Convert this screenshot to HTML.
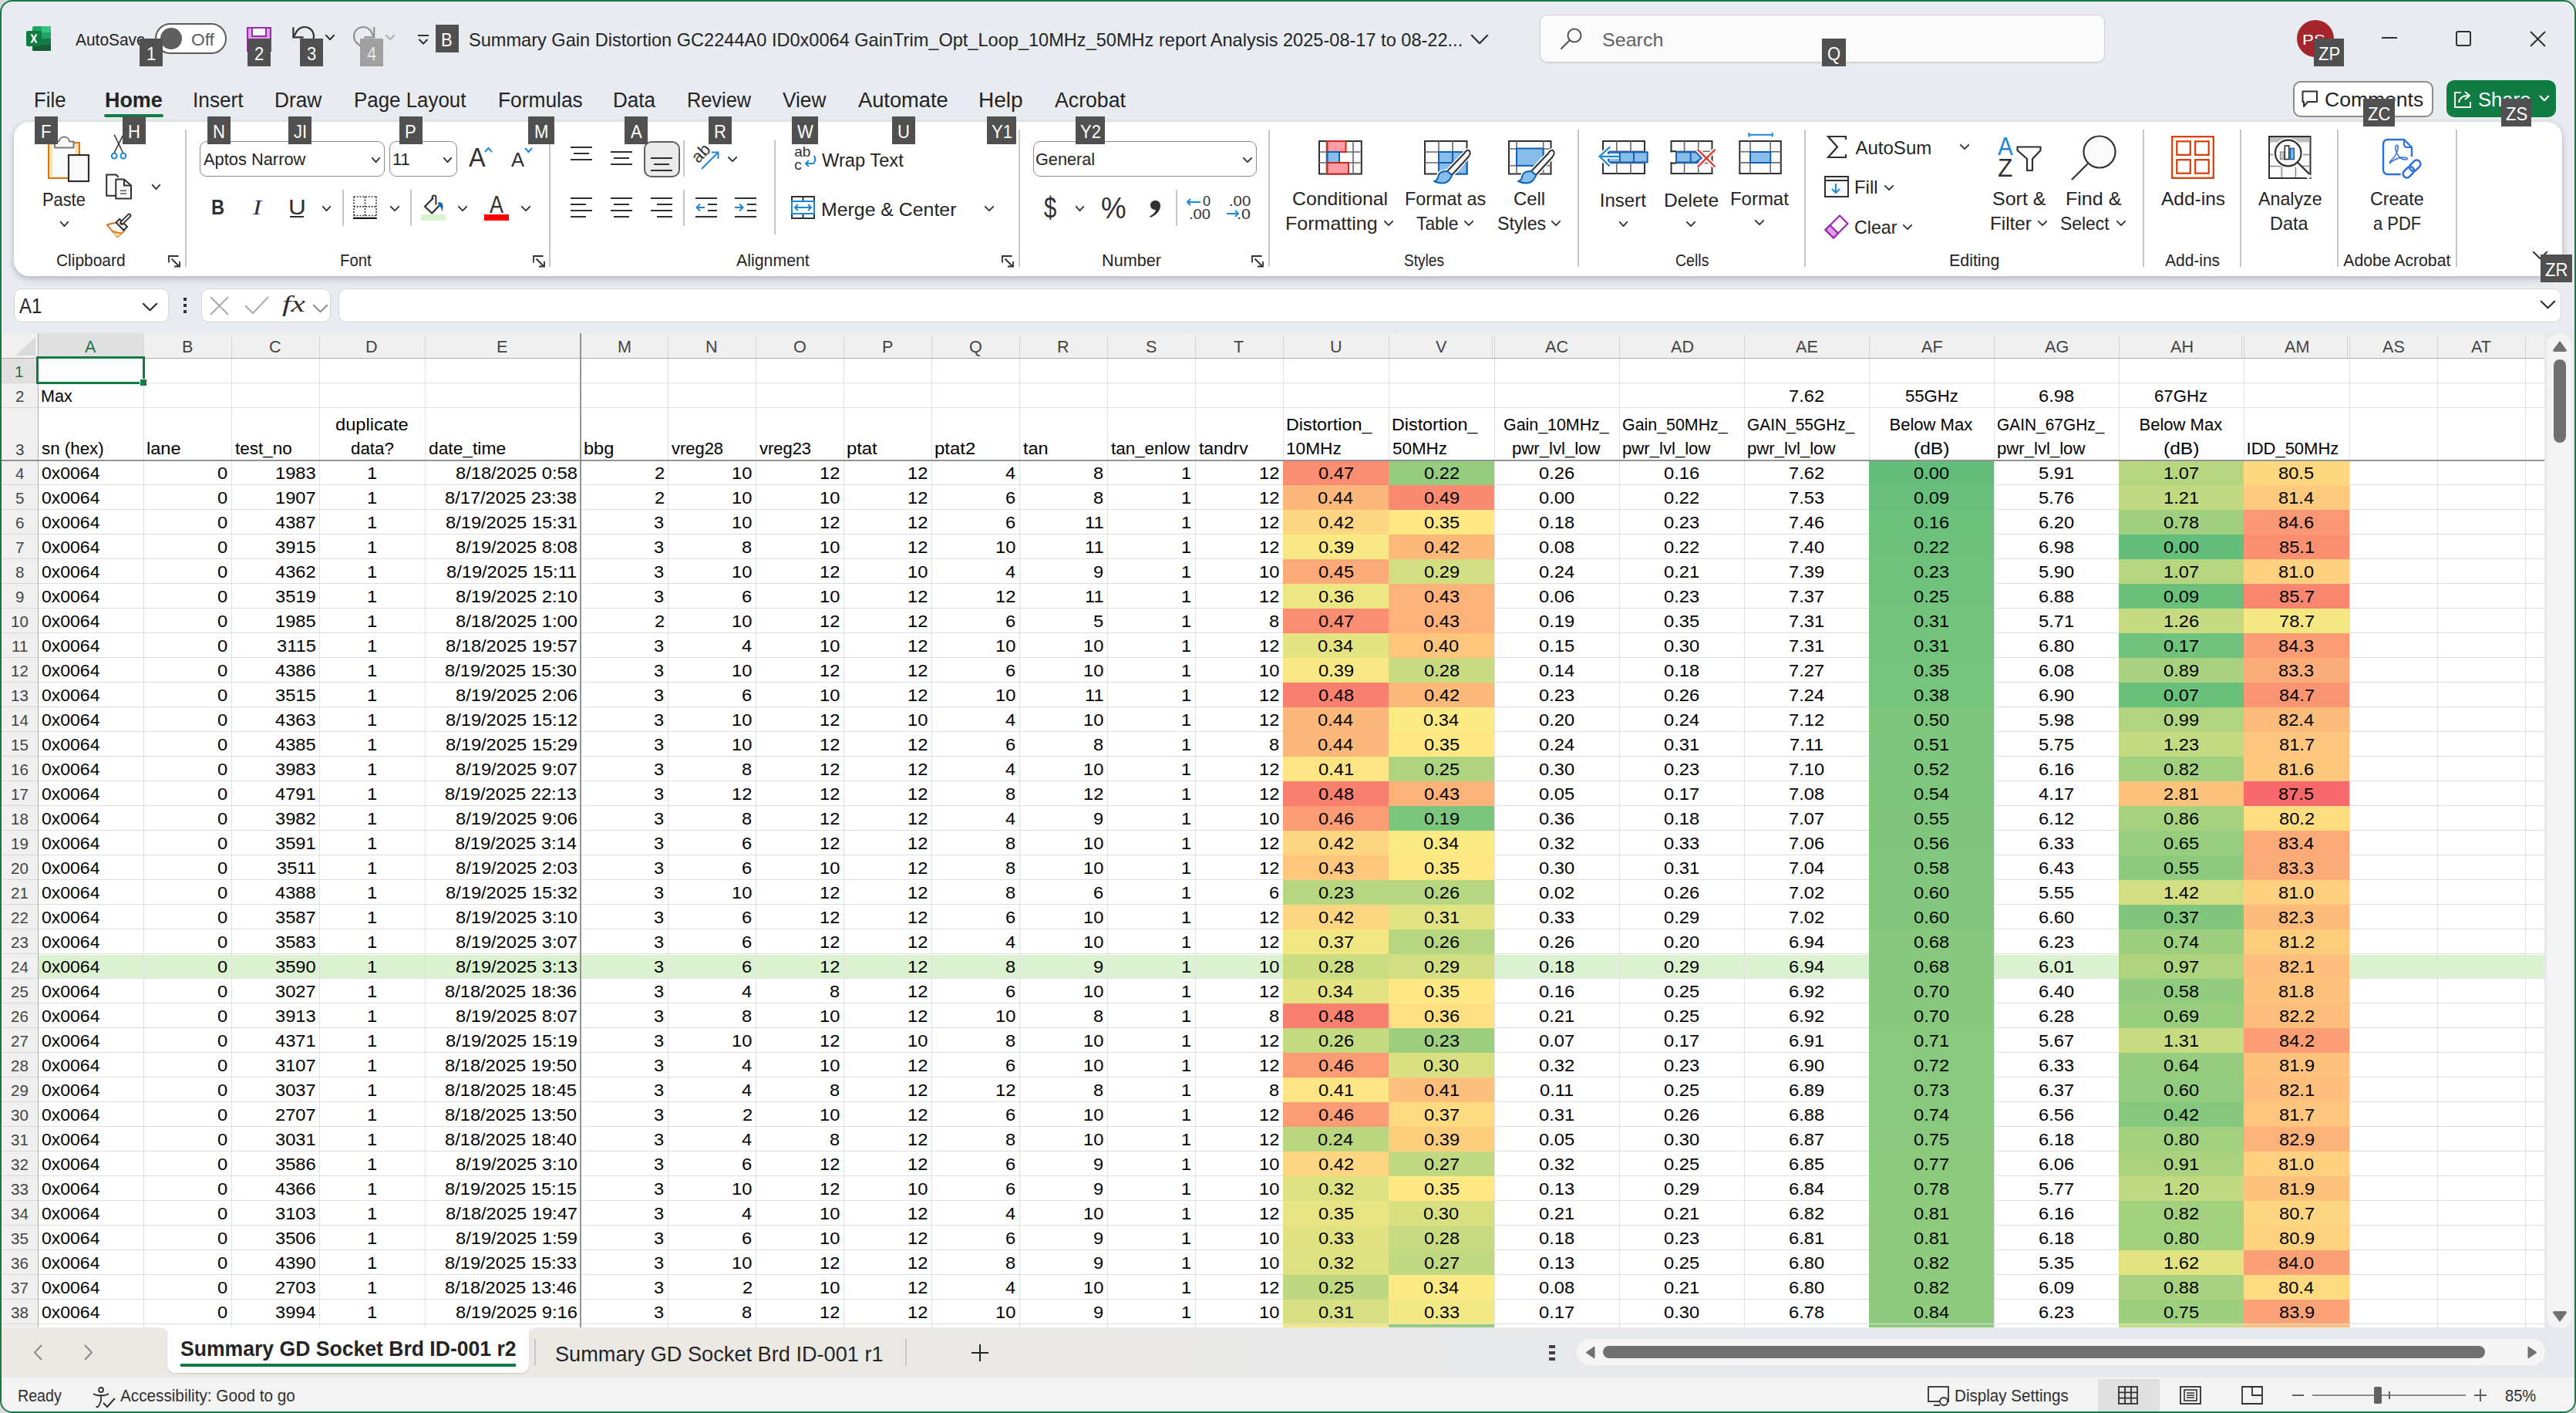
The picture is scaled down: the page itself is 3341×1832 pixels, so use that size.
<!DOCTYPE html><html><head><meta charset="utf-8"><title>Excel</title><style>
*{margin:0;padding:0;box-sizing:border-box}
html,body{width:3341px;height:1832px;overflow:hidden;background:#e8ebf0;font-family:'Liberation Sans',sans-serif}
.t{position:absolute;white-space:nowrap;line-height:1;transform-origin:0 0}
.r{position:absolute}
.s{position:absolute;overflow:visible}
</style></head><body>
<div class="r" style="left:0px;top:0px;width:3341px;height:1832px;background:#d9d9d9;"></div>
<div class="r" style="left:0px;top:0px;width:3341px;height:1832px;background:#e8ebf0;border:2px solid #107c41;border-radius:16px;"></div>
<div class="r" style="left:2px;top:432px;width:3298px;height:1289px;background:#ffffff;"></div>
<div class="r" style="left:2px;top:432px;width:3298px;height:32px;background:#f0f0f0;"></div>
<div class="r" style="left:49px;top:432px;width:137px;height:32px;background:#e0e0e0;"></div>
<div class="r" style="left:2px;top:464px;width:47px;height:1257px;background:#f0f0f0;"></div>
<div class="r" style="left:2px;top:464px;width:47px;height:32px;background:#e0e0e0;"></div>
<svg class="s" style="left:18px;top:436px" width="30" height="27" viewBox="0 0 30 27" fill="none"><path d="M28 1 L28 25 L2 25 Z" fill="#dadada"/></svg>
<div class="r" style="left:49px;top:1238px;width:3251px;height:30px;background:#daf2d0;"></div>
<div class="r" style="left:1664px;top:598px;width:137px;height:31px;background:#fa8d72;"></div>
<div class="r" style="left:1801px;top:598px;width:137px;height:31px;background:#95cc7e;"></div>
<div class="r" style="left:2424px;top:598px;width:162px;height:31px;background:#63be7b;"></div>
<div class="r" style="left:2748px;top:598px;width:162px;height:31px;background:#b6d680;"></div>
<div class="r" style="left:2910px;top:598px;width:137px;height:31px;background:#fed880;"></div>
<div class="r" style="left:1664px;top:629px;width:137px;height:32px;background:#fcb87a;"></div>
<div class="r" style="left:1801px;top:629px;width:137px;height:32px;background:#fa8b71;"></div>
<div class="r" style="left:2424px;top:629px;width:162px;height:32px;background:#68bf7b;"></div>
<div class="r" style="left:2748px;top:629px;width:162px;height:32px;background:#c1d980;"></div>
<div class="r" style="left:2910px;top:629px;width:137px;height:32px;background:#fdca7e;"></div>
<div class="r" style="left:1664px;top:661px;width:137px;height:32px;background:#fed580;"></div>
<div class="r" style="left:1801px;top:661px;width:137px;height:32px;background:#ffe783;"></div>
<div class="r" style="left:2424px;top:661px;width:162px;height:32px;background:#6bc07b;"></div>
<div class="r" style="left:2748px;top:661px;width:162px;height:32px;background:#a0d07f;"></div>
<div class="r" style="left:2910px;top:661px;width:137px;height:32px;background:#fa9774;"></div>
<div class="r" style="left:1664px;top:693px;width:137px;height:32px;background:#f9e984;"></div>
<div class="r" style="left:1801px;top:693px;width:137px;height:32px;background:#fcb97a;"></div>
<div class="r" style="left:2424px;top:693px;width:162px;height:32px;background:#6ec17c;"></div>
<div class="r" style="left:2748px;top:693px;width:162px;height:32px;background:#63be7b;"></div>
<div class="r" style="left:2910px;top:693px;width:137px;height:32px;background:#fa8f72;"></div>
<div class="r" style="left:1664px;top:725px;width:137px;height:32px;background:#fcaa78;"></div>
<div class="r" style="left:1801px;top:725px;width:137px;height:32px;background:#d1de81;"></div>
<div class="r" style="left:2424px;top:725px;width:162px;height:32px;background:#6fc17c;"></div>
<div class="r" style="left:2748px;top:725px;width:162px;height:32px;background:#b6d680;"></div>
<div class="r" style="left:2910px;top:725px;width:137px;height:32px;background:#fed07f;"></div>
<div class="r" style="left:1664px;top:757px;width:137px;height:32px;background:#ece683;"></div>
<div class="r" style="left:1801px;top:757px;width:137px;height:32px;background:#fcb279;"></div>
<div class="r" style="left:2424px;top:757px;width:162px;height:32px;background:#70c27c;"></div>
<div class="r" style="left:2748px;top:757px;width:162px;height:32px;background:#6ac07b;"></div>
<div class="r" style="left:2910px;top:757px;width:137px;height:32px;background:#fa8670;"></div>
<div class="r" style="left:1664px;top:789px;width:137px;height:32px;background:#fa8d72;"></div>
<div class="r" style="left:1801px;top:789px;width:137px;height:32px;background:#fcb279;"></div>
<div class="r" style="left:2424px;top:789px;width:162px;height:32px;background:#73c37c;"></div>
<div class="r" style="left:2748px;top:789px;width:162px;height:32px;background:#c5da81;"></div>
<div class="r" style="left:2910px;top:789px;width:137px;height:32px;background:#f5e883;"></div>
<div class="r" style="left:1664px;top:821px;width:137px;height:32px;background:#e4e382;"></div>
<div class="r" style="left:1801px;top:821px;width:137px;height:32px;background:#fdc67d;"></div>
<div class="r" style="left:2424px;top:821px;width:162px;height:32px;background:#73c37c;"></div>
<div class="r" style="left:2748px;top:821px;width:162px;height:32px;background:#70c27c;"></div>
<div class="r" style="left:2910px;top:821px;width:137px;height:32px;background:#fb9c75;"></div>
<div class="r" style="left:1664px;top:853px;width:137px;height:32px;background:#f9e984;"></div>
<div class="r" style="left:1801px;top:853px;width:137px;height:32px;background:#c8db81;"></div>
<div class="r" style="left:2424px;top:853px;width:162px;height:32px;background:#75c37c;"></div>
<div class="r" style="left:2748px;top:853px;width:162px;height:32px;background:#a8d27f;"></div>
<div class="r" style="left:2910px;top:853px;width:137px;height:32px;background:#fcac78;"></div>
<div class="r" style="left:1664px;top:885px;width:137px;height:32px;background:#f97f6f;"></div>
<div class="r" style="left:1801px;top:885px;width:137px;height:32px;background:#fcb97a;"></div>
<div class="r" style="left:2424px;top:885px;width:162px;height:32px;background:#77c47c;"></div>
<div class="r" style="left:2748px;top:885px;width:162px;height:32px;background:#68c07b;"></div>
<div class="r" style="left:2910px;top:885px;width:137px;height:32px;background:#fa9574;"></div>
<div class="r" style="left:1664px;top:917px;width:137px;height:32px;background:#fcb87a;"></div>
<div class="r" style="left:1801px;top:917px;width:137px;height:32px;background:#fcea84;"></div>
<div class="r" style="left:2424px;top:917px;width:162px;height:32px;background:#7dc67c;"></div>
<div class="r" style="left:2748px;top:917px;width:162px;height:32px;background:#b0d47f;"></div>
<div class="r" style="left:2910px;top:917px;width:137px;height:32px;background:#fcba7b;"></div>
<div class="r" style="left:1664px;top:949px;width:137px;height:32px;background:#fcb87a;"></div>
<div class="r" style="left:1801px;top:949px;width:137px;height:32px;background:#ffe783;"></div>
<div class="r" style="left:2424px;top:949px;width:162px;height:32px;background:#7ec67d;"></div>
<div class="r" style="left:2748px;top:949px;width:162px;height:32px;background:#c3da81;"></div>
<div class="r" style="left:2910px;top:949px;width:137px;height:32px;background:#fdc57d;"></div>
<div class="r" style="left:1664px;top:981px;width:137px;height:32px;background:#ffe483;"></div>
<div class="r" style="left:1801px;top:981px;width:137px;height:32px;background:#aed47f;"></div>
<div class="r" style="left:2424px;top:981px;width:162px;height:32px;background:#7ec67d;"></div>
<div class="r" style="left:2748px;top:981px;width:162px;height:32px;background:#a3d07f;"></div>
<div class="r" style="left:2910px;top:981px;width:137px;height:32px;background:#fdc77d;"></div>
<div class="r" style="left:1664px;top:1013px;width:137px;height:32px;background:#f97f6f;"></div>
<div class="r" style="left:1801px;top:1013px;width:137px;height:32px;background:#fcb279;"></div>
<div class="r" style="left:2424px;top:1013px;width:162px;height:32px;background:#7fc67d;"></div>
<div class="r" style="left:2748px;top:1013px;width:162px;height:32px;background:#fdc27c;"></div>
<div class="r" style="left:2910px;top:1013px;width:137px;height:32px;background:#f8696b;"></div>
<div class="r" style="left:1664px;top:1045px;width:137px;height:32px;background:#fb9c75;"></div>
<div class="r" style="left:1801px;top:1045px;width:137px;height:32px;background:#7bc57c;"></div>
<div class="r" style="left:2424px;top:1045px;width:162px;height:32px;background:#80c67d;"></div>
<div class="r" style="left:2748px;top:1045px;width:162px;height:32px;background:#a6d17f;"></div>
<div class="r" style="left:2910px;top:1045px;width:137px;height:32px;background:#fedd81;"></div>
<div class="r" style="left:1664px;top:1077px;width:137px;height:32px;background:#fed580;"></div>
<div class="r" style="left:1801px;top:1077px;width:137px;height:32px;background:#fcea84;"></div>
<div class="r" style="left:2424px;top:1077px;width:162px;height:32px;background:#80c67d;"></div>
<div class="r" style="left:2748px;top:1077px;width:162px;height:32px;background:#96cd7e;"></div>
<div class="r" style="left:2910px;top:1077px;width:137px;height:32px;background:#fcaa77;"></div>
<div class="r" style="left:1664px;top:1109px;width:137px;height:32px;background:#fdc77d;"></div>
<div class="r" style="left:1801px;top:1109px;width:137px;height:32px;background:#ffe783;"></div>
<div class="r" style="left:2424px;top:1109px;width:162px;height:32px;background:#81c77d;"></div>
<div class="r" style="left:2748px;top:1109px;width:162px;height:32px;background:#8eca7d;"></div>
<div class="r" style="left:2910px;top:1109px;width:137px;height:32px;background:#fcac78;"></div>
<div class="r" style="left:1664px;top:1141px;width:137px;height:32px;background:#b6d680;"></div>
<div class="r" style="left:1801px;top:1141px;width:137px;height:32px;background:#b7d680;"></div>
<div class="r" style="left:2424px;top:1141px;width:162px;height:32px;background:#82c77d;"></div>
<div class="r" style="left:2748px;top:1141px;width:162px;height:32px;background:#d2de81;"></div>
<div class="r" style="left:2910px;top:1141px;width:137px;height:32px;background:#fed07f;"></div>
<div class="r" style="left:1664px;top:1173px;width:137px;height:32px;background:#fed580;"></div>
<div class="r" style="left:1801px;top:1173px;width:137px;height:32px;background:#e2e382;"></div>
<div class="r" style="left:2424px;top:1173px;width:162px;height:32px;background:#82c77d;"></div>
<div class="r" style="left:2748px;top:1173px;width:162px;height:32px;background:#80c67d;"></div>
<div class="r" style="left:2910px;top:1173px;width:137px;height:32px;background:#fcbb7b;"></div>
<div class="r" style="left:1664px;top:1205px;width:137px;height:32px;background:#f0e783;"></div>
<div class="r" style="left:1801px;top:1205px;width:137px;height:32px;background:#b7d680;"></div>
<div class="r" style="left:2424px;top:1205px;width:162px;height:32px;background:#86c87d;"></div>
<div class="r" style="left:2748px;top:1205px;width:162px;height:32px;background:#9dcf7e;"></div>
<div class="r" style="left:2910px;top:1205px;width:137px;height:32px;background:#fdcd7e;"></div>
<div class="r" style="left:1664px;top:1237px;width:137px;height:32px;background:#cbdc81;"></div>
<div class="r" style="left:1801px;top:1237px;width:137px;height:32px;background:#d1de81;"></div>
<div class="r" style="left:2424px;top:1237px;width:162px;height:32px;background:#86c87d;"></div>
<div class="r" style="left:2748px;top:1237px;width:162px;height:32px;background:#afd47f;"></div>
<div class="r" style="left:2910px;top:1237px;width:137px;height:32px;background:#fdbf7b;"></div>
<div class="r" style="left:1664px;top:1269px;width:137px;height:32px;background:#e4e382;"></div>
<div class="r" style="left:1801px;top:1269px;width:137px;height:32px;background:#ffe783;"></div>
<div class="r" style="left:2424px;top:1269px;width:162px;height:32px;background:#87c87d;"></div>
<div class="r" style="left:2748px;top:1269px;width:162px;height:32px;background:#90cb7e;"></div>
<div class="r" style="left:2910px;top:1269px;width:137px;height:32px;background:#fdc37c;"></div>
<div class="r" style="left:1664px;top:1301px;width:137px;height:32px;background:#f97f6f;"></div>
<div class="r" style="left:1801px;top:1301px;width:137px;height:32px;background:#fee082;"></div>
<div class="r" style="left:2424px;top:1301px;width:162px;height:32px;background:#87c87d;"></div>
<div class="r" style="left:2748px;top:1301px;width:162px;height:32px;background:#99ce7e;"></div>
<div class="r" style="left:2910px;top:1301px;width:137px;height:32px;background:#fdbd7b;"></div>
<div class="r" style="left:1664px;top:1333px;width:137px;height:32px;background:#c3da81;"></div>
<div class="r" style="left:1801px;top:1333px;width:137px;height:32px;background:#9dcf7e;"></div>
<div class="r" style="left:2424px;top:1333px;width:162px;height:32px;background:#88c97d;"></div>
<div class="r" style="left:2748px;top:1333px;width:162px;height:32px;background:#c9db81;"></div>
<div class="r" style="left:2910px;top:1333px;width:137px;height:32px;background:#fb9d75;"></div>
<div class="r" style="left:1664px;top:1365px;width:137px;height:32px;background:#fb9c75;"></div>
<div class="r" style="left:1801px;top:1365px;width:137px;height:32px;background:#d9e082;"></div>
<div class="r" style="left:2424px;top:1365px;width:162px;height:32px;background:#88c97d;"></div>
<div class="r" style="left:2748px;top:1365px;width:162px;height:32px;background:#95cc7e;"></div>
<div class="r" style="left:2910px;top:1365px;width:137px;height:32px;background:#fdc27c;"></div>
<div class="r" style="left:1664px;top:1397px;width:137px;height:32px;background:#ffe483;"></div>
<div class="r" style="left:1801px;top:1397px;width:137px;height:32px;background:#fdbf7c;"></div>
<div class="r" style="left:2424px;top:1397px;width:162px;height:32px;background:#89c97d;"></div>
<div class="r" style="left:2748px;top:1397px;width:162px;height:32px;background:#92cc7e;"></div>
<div class="r" style="left:2910px;top:1397px;width:137px;height:32px;background:#fdbf7b;"></div>
<div class="r" style="left:1664px;top:1429px;width:137px;height:32px;background:#fb9c75;"></div>
<div class="r" style="left:1801px;top:1429px;width:137px;height:32px;background:#feda81;"></div>
<div class="r" style="left:2424px;top:1429px;width:162px;height:32px;background:#89c97d;"></div>
<div class="r" style="left:2748px;top:1429px;width:162px;height:32px;background:#84c77d;"></div>
<div class="r" style="left:2910px;top:1429px;width:137px;height:32px;background:#fdc57d;"></div>
<div class="r" style="left:1664px;top:1461px;width:137px;height:32px;background:#bad780;"></div>
<div class="r" style="left:1801px;top:1461px;width:137px;height:32px;background:#fdcd7e;"></div>
<div class="r" style="left:2424px;top:1461px;width:162px;height:32px;background:#8ac97d;"></div>
<div class="r" style="left:2748px;top:1461px;width:162px;height:32px;background:#a1d07f;"></div>
<div class="r" style="left:2910px;top:1461px;width:137px;height:32px;background:#fcb279;"></div>
<div class="r" style="left:1664px;top:1493px;width:137px;height:32px;background:#fed580;"></div>
<div class="r" style="left:1801px;top:1493px;width:137px;height:32px;background:#c0d980;"></div>
<div class="r" style="left:2424px;top:1493px;width:162px;height:32px;background:#8bca7d;"></div>
<div class="r" style="left:2748px;top:1493px;width:162px;height:32px;background:#aad27f;"></div>
<div class="r" style="left:2910px;top:1493px;width:137px;height:32px;background:#fed07f;"></div>
<div class="r" style="left:1664px;top:1525px;width:137px;height:32px;background:#dce182;"></div>
<div class="r" style="left:1801px;top:1525px;width:137px;height:32px;background:#ffe783;"></div>
<div class="r" style="left:2424px;top:1525px;width:162px;height:32px;background:#8cca7d;"></div>
<div class="r" style="left:2748px;top:1525px;width:162px;height:32px;background:#c1d980;"></div>
<div class="r" style="left:2910px;top:1525px;width:137px;height:32px;background:#fdc27c;"></div>
<div class="r" style="left:1664px;top:1557px;width:137px;height:32px;background:#e8e483;"></div>
<div class="r" style="left:1801px;top:1557px;width:137px;height:32px;background:#d9e082;"></div>
<div class="r" style="left:2424px;top:1557px;width:162px;height:32px;background:#8dca7d;"></div>
<div class="r" style="left:2748px;top:1557px;width:162px;height:32px;background:#a3d07f;"></div>
<div class="r" style="left:2910px;top:1557px;width:137px;height:32px;background:#fed580;"></div>
<div class="r" style="left:1664px;top:1589px;width:137px;height:32px;background:#e0e282;"></div>
<div class="r" style="left:1801px;top:1589px;width:137px;height:32px;background:#c8db81;"></div>
<div class="r" style="left:2424px;top:1589px;width:162px;height:32px;background:#8dca7d;"></div>
<div class="r" style="left:2748px;top:1589px;width:162px;height:32px;background:#a1d07f;"></div>
<div class="r" style="left:2910px;top:1589px;width:137px;height:32px;background:#fed27f;"></div>
<div class="r" style="left:1664px;top:1621px;width:137px;height:32px;background:#dce182;"></div>
<div class="r" style="left:1801px;top:1621px;width:137px;height:32px;background:#c0d980;"></div>
<div class="r" style="left:2424px;top:1621px;width:162px;height:32px;background:#8eca7d;"></div>
<div class="r" style="left:2748px;top:1621px;width:162px;height:32px;background:#e1e282;"></div>
<div class="r" style="left:2910px;top:1621px;width:137px;height:32px;background:#fba076;"></div>
<div class="r" style="left:1664px;top:1653px;width:137px;height:32px;background:#bfd880;"></div>
<div class="r" style="left:1801px;top:1653px;width:137px;height:32px;background:#fcea84;"></div>
<div class="r" style="left:2424px;top:1653px;width:162px;height:32px;background:#8eca7d;"></div>
<div class="r" style="left:2748px;top:1653px;width:162px;height:32px;background:#a8d27f;"></div>
<div class="r" style="left:2910px;top:1653px;width:137px;height:32px;background:#feda81;"></div>
<div class="r" style="left:1664px;top:1685px;width:137px;height:31px;background:#d7e082;"></div>
<div class="r" style="left:1801px;top:1685px;width:137px;height:31px;background:#f3e883;"></div>
<div class="r" style="left:2424px;top:1685px;width:162px;height:31px;background:#8fcb7e;"></div>
<div class="r" style="left:2748px;top:1685px;width:162px;height:31px;background:#9ecf7e;"></div>
<div class="r" style="left:2910px;top:1685px;width:137px;height:31px;background:#fba276;"></div>
<div class="r" style="left:1664px;top:1717px;width:137px;height:4px;background:#f2e683;"></div>
<div class="r" style="left:1801px;top:1717px;width:137px;height:4px;background:#97ca7d;"></div>
<div class="r" style="left:2424px;top:1717px;width:162px;height:4px;background:#8fca7d;"></div>
<div class="r" style="left:2748px;top:1717px;width:162px;height:4px;background:#c5db81;"></div>
<div class="r" style="left:2910px;top:1717px;width:137px;height:4px;background:#fdbe7b;"></div>
<div class="r" style="left:49px;top:496px;width:3251px;height:1px;background:#e1e1e1;"></div>
<div class="r" style="left:2px;top:496px;width:47px;height:1px;background:#d8d8d8;"></div>
<div class="r" style="left:49px;top:528px;width:3251px;height:1px;background:#e1e1e1;"></div>
<div class="r" style="left:2px;top:528px;width:47px;height:1px;background:#d8d8d8;"></div>
<div class="r" style="left:49px;top:628px;width:3251px;height:1px;background:#e1e1e1;"></div>
<div class="r" style="left:2px;top:628px;width:47px;height:1px;background:#d8d8d8;"></div>
<div class="r" style="left:49px;top:660px;width:3251px;height:1px;background:#e1e1e1;"></div>
<div class="r" style="left:2px;top:660px;width:47px;height:1px;background:#d8d8d8;"></div>
<div class="r" style="left:49px;top:692px;width:3251px;height:1px;background:#e1e1e1;"></div>
<div class="r" style="left:2px;top:692px;width:47px;height:1px;background:#d8d8d8;"></div>
<div class="r" style="left:49px;top:724px;width:3251px;height:1px;background:#e1e1e1;"></div>
<div class="r" style="left:2px;top:724px;width:47px;height:1px;background:#d8d8d8;"></div>
<div class="r" style="left:49px;top:756px;width:3251px;height:1px;background:#e1e1e1;"></div>
<div class="r" style="left:2px;top:756px;width:47px;height:1px;background:#d8d8d8;"></div>
<div class="r" style="left:49px;top:788px;width:3251px;height:1px;background:#e1e1e1;"></div>
<div class="r" style="left:2px;top:788px;width:47px;height:1px;background:#d8d8d8;"></div>
<div class="r" style="left:49px;top:820px;width:3251px;height:1px;background:#e1e1e1;"></div>
<div class="r" style="left:2px;top:820px;width:47px;height:1px;background:#d8d8d8;"></div>
<div class="r" style="left:49px;top:852px;width:3251px;height:1px;background:#e1e1e1;"></div>
<div class="r" style="left:2px;top:852px;width:47px;height:1px;background:#d8d8d8;"></div>
<div class="r" style="left:49px;top:884px;width:3251px;height:1px;background:#e1e1e1;"></div>
<div class="r" style="left:2px;top:884px;width:47px;height:1px;background:#d8d8d8;"></div>
<div class="r" style="left:49px;top:916px;width:3251px;height:1px;background:#e1e1e1;"></div>
<div class="r" style="left:2px;top:916px;width:47px;height:1px;background:#d8d8d8;"></div>
<div class="r" style="left:49px;top:948px;width:3251px;height:1px;background:#e1e1e1;"></div>
<div class="r" style="left:2px;top:948px;width:47px;height:1px;background:#d8d8d8;"></div>
<div class="r" style="left:49px;top:980px;width:3251px;height:1px;background:#e1e1e1;"></div>
<div class="r" style="left:2px;top:980px;width:47px;height:1px;background:#d8d8d8;"></div>
<div class="r" style="left:49px;top:1012px;width:3251px;height:1px;background:#e1e1e1;"></div>
<div class="r" style="left:2px;top:1012px;width:47px;height:1px;background:#d8d8d8;"></div>
<div class="r" style="left:49px;top:1044px;width:3251px;height:1px;background:#e1e1e1;"></div>
<div class="r" style="left:2px;top:1044px;width:47px;height:1px;background:#d8d8d8;"></div>
<div class="r" style="left:49px;top:1076px;width:3251px;height:1px;background:#e1e1e1;"></div>
<div class="r" style="left:2px;top:1076px;width:47px;height:1px;background:#d8d8d8;"></div>
<div class="r" style="left:49px;top:1108px;width:3251px;height:1px;background:#e1e1e1;"></div>
<div class="r" style="left:2px;top:1108px;width:47px;height:1px;background:#d8d8d8;"></div>
<div class="r" style="left:49px;top:1140px;width:3251px;height:1px;background:#e1e1e1;"></div>
<div class="r" style="left:2px;top:1140px;width:47px;height:1px;background:#d8d8d8;"></div>
<div class="r" style="left:49px;top:1172px;width:3251px;height:1px;background:#e1e1e1;"></div>
<div class="r" style="left:2px;top:1172px;width:47px;height:1px;background:#d8d8d8;"></div>
<div class="r" style="left:49px;top:1204px;width:3251px;height:1px;background:#e1e1e1;"></div>
<div class="r" style="left:2px;top:1204px;width:47px;height:1px;background:#d8d8d8;"></div>
<div class="r" style="left:49px;top:1236px;width:3251px;height:1px;background:#e1e1e1;"></div>
<div class="r" style="left:2px;top:1236px;width:47px;height:1px;background:#d8d8d8;"></div>
<div class="r" style="left:49px;top:1268px;width:3251px;height:1px;background:#e1e1e1;"></div>
<div class="r" style="left:2px;top:1268px;width:47px;height:1px;background:#d8d8d8;"></div>
<div class="r" style="left:49px;top:1300px;width:3251px;height:1px;background:#e1e1e1;"></div>
<div class="r" style="left:2px;top:1300px;width:47px;height:1px;background:#d8d8d8;"></div>
<div class="r" style="left:49px;top:1332px;width:3251px;height:1px;background:#e1e1e1;"></div>
<div class="r" style="left:2px;top:1332px;width:47px;height:1px;background:#d8d8d8;"></div>
<div class="r" style="left:49px;top:1364px;width:3251px;height:1px;background:#e1e1e1;"></div>
<div class="r" style="left:2px;top:1364px;width:47px;height:1px;background:#d8d8d8;"></div>
<div class="r" style="left:49px;top:1396px;width:3251px;height:1px;background:#e1e1e1;"></div>
<div class="r" style="left:2px;top:1396px;width:47px;height:1px;background:#d8d8d8;"></div>
<div class="r" style="left:49px;top:1428px;width:3251px;height:1px;background:#e1e1e1;"></div>
<div class="r" style="left:2px;top:1428px;width:47px;height:1px;background:#d8d8d8;"></div>
<div class="r" style="left:49px;top:1460px;width:3251px;height:1px;background:#e1e1e1;"></div>
<div class="r" style="left:2px;top:1460px;width:47px;height:1px;background:#d8d8d8;"></div>
<div class="r" style="left:49px;top:1492px;width:3251px;height:1px;background:#e1e1e1;"></div>
<div class="r" style="left:2px;top:1492px;width:47px;height:1px;background:#d8d8d8;"></div>
<div class="r" style="left:49px;top:1524px;width:3251px;height:1px;background:#e1e1e1;"></div>
<div class="r" style="left:2px;top:1524px;width:47px;height:1px;background:#d8d8d8;"></div>
<div class="r" style="left:49px;top:1556px;width:3251px;height:1px;background:#e1e1e1;"></div>
<div class="r" style="left:2px;top:1556px;width:47px;height:1px;background:#d8d8d8;"></div>
<div class="r" style="left:49px;top:1588px;width:3251px;height:1px;background:#e1e1e1;"></div>
<div class="r" style="left:2px;top:1588px;width:47px;height:1px;background:#d8d8d8;"></div>
<div class="r" style="left:49px;top:1620px;width:3251px;height:1px;background:#e1e1e1;"></div>
<div class="r" style="left:2px;top:1620px;width:47px;height:1px;background:#d8d8d8;"></div>
<div class="r" style="left:49px;top:1652px;width:3251px;height:1px;background:#e1e1e1;"></div>
<div class="r" style="left:2px;top:1652px;width:47px;height:1px;background:#d8d8d8;"></div>
<div class="r" style="left:49px;top:1684px;width:3251px;height:1px;background:#e1e1e1;"></div>
<div class="r" style="left:2px;top:1684px;width:47px;height:1px;background:#d8d8d8;"></div>
<div class="r" style="left:49px;top:1716px;width:3251px;height:1px;background:#e1e1e1;"></div>
<div class="r" style="left:2px;top:1716px;width:47px;height:1px;background:#d8d8d8;"></div>
<div class="r" style="left:186px;top:464px;width:1px;height:1257px;background:#e1e1e1;"></div>
<div class="r" style="left:300px;top:464px;width:1px;height:1257px;background:#e1e1e1;"></div>
<div class="r" style="left:414px;top:464px;width:1px;height:1257px;background:#e1e1e1;"></div>
<div class="r" style="left:551px;top:464px;width:1px;height:1257px;background:#e1e1e1;"></div>
<div class="r" style="left:753px;top:464px;width:1px;height:1257px;background:#e1e1e1;"></div>
<div class="r" style="left:866px;top:464px;width:1px;height:1257px;background:#e1e1e1;"></div>
<div class="r" style="left:980px;top:464px;width:1px;height:1257px;background:#e1e1e1;"></div>
<div class="r" style="left:1094px;top:464px;width:1px;height:1257px;background:#e1e1e1;"></div>
<div class="r" style="left:1208px;top:464px;width:1px;height:1257px;background:#e1e1e1;"></div>
<div class="r" style="left:1322px;top:464px;width:1px;height:1257px;background:#e1e1e1;"></div>
<div class="r" style="left:1436px;top:464px;width:1px;height:1257px;background:#e1e1e1;"></div>
<div class="r" style="left:1550px;top:464px;width:1px;height:1257px;background:#e1e1e1;"></div>
<div class="r" style="left:1664px;top:464px;width:1px;height:1257px;background:#e1e1e1;"></div>
<div class="r" style="left:1801px;top:464px;width:1px;height:1257px;background:#e1e1e1;"></div>
<div class="r" style="left:1938px;top:464px;width:1px;height:1257px;background:#e1e1e1;"></div>
<div class="r" style="left:2100px;top:464px;width:1px;height:1257px;background:#e1e1e1;"></div>
<div class="r" style="left:2262px;top:464px;width:1px;height:1257px;background:#e1e1e1;"></div>
<div class="r" style="left:2424px;top:464px;width:1px;height:1257px;background:#e1e1e1;"></div>
<div class="r" style="left:2586px;top:464px;width:1px;height:1257px;background:#e1e1e1;"></div>
<div class="r" style="left:2748px;top:464px;width:1px;height:1257px;background:#e1e1e1;"></div>
<div class="r" style="left:2910px;top:464px;width:1px;height:1257px;background:#e1e1e1;"></div>
<div class="r" style="left:3047px;top:464px;width:1px;height:1257px;background:#e1e1e1;"></div>
<div class="r" style="left:3161px;top:464px;width:1px;height:1257px;background:#e1e1e1;"></div>
<div class="r" style="left:3275px;top:464px;width:1px;height:1257px;background:#e1e1e1;"></div>
<div class="r" style="left:186px;top:436px;width:1px;height:28px;background:#d4d4d4;"></div>
<div class="r" style="left:300px;top:436px;width:1px;height:28px;background:#d4d4d4;"></div>
<div class="r" style="left:414px;top:436px;width:1px;height:28px;background:#d4d4d4;"></div>
<div class="r" style="left:551px;top:436px;width:1px;height:28px;background:#d4d4d4;"></div>
<div class="r" style="left:753px;top:436px;width:1px;height:28px;background:#d4d4d4;"></div>
<div class="r" style="left:866px;top:436px;width:1px;height:28px;background:#d4d4d4;"></div>
<div class="r" style="left:980px;top:436px;width:1px;height:28px;background:#d4d4d4;"></div>
<div class="r" style="left:1094px;top:436px;width:1px;height:28px;background:#d4d4d4;"></div>
<div class="r" style="left:1208px;top:436px;width:1px;height:28px;background:#d4d4d4;"></div>
<div class="r" style="left:1322px;top:436px;width:1px;height:28px;background:#d4d4d4;"></div>
<div class="r" style="left:1436px;top:436px;width:1px;height:28px;background:#d4d4d4;"></div>
<div class="r" style="left:1550px;top:436px;width:1px;height:28px;background:#d4d4d4;"></div>
<div class="r" style="left:1664px;top:436px;width:1px;height:28px;background:#d4d4d4;"></div>
<div class="r" style="left:1801px;top:436px;width:1px;height:28px;background:#d4d4d4;"></div>
<div class="r" style="left:1938px;top:436px;width:1px;height:28px;background:#d4d4d4;"></div>
<div class="r" style="left:2100px;top:436px;width:1px;height:28px;background:#d4d4d4;"></div>
<div class="r" style="left:2262px;top:436px;width:1px;height:28px;background:#d4d4d4;"></div>
<div class="r" style="left:2424px;top:436px;width:1px;height:28px;background:#d4d4d4;"></div>
<div class="r" style="left:2586px;top:436px;width:1px;height:28px;background:#d4d4d4;"></div>
<div class="r" style="left:2748px;top:436px;width:1px;height:28px;background:#d4d4d4;"></div>
<div class="r" style="left:2910px;top:436px;width:1px;height:28px;background:#d4d4d4;"></div>
<div class="r" style="left:3047px;top:436px;width:1px;height:28px;background:#d4d4d4;"></div>
<div class="r" style="left:3161px;top:436px;width:1px;height:28px;background:#d4d4d4;"></div>
<div class="r" style="left:3275px;top:436px;width:1px;height:28px;background:#d4d4d4;"></div>
<div class="r" style="left:1935px;top:436px;width:1px;height:28px;background:#d4d4d4;"></div>
<div class="r" style="left:2907px;top:436px;width:1px;height:28px;background:#d4d4d4;"></div>
<div class="r" style="left:3044px;top:436px;width:1px;height:28px;background:#d4d4d4;"></div>
<div class="r" style="left:1664px;top:598px;width:137px;height:31px;background:#fa8d72;"></div>
<div class="r" style="left:1801px;top:598px;width:137px;height:31px;background:#95cc7e;"></div>
<div class="r" style="left:2424px;top:598px;width:162px;height:31px;background:#63be7b;"></div>
<div class="r" style="left:2748px;top:598px;width:162px;height:31px;background:#b6d680;"></div>
<div class="r" style="left:2910px;top:598px;width:137px;height:31px;background:#fed880;"></div>
<div class="r" style="left:1664px;top:629px;width:137px;height:32px;background:#fcb87a;"></div>
<div class="r" style="left:1801px;top:629px;width:137px;height:32px;background:#fa8b71;"></div>
<div class="r" style="left:2424px;top:629px;width:162px;height:32px;background:#68bf7b;"></div>
<div class="r" style="left:2748px;top:629px;width:162px;height:32px;background:#c1d980;"></div>
<div class="r" style="left:2910px;top:629px;width:137px;height:32px;background:#fdca7e;"></div>
<div class="r" style="left:1664px;top:661px;width:137px;height:32px;background:#fed580;"></div>
<div class="r" style="left:1801px;top:661px;width:137px;height:32px;background:#ffe783;"></div>
<div class="r" style="left:2424px;top:661px;width:162px;height:32px;background:#6bc07b;"></div>
<div class="r" style="left:2748px;top:661px;width:162px;height:32px;background:#a0d07f;"></div>
<div class="r" style="left:2910px;top:661px;width:137px;height:32px;background:#fa9774;"></div>
<div class="r" style="left:1664px;top:693px;width:137px;height:32px;background:#f9e984;"></div>
<div class="r" style="left:1801px;top:693px;width:137px;height:32px;background:#fcb97a;"></div>
<div class="r" style="left:2424px;top:693px;width:162px;height:32px;background:#6ec17c;"></div>
<div class="r" style="left:2748px;top:693px;width:162px;height:32px;background:#63be7b;"></div>
<div class="r" style="left:2910px;top:693px;width:137px;height:32px;background:#fa8f72;"></div>
<div class="r" style="left:1664px;top:725px;width:137px;height:32px;background:#fcaa78;"></div>
<div class="r" style="left:1801px;top:725px;width:137px;height:32px;background:#d1de81;"></div>
<div class="r" style="left:2424px;top:725px;width:162px;height:32px;background:#6fc17c;"></div>
<div class="r" style="left:2748px;top:725px;width:162px;height:32px;background:#b6d680;"></div>
<div class="r" style="left:2910px;top:725px;width:137px;height:32px;background:#fed07f;"></div>
<div class="r" style="left:1664px;top:757px;width:137px;height:32px;background:#ece683;"></div>
<div class="r" style="left:1801px;top:757px;width:137px;height:32px;background:#fcb279;"></div>
<div class="r" style="left:2424px;top:757px;width:162px;height:32px;background:#70c27c;"></div>
<div class="r" style="left:2748px;top:757px;width:162px;height:32px;background:#6ac07b;"></div>
<div class="r" style="left:2910px;top:757px;width:137px;height:32px;background:#fa8670;"></div>
<div class="r" style="left:1664px;top:789px;width:137px;height:32px;background:#fa8d72;"></div>
<div class="r" style="left:1801px;top:789px;width:137px;height:32px;background:#fcb279;"></div>
<div class="r" style="left:2424px;top:789px;width:162px;height:32px;background:#73c37c;"></div>
<div class="r" style="left:2748px;top:789px;width:162px;height:32px;background:#c5da81;"></div>
<div class="r" style="left:2910px;top:789px;width:137px;height:32px;background:#f5e883;"></div>
<div class="r" style="left:1664px;top:821px;width:137px;height:32px;background:#e4e382;"></div>
<div class="r" style="left:1801px;top:821px;width:137px;height:32px;background:#fdc67d;"></div>
<div class="r" style="left:2424px;top:821px;width:162px;height:32px;background:#73c37c;"></div>
<div class="r" style="left:2748px;top:821px;width:162px;height:32px;background:#70c27c;"></div>
<div class="r" style="left:2910px;top:821px;width:137px;height:32px;background:#fb9c75;"></div>
<div class="r" style="left:1664px;top:853px;width:137px;height:32px;background:#f9e984;"></div>
<div class="r" style="left:1801px;top:853px;width:137px;height:32px;background:#c8db81;"></div>
<div class="r" style="left:2424px;top:853px;width:162px;height:32px;background:#75c37c;"></div>
<div class="r" style="left:2748px;top:853px;width:162px;height:32px;background:#a8d27f;"></div>
<div class="r" style="left:2910px;top:853px;width:137px;height:32px;background:#fcac78;"></div>
<div class="r" style="left:1664px;top:885px;width:137px;height:32px;background:#f97f6f;"></div>
<div class="r" style="left:1801px;top:885px;width:137px;height:32px;background:#fcb97a;"></div>
<div class="r" style="left:2424px;top:885px;width:162px;height:32px;background:#77c47c;"></div>
<div class="r" style="left:2748px;top:885px;width:162px;height:32px;background:#68c07b;"></div>
<div class="r" style="left:2910px;top:885px;width:137px;height:32px;background:#fa9574;"></div>
<div class="r" style="left:1664px;top:917px;width:137px;height:32px;background:#fcb87a;"></div>
<div class="r" style="left:1801px;top:917px;width:137px;height:32px;background:#fcea84;"></div>
<div class="r" style="left:2424px;top:917px;width:162px;height:32px;background:#7dc67c;"></div>
<div class="r" style="left:2748px;top:917px;width:162px;height:32px;background:#b0d47f;"></div>
<div class="r" style="left:2910px;top:917px;width:137px;height:32px;background:#fcba7b;"></div>
<div class="r" style="left:1664px;top:949px;width:137px;height:32px;background:#fcb87a;"></div>
<div class="r" style="left:1801px;top:949px;width:137px;height:32px;background:#ffe783;"></div>
<div class="r" style="left:2424px;top:949px;width:162px;height:32px;background:#7ec67d;"></div>
<div class="r" style="left:2748px;top:949px;width:162px;height:32px;background:#c3da81;"></div>
<div class="r" style="left:2910px;top:949px;width:137px;height:32px;background:#fdc57d;"></div>
<div class="r" style="left:1664px;top:981px;width:137px;height:32px;background:#ffe483;"></div>
<div class="r" style="left:1801px;top:981px;width:137px;height:32px;background:#aed47f;"></div>
<div class="r" style="left:2424px;top:981px;width:162px;height:32px;background:#7ec67d;"></div>
<div class="r" style="left:2748px;top:981px;width:162px;height:32px;background:#a3d07f;"></div>
<div class="r" style="left:2910px;top:981px;width:137px;height:32px;background:#fdc77d;"></div>
<div class="r" style="left:1664px;top:1013px;width:137px;height:32px;background:#f97f6f;"></div>
<div class="r" style="left:1801px;top:1013px;width:137px;height:32px;background:#fcb279;"></div>
<div class="r" style="left:2424px;top:1013px;width:162px;height:32px;background:#7fc67d;"></div>
<div class="r" style="left:2748px;top:1013px;width:162px;height:32px;background:#fdc27c;"></div>
<div class="r" style="left:2910px;top:1013px;width:137px;height:32px;background:#f8696b;"></div>
<div class="r" style="left:1664px;top:1045px;width:137px;height:32px;background:#fb9c75;"></div>
<div class="r" style="left:1801px;top:1045px;width:137px;height:32px;background:#7bc57c;"></div>
<div class="r" style="left:2424px;top:1045px;width:162px;height:32px;background:#80c67d;"></div>
<div class="r" style="left:2748px;top:1045px;width:162px;height:32px;background:#a6d17f;"></div>
<div class="r" style="left:2910px;top:1045px;width:137px;height:32px;background:#fedd81;"></div>
<div class="r" style="left:1664px;top:1077px;width:137px;height:32px;background:#fed580;"></div>
<div class="r" style="left:1801px;top:1077px;width:137px;height:32px;background:#fcea84;"></div>
<div class="r" style="left:2424px;top:1077px;width:162px;height:32px;background:#80c67d;"></div>
<div class="r" style="left:2748px;top:1077px;width:162px;height:32px;background:#96cd7e;"></div>
<div class="r" style="left:2910px;top:1077px;width:137px;height:32px;background:#fcaa77;"></div>
<div class="r" style="left:1664px;top:1109px;width:137px;height:32px;background:#fdc77d;"></div>
<div class="r" style="left:1801px;top:1109px;width:137px;height:32px;background:#ffe783;"></div>
<div class="r" style="left:2424px;top:1109px;width:162px;height:32px;background:#81c77d;"></div>
<div class="r" style="left:2748px;top:1109px;width:162px;height:32px;background:#8eca7d;"></div>
<div class="r" style="left:2910px;top:1109px;width:137px;height:32px;background:#fcac78;"></div>
<div class="r" style="left:1664px;top:1141px;width:137px;height:32px;background:#b6d680;"></div>
<div class="r" style="left:1801px;top:1141px;width:137px;height:32px;background:#b7d680;"></div>
<div class="r" style="left:2424px;top:1141px;width:162px;height:32px;background:#82c77d;"></div>
<div class="r" style="left:2748px;top:1141px;width:162px;height:32px;background:#d2de81;"></div>
<div class="r" style="left:2910px;top:1141px;width:137px;height:32px;background:#fed07f;"></div>
<div class="r" style="left:1664px;top:1173px;width:137px;height:32px;background:#fed580;"></div>
<div class="r" style="left:1801px;top:1173px;width:137px;height:32px;background:#e2e382;"></div>
<div class="r" style="left:2424px;top:1173px;width:162px;height:32px;background:#82c77d;"></div>
<div class="r" style="left:2748px;top:1173px;width:162px;height:32px;background:#80c67d;"></div>
<div class="r" style="left:2910px;top:1173px;width:137px;height:32px;background:#fcbb7b;"></div>
<div class="r" style="left:1664px;top:1205px;width:137px;height:32px;background:#f0e783;"></div>
<div class="r" style="left:1801px;top:1205px;width:137px;height:32px;background:#b7d680;"></div>
<div class="r" style="left:2424px;top:1205px;width:162px;height:32px;background:#86c87d;"></div>
<div class="r" style="left:2748px;top:1205px;width:162px;height:32px;background:#9dcf7e;"></div>
<div class="r" style="left:2910px;top:1205px;width:137px;height:32px;background:#fdcd7e;"></div>
<div class="r" style="left:1664px;top:1237px;width:137px;height:32px;background:#cbdc81;"></div>
<div class="r" style="left:1801px;top:1237px;width:137px;height:32px;background:#d1de81;"></div>
<div class="r" style="left:2424px;top:1237px;width:162px;height:32px;background:#86c87d;"></div>
<div class="r" style="left:2748px;top:1237px;width:162px;height:32px;background:#afd47f;"></div>
<div class="r" style="left:2910px;top:1237px;width:137px;height:32px;background:#fdbf7b;"></div>
<div class="r" style="left:1664px;top:1269px;width:137px;height:32px;background:#e4e382;"></div>
<div class="r" style="left:1801px;top:1269px;width:137px;height:32px;background:#ffe783;"></div>
<div class="r" style="left:2424px;top:1269px;width:162px;height:32px;background:#87c87d;"></div>
<div class="r" style="left:2748px;top:1269px;width:162px;height:32px;background:#90cb7e;"></div>
<div class="r" style="left:2910px;top:1269px;width:137px;height:32px;background:#fdc37c;"></div>
<div class="r" style="left:1664px;top:1301px;width:137px;height:32px;background:#f97f6f;"></div>
<div class="r" style="left:1801px;top:1301px;width:137px;height:32px;background:#fee082;"></div>
<div class="r" style="left:2424px;top:1301px;width:162px;height:32px;background:#87c87d;"></div>
<div class="r" style="left:2748px;top:1301px;width:162px;height:32px;background:#99ce7e;"></div>
<div class="r" style="left:2910px;top:1301px;width:137px;height:32px;background:#fdbd7b;"></div>
<div class="r" style="left:1664px;top:1333px;width:137px;height:32px;background:#c3da81;"></div>
<div class="r" style="left:1801px;top:1333px;width:137px;height:32px;background:#9dcf7e;"></div>
<div class="r" style="left:2424px;top:1333px;width:162px;height:32px;background:#88c97d;"></div>
<div class="r" style="left:2748px;top:1333px;width:162px;height:32px;background:#c9db81;"></div>
<div class="r" style="left:2910px;top:1333px;width:137px;height:32px;background:#fb9d75;"></div>
<div class="r" style="left:1664px;top:1365px;width:137px;height:32px;background:#fb9c75;"></div>
<div class="r" style="left:1801px;top:1365px;width:137px;height:32px;background:#d9e082;"></div>
<div class="r" style="left:2424px;top:1365px;width:162px;height:32px;background:#88c97d;"></div>
<div class="r" style="left:2748px;top:1365px;width:162px;height:32px;background:#95cc7e;"></div>
<div class="r" style="left:2910px;top:1365px;width:137px;height:32px;background:#fdc27c;"></div>
<div class="r" style="left:1664px;top:1397px;width:137px;height:32px;background:#ffe483;"></div>
<div class="r" style="left:1801px;top:1397px;width:137px;height:32px;background:#fdbf7c;"></div>
<div class="r" style="left:2424px;top:1397px;width:162px;height:32px;background:#89c97d;"></div>
<div class="r" style="left:2748px;top:1397px;width:162px;height:32px;background:#92cc7e;"></div>
<div class="r" style="left:2910px;top:1397px;width:137px;height:32px;background:#fdbf7b;"></div>
<div class="r" style="left:1664px;top:1429px;width:137px;height:32px;background:#fb9c75;"></div>
<div class="r" style="left:1801px;top:1429px;width:137px;height:32px;background:#feda81;"></div>
<div class="r" style="left:2424px;top:1429px;width:162px;height:32px;background:#89c97d;"></div>
<div class="r" style="left:2748px;top:1429px;width:162px;height:32px;background:#84c77d;"></div>
<div class="r" style="left:2910px;top:1429px;width:137px;height:32px;background:#fdc57d;"></div>
<div class="r" style="left:1664px;top:1461px;width:137px;height:32px;background:#bad780;"></div>
<div class="r" style="left:1801px;top:1461px;width:137px;height:32px;background:#fdcd7e;"></div>
<div class="r" style="left:2424px;top:1461px;width:162px;height:32px;background:#8ac97d;"></div>
<div class="r" style="left:2748px;top:1461px;width:162px;height:32px;background:#a1d07f;"></div>
<div class="r" style="left:2910px;top:1461px;width:137px;height:32px;background:#fcb279;"></div>
<div class="r" style="left:1664px;top:1493px;width:137px;height:32px;background:#fed580;"></div>
<div class="r" style="left:1801px;top:1493px;width:137px;height:32px;background:#c0d980;"></div>
<div class="r" style="left:2424px;top:1493px;width:162px;height:32px;background:#8bca7d;"></div>
<div class="r" style="left:2748px;top:1493px;width:162px;height:32px;background:#aad27f;"></div>
<div class="r" style="left:2910px;top:1493px;width:137px;height:32px;background:#fed07f;"></div>
<div class="r" style="left:1664px;top:1525px;width:137px;height:32px;background:#dce182;"></div>
<div class="r" style="left:1801px;top:1525px;width:137px;height:32px;background:#ffe783;"></div>
<div class="r" style="left:2424px;top:1525px;width:162px;height:32px;background:#8cca7d;"></div>
<div class="r" style="left:2748px;top:1525px;width:162px;height:32px;background:#c1d980;"></div>
<div class="r" style="left:2910px;top:1525px;width:137px;height:32px;background:#fdc27c;"></div>
<div class="r" style="left:1664px;top:1557px;width:137px;height:32px;background:#e8e483;"></div>
<div class="r" style="left:1801px;top:1557px;width:137px;height:32px;background:#d9e082;"></div>
<div class="r" style="left:2424px;top:1557px;width:162px;height:32px;background:#8dca7d;"></div>
<div class="r" style="left:2748px;top:1557px;width:162px;height:32px;background:#a3d07f;"></div>
<div class="r" style="left:2910px;top:1557px;width:137px;height:32px;background:#fed580;"></div>
<div class="r" style="left:1664px;top:1589px;width:137px;height:32px;background:#e0e282;"></div>
<div class="r" style="left:1801px;top:1589px;width:137px;height:32px;background:#c8db81;"></div>
<div class="r" style="left:2424px;top:1589px;width:162px;height:32px;background:#8dca7d;"></div>
<div class="r" style="left:2748px;top:1589px;width:162px;height:32px;background:#a1d07f;"></div>
<div class="r" style="left:2910px;top:1589px;width:137px;height:32px;background:#fed27f;"></div>
<div class="r" style="left:1664px;top:1621px;width:137px;height:32px;background:#dce182;"></div>
<div class="r" style="left:1801px;top:1621px;width:137px;height:32px;background:#c0d980;"></div>
<div class="r" style="left:2424px;top:1621px;width:162px;height:32px;background:#8eca7d;"></div>
<div class="r" style="left:2748px;top:1621px;width:162px;height:32px;background:#e1e282;"></div>
<div class="r" style="left:2910px;top:1621px;width:137px;height:32px;background:#fba076;"></div>
<div class="r" style="left:1664px;top:1653px;width:137px;height:32px;background:#bfd880;"></div>
<div class="r" style="left:1801px;top:1653px;width:137px;height:32px;background:#fcea84;"></div>
<div class="r" style="left:2424px;top:1653px;width:162px;height:32px;background:#8eca7d;"></div>
<div class="r" style="left:2748px;top:1653px;width:162px;height:32px;background:#a8d27f;"></div>
<div class="r" style="left:2910px;top:1653px;width:137px;height:32px;background:#feda81;"></div>
<div class="r" style="left:1664px;top:1685px;width:137px;height:31px;background:#d7e082;"></div>
<div class="r" style="left:1801px;top:1685px;width:137px;height:31px;background:#f3e883;"></div>
<div class="r" style="left:2424px;top:1685px;width:162px;height:31px;background:#8fcb7e;"></div>
<div class="r" style="left:2748px;top:1685px;width:162px;height:31px;background:#9ecf7e;"></div>
<div class="r" style="left:2910px;top:1685px;width:137px;height:31px;background:#fba276;"></div>
<div class="r" style="left:1664px;top:1717px;width:137px;height:4px;background:#f2e683;"></div>
<div class="r" style="left:1801px;top:1717px;width:137px;height:4px;background:#97ca7d;"></div>
<div class="r" style="left:2424px;top:1717px;width:162px;height:4px;background:#8fca7d;"></div>
<div class="r" style="left:2748px;top:1717px;width:162px;height:4px;background:#c5db81;"></div>
<div class="r" style="left:2910px;top:1717px;width:137px;height:4px;background:#fdbe7b;"></div>
<div class="r" style="left:2px;top:464px;width:3298px;height:1px;background:#ababab;"></div>
<div class="r" style="left:49px;top:432px;width:1px;height:1289px;background:#ababab;"></div>
<div class="r" style="left:49px;top:596px;width:3251px;height:2px;background:#949494;"></div>
<div class="r" style="left:2px;top:596px;width:47px;height:2px;background:#949494;"></div>
<div class="r" style="left:752px;top:432px;width:2px;height:1289px;background:#949494;"></div>
<div class="t" style="left:110.33px;top:439.00px;font-size:22px;color:#217346;transform:scaleX(0.9800);">A</div>
<div class="t" style="left:235.51px;top:439.00px;font-size:22px;color:#444444;transform:scaleX(0.9800);">B</div>
<div class="t" style="left:349.08px;top:439.00px;font-size:22px;color:#444444;transform:scaleX(0.9800);">C</div>
<div class="t" style="left:474.36px;top:439.00px;font-size:22px;color:#444444;transform:scaleX(0.9800);">D</div>
<div class="t" style="left:644.40px;top:439.00px;font-size:22px;color:#444444;transform:scaleX(0.9800);">E</div>
<div class="t" style="left:800.55px;top:439.00px;font-size:22px;color:#444444;transform:scaleX(0.9800);">M</div>
<div class="t" style="left:915.24px;top:439.00px;font-size:22px;color:#444444;transform:scaleX(0.9800);">N</div>
<div class="t" style="left:1028.65px;top:439.00px;font-size:22px;color:#444444;transform:scaleX(0.9800);">O</div>
<div class="t" style="left:1143.51px;top:439.00px;font-size:22px;color:#444444;transform:scaleX(0.9800);">P</div>
<div class="t" style="left:1256.65px;top:439.00px;font-size:22px;color:#444444;transform:scaleX(0.9800);">Q</div>
<div class="t" style="left:1370.86px;top:439.00px;font-size:22px;color:#444444;transform:scaleX(0.9800);">R</div>
<div class="t" style="left:1485.83px;top:439.00px;font-size:22px;color:#444444;transform:scaleX(0.9800);">S</div>
<div class="t" style="left:1600.42px;top:439.00px;font-size:22px;color:#444444;transform:scaleX(0.9800);">T</div>
<div class="t" style="left:1724.74px;top:439.00px;font-size:22px;color:#444444;transform:scaleX(0.9800);">U</div>
<div class="t" style="left:1862.33px;top:439.00px;font-size:22px;color:#444444;transform:scaleX(0.9800);">V</div>
<div class="t" style="left:2004.45px;top:439.00px;font-size:22px;color:#444444;transform:scaleX(0.9800);">AC</div>
<div class="t" style="left:2166.55px;top:439.00px;font-size:22px;color:#444444;transform:scaleX(0.9800);">AD</div>
<div class="t" style="left:2329.09px;top:439.00px;font-size:22px;color:#444444;transform:scaleX(0.9800);">AE</div>
<div class="t" style="left:2491.69px;top:439.00px;font-size:22px;color:#444444;transform:scaleX(0.9800);">AF</div>
<div class="t" style="left:2652.23px;top:439.00px;font-size:22px;color:#444444;transform:scaleX(0.9800);">AG</div>
<div class="t" style="left:2814.93px;top:439.00px;font-size:22px;color:#444444;transform:scaleX(0.9800);">AH</div>
<div class="t" style="left:2963.25px;top:439.00px;font-size:22px;color:#444444;transform:scaleX(0.9800);">AM</div>
<div class="t" style="left:3090.15px;top:439.00px;font-size:22px;color:#444444;transform:scaleX(0.9800);">AS</div>
<div class="t" style="left:3205.23px;top:439.00px;font-size:22px;color:#444444;transform:scaleX(0.9800);">AT</div>
<div class="t" style="left:19.48px;top:471.00px;font-size:21px;color:#217346;transform:scaleX(0.9800);">1</div>
<div class="t" style="left:19.79px;top:503.00px;font-size:21px;color:#444444;transform:scaleX(0.9800);">2</div>
<div class="t" style="left:19.79px;top:572.00px;font-size:21px;color:#444444;transform:scaleX(0.9800);">3</div>
<div class="t" style="left:19.89px;top:603.00px;font-size:21px;color:#444444;transform:scaleX(0.9800);">4</div>
<div class="t" style="left:19.79px;top:635.00px;font-size:21px;color:#444444;transform:scaleX(0.9800);">5</div>
<div class="t" style="left:19.69px;top:667.00px;font-size:21px;color:#444444;transform:scaleX(0.9800);">6</div>
<div class="t" style="left:19.79px;top:699.00px;font-size:21px;color:#444444;transform:scaleX(0.9800);">7</div>
<div class="t" style="left:19.74px;top:731.00px;font-size:21px;color:#444444;transform:scaleX(0.9800);">8</div>
<div class="t" style="left:19.79px;top:763.00px;font-size:21px;color:#444444;transform:scaleX(0.9800);">9</div>
<div class="t" style="left:13.67px;top:795.00px;font-size:21px;color:#444444;transform:scaleX(0.9800);">10</div>
<div class="t" style="left:14.54px;top:827.00px;font-size:21px;color:#444444;transform:scaleX(0.9800);">11</div>
<div class="t" style="left:13.82px;top:859.00px;font-size:21px;color:#444444;transform:scaleX(0.9800);">12</div>
<div class="t" style="left:13.72px;top:891.00px;font-size:21px;color:#444444;transform:scaleX(0.9800);">13</div>
<div class="t" style="left:13.62px;top:923.00px;font-size:21px;color:#444444;transform:scaleX(0.9800);">14</div>
<div class="t" style="left:13.72px;top:955.00px;font-size:21px;color:#444444;transform:scaleX(0.9800);">15</div>
<div class="t" style="left:13.72px;top:987.00px;font-size:21px;color:#444444;transform:scaleX(0.9800);">16</div>
<div class="t" style="left:13.82px;top:1019.00px;font-size:21px;color:#444444;transform:scaleX(0.9800);">17</div>
<div class="t" style="left:13.72px;top:1051.00px;font-size:21px;color:#444444;transform:scaleX(0.9800);">18</div>
<div class="t" style="left:13.77px;top:1083.00px;font-size:21px;color:#444444;transform:scaleX(0.9800);">19</div>
<div class="t" style="left:13.92px;top:1115.00px;font-size:21px;color:#444444;transform:scaleX(0.9800);">20</div>
<div class="t" style="left:14.03px;top:1147.00px;font-size:21px;color:#444444;transform:scaleX(0.9800);">21</div>
<div class="t" style="left:14.08px;top:1179.00px;font-size:21px;color:#444444;transform:scaleX(0.9800);">22</div>
<div class="t" style="left:13.98px;top:1211.00px;font-size:21px;color:#444444;transform:scaleX(0.9800);">23</div>
<div class="t" style="left:13.87px;top:1243.00px;font-size:21px;color:#444444;transform:scaleX(0.9800);">24</div>
<div class="t" style="left:13.98px;top:1275.00px;font-size:21px;color:#444444;transform:scaleX(0.9800);">25</div>
<div class="t" style="left:13.98px;top:1307.00px;font-size:21px;color:#444444;transform:scaleX(0.9800);">26</div>
<div class="t" style="left:14.08px;top:1339.00px;font-size:21px;color:#444444;transform:scaleX(0.9800);">27</div>
<div class="t" style="left:13.98px;top:1371.00px;font-size:21px;color:#444444;transform:scaleX(0.9800);">28</div>
<div class="t" style="left:14.03px;top:1403.00px;font-size:21px;color:#444444;transform:scaleX(0.9800);">29</div>
<div class="t" style="left:14.03px;top:1435.00px;font-size:21px;color:#444444;transform:scaleX(0.9800);">30</div>
<div class="t" style="left:14.13px;top:1467.00px;font-size:21px;color:#444444;transform:scaleX(0.9800);">31</div>
<div class="t" style="left:14.18px;top:1499.00px;font-size:21px;color:#444444;transform:scaleX(0.9800);">32</div>
<div class="t" style="left:14.08px;top:1531.00px;font-size:21px;color:#444444;transform:scaleX(0.9800);">33</div>
<div class="t" style="left:13.98px;top:1563.00px;font-size:21px;color:#444444;transform:scaleX(0.9800);">34</div>
<div class="t" style="left:14.08px;top:1595.00px;font-size:21px;color:#444444;transform:scaleX(0.9800);">35</div>
<div class="t" style="left:14.08px;top:1627.00px;font-size:21px;color:#444444;transform:scaleX(0.9800);">36</div>
<div class="t" style="left:14.18px;top:1659.00px;font-size:21px;color:#444444;transform:scaleX(0.9800);">37</div>
<div class="t" style="left:14.08px;top:1691.00px;font-size:21px;color:#444444;transform:scaleX(0.9800);">38</div>
<div class="t" style="left:52.78px;top:503.00px;font-size:22px;color:#000;transform:scaleX(0.9798);">Max</div>
<div class="t" style="left:2320.00px;top:503.00px;font-size:22px;color:#000;transform:scaleX(1.0750);">7.62</div>
<div class="t" style="left:2470.72px;top:503.00px;font-size:22px;color:#000;transform:scaleX(1.0054);">55GHz</div>
<div class="t" style="left:2643.88px;top:503.00px;font-size:22px;color:#000;transform:scaleX(1.0750);">6.98</div>
<div class="t" style="left:2794.49px;top:503.00px;font-size:22px;color:#000;transform:scaleX(1.0088);">67GHz</div>
<div class="t" style="left:53.83px;top:571.00px;font-size:22px;color:#000;transform:scaleX(1.0150);">sn (hex)</div>
<div class="t" style="left:189.97px;top:571.00px;font-size:22px;color:#000;transform:scaleX(1.0700);">lane</div>
<div class="t" style="left:305.16px;top:571.00px;font-size:22px;color:#000;transform:scaleX(1.0204);">test_no</div>
<div class="t" style="left:555.59px;top:571.00px;font-size:22px;color:#000;transform:scaleX(1.0358);">date_time</div>
<div class="t" style="left:756.97px;top:571.00px;font-size:22px;color:#000;transform:scaleX(1.0690);">bbg</div>
<div class="t" style="left:871.39px;top:571.00px;font-size:22px;color:#000;transform:scaleX(0.9967);">vreg28</div>
<div class="t" style="left:985.39px;top:571.00px;font-size:22px;color:#000;transform:scaleX(0.9967);">vreg23</div>
<div class="t" style="left:1097.95px;top:571.00px;font-size:22px;color:#000;transform:scaleX(1.0829);">ptat</div>
<div class="t" style="left:1211.94px;top:571.00px;font-size:22px;color:#000;transform:scaleX(1.0879);">ptat2</div>
<div class="t" style="left:1327.15px;top:571.00px;font-size:22px;color:#000;transform:scaleX(1.0652);">tan</div>
<div class="t" style="left:1441.16px;top:571.00px;font-size:22px;color:#000;transform:scaleX(1.0181);">tan_enlow</div>
<div class="t" style="left:1555.16px;top:571.00px;font-size:22px;color:#000;transform:scaleX(1.0408);">tandrv</div>
<div class="t" style="left:2913.52px;top:571.00px;font-size:22px;color:#000;">IDD_50MHz</div>
<div class="t" style="left:435.25px;top:540.00px;font-size:22px;color:#000;transform:scaleX(1.0751);">duplicate</div>
<div class="t" style="left:454.56px;top:571.00px;font-size:22px;color:#000;transform:scaleX(1.0141);">data?</div>
<div class="t" style="left:1667.64px;top:540.00px;font-size:22px;color:#000;transform:scaleX(1.0585);">Distortion_</div>
<div class="t" style="left:1667.80px;top:571.00px;font-size:22px;color:#000;transform:scaleX(1.0300);">10MHz</div>
<div class="t" style="left:1804.64px;top:540.00px;font-size:22px;color:#000;transform:scaleX(1.0585);">Distortion_</div>
<div class="t" style="left:1805.60px;top:571.00px;font-size:22px;color:#000;transform:scaleX(1.0183);">50MHz</div>
<div class="t" style="left:1949.98px;top:540.00px;font-size:22px;color:#000;transform:scaleX(0.9720);">Gain_10MHz_</div>
<div class="t" style="left:1961.06px;top:571.00px;font-size:22px;color:#000;transform:scaleX(1.0061);">pwr_lvl_low</div>
<div class="t" style="left:2104.43px;top:540.00px;font-size:22px;color:#000;transform:scaleX(0.9720);">Gain_50MHz_</div>
<div class="t" style="left:2104.06px;top:571.00px;font-size:22px;color:#000;transform:scaleX(1.0061);">pwr_lvl_low</div>
<div class="t" style="left:2266.46px;top:540.00px;font-size:22px;color:#000;transform:scaleX(0.9495);">GAIN_55GHz_</div>
<div class="t" style="left:2266.06px;top:571.00px;font-size:22px;color:#000;transform:scaleX(1.0061);">pwr_lvl_low</div>
<div class="t" style="left:2450.54px;top:540.00px;font-size:22px;color:#000;">Below Max</div>
<div class="t" style="left:2481.82px;top:571.00px;font-size:22px;color:#000;transform:scaleX(1.1177);">(dB)</div>
<div class="t" style="left:2590.46px;top:540.00px;font-size:22px;color:#000;transform:scaleX(0.9495);">GAIN_67GHz_</div>
<div class="t" style="left:2590.06px;top:571.00px;font-size:22px;color:#000;transform:scaleX(1.0061);">pwr_lvl_low</div>
<div class="t" style="left:2774.54px;top:540.00px;font-size:22px;color:#000;">Below Max</div>
<div class="t" style="left:2805.82px;top:571.00px;font-size:22px;color:#000;transform:scaleX(1.1177);">(dB)</div>
<div class="t" style="left:53.58px;top:603.00px;font-size:22px;color:#000;transform:scaleX(1.0450);">0x0064</div>
<div class="t" style="left:282.20px;top:603.00px;font-size:22px;color:#000;transform:scaleX(1.0750);">0</div>
<div class="t" style="left:356.82px;top:603.00px;font-size:22px;color:#000;transform:scaleX(1.0750);">1983</div>
<div class="t" style="left:475.58px;top:603.00px;font-size:22px;color:#000;transform:scaleX(1.0750);">1</div>
<div class="t" style="left:590.70px;top:603.00px;font-size:22px;color:#000;transform:scaleX(1.0750);">8/18/2025 0:58</div>
<div class="t" style="left:848.56px;top:603.00px;font-size:22px;color:#000;transform:scaleX(1.0750);">2</div>
<div class="t" style="left:949.08px;top:603.00px;font-size:22px;color:#000;transform:scaleX(1.0750);">10</div>
<div class="t" style="left:1063.43px;top:603.00px;font-size:22px;color:#000;transform:scaleX(1.0750);">12</div>
<div class="t" style="left:1177.43px;top:603.00px;font-size:22px;color:#000;transform:scaleX(1.0750);">12</div>
<div class="t" style="left:1304.08px;top:603.00px;font-size:22px;color:#000;transform:scaleX(1.0750);">4</div>
<div class="t" style="left:1418.32px;top:603.00px;font-size:22px;color:#000;transform:scaleX(1.0750);">8</div>
<div class="t" style="left:1532.44px;top:603.00px;font-size:22px;color:#000;transform:scaleX(1.0750);">1</div>
<div class="t" style="left:1633.43px;top:603.00px;font-size:22px;color:#000;transform:scaleX(1.0750);">12</div>
<div class="t" style="left:1709.62px;top:603.00px;font-size:22px;color:#000;transform:scaleX(1.0750);">0.47</div>
<div class="t" style="left:1846.62px;top:603.00px;font-size:22px;color:#000;transform:scaleX(1.0750);">0.22</div>
<div class="t" style="left:1996.00px;top:603.00px;font-size:22px;color:#000;transform:scaleX(1.0750);">0.26</div>
<div class="t" style="left:2158.00px;top:603.00px;font-size:22px;color:#000;transform:scaleX(1.0750);">0.16</div>
<div class="t" style="left:2320.00px;top:603.00px;font-size:22px;color:#000;transform:scaleX(1.0750);">7.62</div>
<div class="t" style="left:2481.94px;top:603.00px;font-size:22px;color:#000;transform:scaleX(1.0750);">0.00</div>
<div class="t" style="left:2644.06px;top:603.00px;font-size:22px;color:#000;transform:scaleX(1.0750);">5.91</div>
<div class="t" style="left:2805.70px;top:603.00px;font-size:22px;color:#000;transform:scaleX(1.0750);">1.07</div>
<div class="t" style="left:2955.44px;top:603.00px;font-size:22px;color:#000;transform:scaleX(1.0750);">80.5</div>
<div class="t" style="left:53.58px;top:635.00px;font-size:22px;color:#000;transform:scaleX(1.0450);">0x0064</div>
<div class="t" style="left:282.20px;top:635.00px;font-size:22px;color:#000;transform:scaleX(1.0750);">0</div>
<div class="t" style="left:357.06px;top:635.00px;font-size:22px;color:#000;transform:scaleX(1.0750);">1907</div>
<div class="t" style="left:475.58px;top:635.00px;font-size:22px;color:#000;transform:scaleX(1.0750);">1</div>
<div class="t" style="left:577.46px;top:635.00px;font-size:22px;color:#000;transform:scaleX(1.0750);">8/17/2025 23:38</div>
<div class="t" style="left:848.56px;top:635.00px;font-size:22px;color:#000;transform:scaleX(1.0750);">2</div>
<div class="t" style="left:949.08px;top:635.00px;font-size:22px;color:#000;transform:scaleX(1.0750);">10</div>
<div class="t" style="left:1063.08px;top:635.00px;font-size:22px;color:#000;transform:scaleX(1.0750);">10</div>
<div class="t" style="left:1177.43px;top:635.00px;font-size:22px;color:#000;transform:scaleX(1.0750);">12</div>
<div class="t" style="left:1304.32px;top:635.00px;font-size:22px;color:#000;transform:scaleX(1.0750);">6</div>
<div class="t" style="left:1418.32px;top:635.00px;font-size:22px;color:#000;transform:scaleX(1.0750);">8</div>
<div class="t" style="left:1532.44px;top:635.00px;font-size:22px;color:#000;transform:scaleX(1.0750);">1</div>
<div class="t" style="left:1633.43px;top:635.00px;font-size:22px;color:#000;transform:scaleX(1.0750);">12</div>
<div class="t" style="left:1709.38px;top:635.00px;font-size:22px;color:#000;transform:scaleX(1.0750);">0.44</div>
<div class="t" style="left:1846.56px;top:635.00px;font-size:22px;color:#000;transform:scaleX(1.0750);">0.49</div>
<div class="t" style="left:1995.94px;top:635.00px;font-size:22px;color:#000;transform:scaleX(1.0750);">0.00</div>
<div class="t" style="left:2158.12px;top:635.00px;font-size:22px;color:#000;transform:scaleX(1.0750);">0.22</div>
<div class="t" style="left:2319.88px;top:635.00px;font-size:22px;color:#000;transform:scaleX(1.0750);">7.53</div>
<div class="t" style="left:2482.06px;top:635.00px;font-size:22px;color:#000;transform:scaleX(1.0750);">0.09</div>
<div class="t" style="left:2644.00px;top:635.00px;font-size:22px;color:#000;transform:scaleX(1.0750);">5.76</div>
<div class="t" style="left:2805.65px;top:635.00px;font-size:22px;color:#000;transform:scaleX(1.0750);">1.21</div>
<div class="t" style="left:2955.32px;top:635.00px;font-size:22px;color:#000;transform:scaleX(1.0750);">81.4</div>
<div class="t" style="left:53.58px;top:667.00px;font-size:22px;color:#000;transform:scaleX(1.0450);">0x0064</div>
<div class="t" style="left:282.20px;top:667.00px;font-size:22px;color:#000;transform:scaleX(1.0750);">0</div>
<div class="t" style="left:357.06px;top:667.00px;font-size:22px;color:#000;transform:scaleX(1.0750);">4387</div>
<div class="t" style="left:475.58px;top:667.00px;font-size:22px;color:#000;transform:scaleX(1.0750);">1</div>
<div class="t" style="left:577.57px;top:667.00px;font-size:22px;color:#000;transform:scaleX(1.0750);">8/19/2025 15:31</div>
<div class="t" style="left:848.32px;top:667.00px;font-size:22px;color:#000;transform:scaleX(1.0750);">3</div>
<div class="t" style="left:949.08px;top:667.00px;font-size:22px;color:#000;transform:scaleX(1.0750);">10</div>
<div class="t" style="left:1063.43px;top:667.00px;font-size:22px;color:#000;transform:scaleX(1.0750);">12</div>
<div class="t" style="left:1177.43px;top:667.00px;font-size:22px;color:#000;transform:scaleX(1.0750);">12</div>
<div class="t" style="left:1304.32px;top:667.00px;font-size:22px;color:#000;transform:scaleX(1.0750);">6</div>
<div class="t" style="left:1407.09px;top:667.00px;font-size:22px;color:#000;transform:scaleX(1.0750);">11</div>
<div class="t" style="left:1532.44px;top:667.00px;font-size:22px;color:#000;transform:scaleX(1.0750);">1</div>
<div class="t" style="left:1633.43px;top:667.00px;font-size:22px;color:#000;transform:scaleX(1.0750);">12</div>
<div class="t" style="left:1709.62px;top:667.00px;font-size:22px;color:#000;transform:scaleX(1.0750);">0.42</div>
<div class="t" style="left:1846.50px;top:667.00px;font-size:22px;color:#000;transform:scaleX(1.0750);">0.35</div>
<div class="t" style="left:1996.00px;top:667.00px;font-size:22px;color:#000;transform:scaleX(1.0750);">0.18</div>
<div class="t" style="left:2158.00px;top:667.00px;font-size:22px;color:#000;transform:scaleX(1.0750);">0.23</div>
<div class="t" style="left:2319.88px;top:667.00px;font-size:22px;color:#000;transform:scaleX(1.0750);">7.46</div>
<div class="t" style="left:2482.00px;top:667.00px;font-size:22px;color:#000;transform:scaleX(1.0750);">0.16</div>
<div class="t" style="left:2643.82px;top:667.00px;font-size:22px;color:#000;transform:scaleX(1.0750);">6.20</div>
<div class="t" style="left:2806.00px;top:667.00px;font-size:22px;color:#000;transform:scaleX(1.0750);">0.78</div>
<div class="t" style="left:2955.44px;top:667.00px;font-size:22px;color:#000;transform:scaleX(1.0750);">84.6</div>
<div class="t" style="left:53.58px;top:699.00px;font-size:22px;color:#000;transform:scaleX(1.0450);">0x0064</div>
<div class="t" style="left:282.20px;top:699.00px;font-size:22px;color:#000;transform:scaleX(1.0750);">0</div>
<div class="t" style="left:356.82px;top:699.00px;font-size:22px;color:#000;transform:scaleX(1.0750);">3915</div>
<div class="t" style="left:475.58px;top:699.00px;font-size:22px;color:#000;transform:scaleX(1.0750);">1</div>
<div class="t" style="left:590.70px;top:699.00px;font-size:22px;color:#000;transform:scaleX(1.0750);">8/19/2025 8:08</div>
<div class="t" style="left:848.32px;top:699.00px;font-size:22px;color:#000;transform:scaleX(1.0750);">3</div>
<div class="t" style="left:962.32px;top:699.00px;font-size:22px;color:#000;transform:scaleX(1.0750);">8</div>
<div class="t" style="left:1063.08px;top:699.00px;font-size:22px;color:#000;transform:scaleX(1.0750);">10</div>
<div class="t" style="left:1177.43px;top:699.00px;font-size:22px;color:#000;transform:scaleX(1.0750);">12</div>
<div class="t" style="left:1291.08px;top:699.00px;font-size:22px;color:#000;transform:scaleX(1.0750);">10</div>
<div class="t" style="left:1407.09px;top:699.00px;font-size:22px;color:#000;transform:scaleX(1.0750);">11</div>
<div class="t" style="left:1532.44px;top:699.00px;font-size:22px;color:#000;transform:scaleX(1.0750);">1</div>
<div class="t" style="left:1633.43px;top:699.00px;font-size:22px;color:#000;transform:scaleX(1.0750);">12</div>
<div class="t" style="left:1709.56px;top:699.00px;font-size:22px;color:#000;transform:scaleX(1.0750);">0.39</div>
<div class="t" style="left:1846.62px;top:699.00px;font-size:22px;color:#000;transform:scaleX(1.0750);">0.42</div>
<div class="t" style="left:1996.00px;top:699.00px;font-size:22px;color:#000;transform:scaleX(1.0750);">0.08</div>
<div class="t" style="left:2158.12px;top:699.00px;font-size:22px;color:#000;transform:scaleX(1.0750);">0.22</div>
<div class="t" style="left:2319.82px;top:699.00px;font-size:22px;color:#000;transform:scaleX(1.0750);">7.40</div>
<div class="t" style="left:2482.12px;top:699.00px;font-size:22px;color:#000;transform:scaleX(1.0750);">0.22</div>
<div class="t" style="left:2643.88px;top:699.00px;font-size:22px;color:#000;transform:scaleX(1.0750);">6.98</div>
<div class="t" style="left:2805.94px;top:699.00px;font-size:22px;color:#000;transform:scaleX(1.0750);">0.00</div>
<div class="t" style="left:2955.50px;top:699.00px;font-size:22px;color:#000;transform:scaleX(1.0750);">85.1</div>
<div class="t" style="left:53.58px;top:731.00px;font-size:22px;color:#000;transform:scaleX(1.0450);">0x0064</div>
<div class="t" style="left:282.20px;top:731.00px;font-size:22px;color:#000;transform:scaleX(1.0750);">0</div>
<div class="t" style="left:357.06px;top:731.00px;font-size:22px;color:#000;transform:scaleX(1.0750);">4362</div>
<div class="t" style="left:475.58px;top:731.00px;font-size:22px;color:#000;transform:scaleX(1.0750);">1</div>
<div class="t" style="left:579.35px;top:731.00px;font-size:22px;color:#000;transform:scaleX(1.0750);">8/19/2025 15:11</div>
<div class="t" style="left:848.32px;top:731.00px;font-size:22px;color:#000;transform:scaleX(1.0750);">3</div>
<div class="t" style="left:949.08px;top:731.00px;font-size:22px;color:#000;transform:scaleX(1.0750);">10</div>
<div class="t" style="left:1063.43px;top:731.00px;font-size:22px;color:#000;transform:scaleX(1.0750);">12</div>
<div class="t" style="left:1177.08px;top:731.00px;font-size:22px;color:#000;transform:scaleX(1.0750);">10</div>
<div class="t" style="left:1304.08px;top:731.00px;font-size:22px;color:#000;transform:scaleX(1.0750);">4</div>
<div class="t" style="left:1418.44px;top:731.00px;font-size:22px;color:#000;transform:scaleX(1.0750);">9</div>
<div class="t" style="left:1532.44px;top:731.00px;font-size:22px;color:#000;transform:scaleX(1.0750);">1</div>
<div class="t" style="left:1633.08px;top:731.00px;font-size:22px;color:#000;transform:scaleX(1.0750);">10</div>
<div class="t" style="left:1709.50px;top:731.00px;font-size:22px;color:#000;transform:scaleX(1.0750);">0.45</div>
<div class="t" style="left:1846.56px;top:731.00px;font-size:22px;color:#000;transform:scaleX(1.0750);">0.29</div>
<div class="t" style="left:1995.88px;top:731.00px;font-size:22px;color:#000;transform:scaleX(1.0750);">0.24</div>
<div class="t" style="left:2158.06px;top:731.00px;font-size:22px;color:#000;transform:scaleX(1.0750);">0.21</div>
<div class="t" style="left:2319.94px;top:731.00px;font-size:22px;color:#000;transform:scaleX(1.0750);">7.39</div>
<div class="t" style="left:2482.00px;top:731.00px;font-size:22px;color:#000;transform:scaleX(1.0750);">0.23</div>
<div class="t" style="left:2643.94px;top:731.00px;font-size:22px;color:#000;transform:scaleX(1.0750);">5.90</div>
<div class="t" style="left:2805.70px;top:731.00px;font-size:22px;color:#000;transform:scaleX(1.0750);">1.07</div>
<div class="t" style="left:2955.38px;top:731.00px;font-size:22px;color:#000;transform:scaleX(1.0750);">81.0</div>
<div class="t" style="left:53.58px;top:763.00px;font-size:22px;color:#000;transform:scaleX(1.0450);">0x0064</div>
<div class="t" style="left:282.20px;top:763.00px;font-size:22px;color:#000;transform:scaleX(1.0750);">0</div>
<div class="t" style="left:356.94px;top:763.00px;font-size:22px;color:#000;transform:scaleX(1.0750);">3519</div>
<div class="t" style="left:475.58px;top:763.00px;font-size:22px;color:#000;transform:scaleX(1.0750);">1</div>
<div class="t" style="left:590.58px;top:763.00px;font-size:22px;color:#000;transform:scaleX(1.0750);">8/19/2025 2:10</div>
<div class="t" style="left:848.32px;top:763.00px;font-size:22px;color:#000;transform:scaleX(1.0750);">3</div>
<div class="t" style="left:962.32px;top:763.00px;font-size:22px;color:#000;transform:scaleX(1.0750);">6</div>
<div class="t" style="left:1063.08px;top:763.00px;font-size:22px;color:#000;transform:scaleX(1.0750);">10</div>
<div class="t" style="left:1177.43px;top:763.00px;font-size:22px;color:#000;transform:scaleX(1.0750);">12</div>
<div class="t" style="left:1291.43px;top:763.00px;font-size:22px;color:#000;transform:scaleX(1.0750);">12</div>
<div class="t" style="left:1407.09px;top:763.00px;font-size:22px;color:#000;transform:scaleX(1.0750);">11</div>
<div class="t" style="left:1532.44px;top:763.00px;font-size:22px;color:#000;transform:scaleX(1.0750);">1</div>
<div class="t" style="left:1633.43px;top:763.00px;font-size:22px;color:#000;transform:scaleX(1.0750);">12</div>
<div class="t" style="left:1709.50px;top:763.00px;font-size:22px;color:#000;transform:scaleX(1.0750);">0.36</div>
<div class="t" style="left:1846.50px;top:763.00px;font-size:22px;color:#000;transform:scaleX(1.0750);">0.43</div>
<div class="t" style="left:1996.00px;top:763.00px;font-size:22px;color:#000;transform:scaleX(1.0750);">0.06</div>
<div class="t" style="left:2158.00px;top:763.00px;font-size:22px;color:#000;transform:scaleX(1.0750);">0.23</div>
<div class="t" style="left:2320.00px;top:763.00px;font-size:22px;color:#000;transform:scaleX(1.0750);">7.37</div>
<div class="t" style="left:2482.00px;top:763.00px;font-size:22px;color:#000;transform:scaleX(1.0750);">0.25</div>
<div class="t" style="left:2643.88px;top:763.00px;font-size:22px;color:#000;transform:scaleX(1.0750);">6.88</div>
<div class="t" style="left:2806.06px;top:763.00px;font-size:22px;color:#000;transform:scaleX(1.0750);">0.09</div>
<div class="t" style="left:2955.56px;top:763.00px;font-size:22px;color:#000;transform:scaleX(1.0750);">85.7</div>
<div class="t" style="left:53.58px;top:795.00px;font-size:22px;color:#000;transform:scaleX(1.0450);">0x0064</div>
<div class="t" style="left:282.20px;top:795.00px;font-size:22px;color:#000;transform:scaleX(1.0750);">0</div>
<div class="t" style="left:356.82px;top:795.00px;font-size:22px;color:#000;transform:scaleX(1.0750);">1985</div>
<div class="t" style="left:475.58px;top:795.00px;font-size:22px;color:#000;transform:scaleX(1.0750);">1</div>
<div class="t" style="left:590.58px;top:795.00px;font-size:22px;color:#000;transform:scaleX(1.0750);">8/18/2025 1:00</div>
<div class="t" style="left:848.56px;top:795.00px;font-size:22px;color:#000;transform:scaleX(1.0750);">2</div>
<div class="t" style="left:949.08px;top:795.00px;font-size:22px;color:#000;transform:scaleX(1.0750);">10</div>
<div class="t" style="left:1063.43px;top:795.00px;font-size:22px;color:#000;transform:scaleX(1.0750);">12</div>
<div class="t" style="left:1177.43px;top:795.00px;font-size:22px;color:#000;transform:scaleX(1.0750);">12</div>
<div class="t" style="left:1304.32px;top:795.00px;font-size:22px;color:#000;transform:scaleX(1.0750);">6</div>
<div class="t" style="left:1418.32px;top:795.00px;font-size:22px;color:#000;transform:scaleX(1.0750);">5</div>
<div class="t" style="left:1532.44px;top:795.00px;font-size:22px;color:#000;transform:scaleX(1.0750);">1</div>
<div class="t" style="left:1646.32px;top:795.00px;font-size:22px;color:#000;transform:scaleX(1.0750);">8</div>
<div class="t" style="left:1709.62px;top:795.00px;font-size:22px;color:#000;transform:scaleX(1.0750);">0.47</div>
<div class="t" style="left:1846.50px;top:795.00px;font-size:22px;color:#000;transform:scaleX(1.0750);">0.43</div>
<div class="t" style="left:1996.06px;top:795.00px;font-size:22px;color:#000;transform:scaleX(1.0750);">0.19</div>
<div class="t" style="left:2158.00px;top:795.00px;font-size:22px;color:#000;transform:scaleX(1.0750);">0.35</div>
<div class="t" style="left:2319.94px;top:795.00px;font-size:22px;color:#000;transform:scaleX(1.0750);">7.31</div>
<div class="t" style="left:2482.06px;top:795.00px;font-size:22px;color:#000;transform:scaleX(1.0750);">0.31</div>
<div class="t" style="left:2644.06px;top:795.00px;font-size:22px;color:#000;transform:scaleX(1.0750);">5.71</div>
<div class="t" style="left:2805.59px;top:795.00px;font-size:22px;color:#000;transform:scaleX(1.0750);">1.26</div>
<div class="t" style="left:2955.50px;top:795.00px;font-size:22px;color:#000;transform:scaleX(1.0750);">78.7</div>
<div class="t" style="left:53.58px;top:827.00px;font-size:22px;color:#000;transform:scaleX(1.0450);">0x0064</div>
<div class="t" style="left:282.20px;top:827.00px;font-size:22px;color:#000;transform:scaleX(1.0750);">0</div>
<div class="t" style="left:358.60px;top:827.00px;font-size:22px;color:#000;transform:scaleX(1.0750);">3115</div>
<div class="t" style="left:475.58px;top:827.00px;font-size:22px;color:#000;transform:scaleX(1.0750);">1</div>
<div class="t" style="left:577.69px;top:827.00px;font-size:22px;color:#000;transform:scaleX(1.0750);">8/18/2025 19:57</div>
<div class="t" style="left:848.32px;top:827.00px;font-size:22px;color:#000;transform:scaleX(1.0750);">3</div>
<div class="t" style="left:962.08px;top:827.00px;font-size:22px;color:#000;transform:scaleX(1.0750);">4</div>
<div class="t" style="left:1063.08px;top:827.00px;font-size:22px;color:#000;transform:scaleX(1.0750);">10</div>
<div class="t" style="left:1177.43px;top:827.00px;font-size:22px;color:#000;transform:scaleX(1.0750);">12</div>
<div class="t" style="left:1291.08px;top:827.00px;font-size:22px;color:#000;transform:scaleX(1.0750);">10</div>
<div class="t" style="left:1405.08px;top:827.00px;font-size:22px;color:#000;transform:scaleX(1.0750);">10</div>
<div class="t" style="left:1532.44px;top:827.00px;font-size:22px;color:#000;transform:scaleX(1.0750);">1</div>
<div class="t" style="left:1633.43px;top:827.00px;font-size:22px;color:#000;transform:scaleX(1.0750);">12</div>
<div class="t" style="left:1709.38px;top:827.00px;font-size:22px;color:#000;transform:scaleX(1.0750);">0.34</div>
<div class="t" style="left:1846.44px;top:827.00px;font-size:22px;color:#000;transform:scaleX(1.0750);">0.40</div>
<div class="t" style="left:1996.00px;top:827.00px;font-size:22px;color:#000;transform:scaleX(1.0750);">0.15</div>
<div class="t" style="left:2157.94px;top:827.00px;font-size:22px;color:#000;transform:scaleX(1.0750);">0.30</div>
<div class="t" style="left:2319.94px;top:827.00px;font-size:22px;color:#000;transform:scaleX(1.0750);">7.31</div>
<div class="t" style="left:2482.06px;top:827.00px;font-size:22px;color:#000;transform:scaleX(1.0750);">0.31</div>
<div class="t" style="left:2643.82px;top:827.00px;font-size:22px;color:#000;transform:scaleX(1.0750);">6.80</div>
<div class="t" style="left:2806.12px;top:827.00px;font-size:22px;color:#000;transform:scaleX(1.0750);">0.17</div>
<div class="t" style="left:2955.44px;top:827.00px;font-size:22px;color:#000;transform:scaleX(1.0750);">84.3</div>
<div class="t" style="left:53.58px;top:859.00px;font-size:22px;color:#000;transform:scaleX(1.0450);">0x0064</div>
<div class="t" style="left:282.20px;top:859.00px;font-size:22px;color:#000;transform:scaleX(1.0750);">0</div>
<div class="t" style="left:356.82px;top:859.00px;font-size:22px;color:#000;transform:scaleX(1.0750);">4386</div>
<div class="t" style="left:475.58px;top:859.00px;font-size:22px;color:#000;transform:scaleX(1.0750);">1</div>
<div class="t" style="left:577.34px;top:859.00px;font-size:22px;color:#000;transform:scaleX(1.0750);">8/19/2025 15:30</div>
<div class="t" style="left:848.32px;top:859.00px;font-size:22px;color:#000;transform:scaleX(1.0750);">3</div>
<div class="t" style="left:949.08px;top:859.00px;font-size:22px;color:#000;transform:scaleX(1.0750);">10</div>
<div class="t" style="left:1063.43px;top:859.00px;font-size:22px;color:#000;transform:scaleX(1.0750);">12</div>
<div class="t" style="left:1177.43px;top:859.00px;font-size:22px;color:#000;transform:scaleX(1.0750);">12</div>
<div class="t" style="left:1304.32px;top:859.00px;font-size:22px;color:#000;transform:scaleX(1.0750);">6</div>
<div class="t" style="left:1405.08px;top:859.00px;font-size:22px;color:#000;transform:scaleX(1.0750);">10</div>
<div class="t" style="left:1532.44px;top:859.00px;font-size:22px;color:#000;transform:scaleX(1.0750);">1</div>
<div class="t" style="left:1633.08px;top:859.00px;font-size:22px;color:#000;transform:scaleX(1.0750);">10</div>
<div class="t" style="left:1709.56px;top:859.00px;font-size:22px;color:#000;transform:scaleX(1.0750);">0.39</div>
<div class="t" style="left:1846.50px;top:859.00px;font-size:22px;color:#000;transform:scaleX(1.0750);">0.28</div>
<div class="t" style="left:1995.88px;top:859.00px;font-size:22px;color:#000;transform:scaleX(1.0750);">0.14</div>
<div class="t" style="left:2158.00px;top:859.00px;font-size:22px;color:#000;transform:scaleX(1.0750);">0.18</div>
<div class="t" style="left:2320.00px;top:859.00px;font-size:22px;color:#000;transform:scaleX(1.0750);">7.27</div>
<div class="t" style="left:2482.00px;top:859.00px;font-size:22px;color:#000;transform:scaleX(1.0750);">0.35</div>
<div class="t" style="left:2643.88px;top:859.00px;font-size:22px;color:#000;transform:scaleX(1.0750);">6.08</div>
<div class="t" style="left:2806.06px;top:859.00px;font-size:22px;color:#000;transform:scaleX(1.0750);">0.89</div>
<div class="t" style="left:2955.44px;top:859.00px;font-size:22px;color:#000;transform:scaleX(1.0750);">83.3</div>
<div class="t" style="left:53.58px;top:891.00px;font-size:22px;color:#000;transform:scaleX(1.0450);">0x0064</div>
<div class="t" style="left:282.20px;top:891.00px;font-size:22px;color:#000;transform:scaleX(1.0750);">0</div>
<div class="t" style="left:356.82px;top:891.00px;font-size:22px;color:#000;transform:scaleX(1.0750);">3515</div>
<div class="t" style="left:475.58px;top:891.00px;font-size:22px;color:#000;transform:scaleX(1.0750);">1</div>
<div class="t" style="left:590.70px;top:891.00px;font-size:22px;color:#000;transform:scaleX(1.0750);">8/19/2025 2:06</div>
<div class="t" style="left:848.32px;top:891.00px;font-size:22px;color:#000;transform:scaleX(1.0750);">3</div>
<div class="t" style="left:962.32px;top:891.00px;font-size:22px;color:#000;transform:scaleX(1.0750);">6</div>
<div class="t" style="left:1063.08px;top:891.00px;font-size:22px;color:#000;transform:scaleX(1.0750);">10</div>
<div class="t" style="left:1177.43px;top:891.00px;font-size:22px;color:#000;transform:scaleX(1.0750);">12</div>
<div class="t" style="left:1291.08px;top:891.00px;font-size:22px;color:#000;transform:scaleX(1.0750);">10</div>
<div class="t" style="left:1407.09px;top:891.00px;font-size:22px;color:#000;transform:scaleX(1.0750);">11</div>
<div class="t" style="left:1532.44px;top:891.00px;font-size:22px;color:#000;transform:scaleX(1.0750);">1</div>
<div class="t" style="left:1633.43px;top:891.00px;font-size:22px;color:#000;transform:scaleX(1.0750);">12</div>
<div class="t" style="left:1709.50px;top:891.00px;font-size:22px;color:#000;transform:scaleX(1.0750);">0.48</div>
<div class="t" style="left:1846.62px;top:891.00px;font-size:22px;color:#000;transform:scaleX(1.0750);">0.42</div>
<div class="t" style="left:1996.00px;top:891.00px;font-size:22px;color:#000;transform:scaleX(1.0750);">0.23</div>
<div class="t" style="left:2158.00px;top:891.00px;font-size:22px;color:#000;transform:scaleX(1.0750);">0.26</div>
<div class="t" style="left:2319.76px;top:891.00px;font-size:22px;color:#000;transform:scaleX(1.0750);">7.24</div>
<div class="t" style="left:2482.00px;top:891.00px;font-size:22px;color:#000;transform:scaleX(1.0750);">0.38</div>
<div class="t" style="left:2643.82px;top:891.00px;font-size:22px;color:#000;transform:scaleX(1.0750);">6.90</div>
<div class="t" style="left:2806.12px;top:891.00px;font-size:22px;color:#000;transform:scaleX(1.0750);">0.07</div>
<div class="t" style="left:2955.56px;top:891.00px;font-size:22px;color:#000;transform:scaleX(1.0750);">84.7</div>
<div class="t" style="left:53.58px;top:923.00px;font-size:22px;color:#000;transform:scaleX(1.0450);">0x0064</div>
<div class="t" style="left:282.20px;top:923.00px;font-size:22px;color:#000;transform:scaleX(1.0750);">0</div>
<div class="t" style="left:356.82px;top:923.00px;font-size:22px;color:#000;transform:scaleX(1.0750);">4363</div>
<div class="t" style="left:475.58px;top:923.00px;font-size:22px;color:#000;transform:scaleX(1.0750);">1</div>
<div class="t" style="left:577.69px;top:923.00px;font-size:22px;color:#000;transform:scaleX(1.0750);">8/19/2025 15:12</div>
<div class="t" style="left:848.32px;top:923.00px;font-size:22px;color:#000;transform:scaleX(1.0750);">3</div>
<div class="t" style="left:949.08px;top:923.00px;font-size:22px;color:#000;transform:scaleX(1.0750);">10</div>
<div class="t" style="left:1063.43px;top:923.00px;font-size:22px;color:#000;transform:scaleX(1.0750);">12</div>
<div class="t" style="left:1177.08px;top:923.00px;font-size:22px;color:#000;transform:scaleX(1.0750);">10</div>
<div class="t" style="left:1304.08px;top:923.00px;font-size:22px;color:#000;transform:scaleX(1.0750);">4</div>
<div class="t" style="left:1405.08px;top:923.00px;font-size:22px;color:#000;transform:scaleX(1.0750);">10</div>
<div class="t" style="left:1532.44px;top:923.00px;font-size:22px;color:#000;transform:scaleX(1.0750);">1</div>
<div class="t" style="left:1633.43px;top:923.00px;font-size:22px;color:#000;transform:scaleX(1.0750);">12</div>
<div class="t" style="left:1709.38px;top:923.00px;font-size:22px;color:#000;transform:scaleX(1.0750);">0.44</div>
<div class="t" style="left:1846.38px;top:923.00px;font-size:22px;color:#000;transform:scaleX(1.0750);">0.34</div>
<div class="t" style="left:1995.94px;top:923.00px;font-size:22px;color:#000;transform:scaleX(1.0750);">0.20</div>
<div class="t" style="left:2157.88px;top:923.00px;font-size:22px;color:#000;transform:scaleX(1.0750);">0.24</div>
<div class="t" style="left:2320.00px;top:923.00px;font-size:22px;color:#000;transform:scaleX(1.0750);">7.12</div>
<div class="t" style="left:2481.94px;top:923.00px;font-size:22px;color:#000;transform:scaleX(1.0750);">0.50</div>
<div class="t" style="left:2644.00px;top:923.00px;font-size:22px;color:#000;transform:scaleX(1.0750);">5.98</div>
<div class="t" style="left:2806.06px;top:923.00px;font-size:22px;color:#000;transform:scaleX(1.0750);">0.99</div>
<div class="t" style="left:2955.32px;top:923.00px;font-size:22px;color:#000;transform:scaleX(1.0750);">82.4</div>
<div class="t" style="left:53.58px;top:955.00px;font-size:22px;color:#000;transform:scaleX(1.0450);">0x0064</div>
<div class="t" style="left:282.20px;top:955.00px;font-size:22px;color:#000;transform:scaleX(1.0750);">0</div>
<div class="t" style="left:356.82px;top:955.00px;font-size:22px;color:#000;transform:scaleX(1.0750);">4385</div>
<div class="t" style="left:475.58px;top:955.00px;font-size:22px;color:#000;transform:scaleX(1.0750);">1</div>
<div class="t" style="left:577.57px;top:955.00px;font-size:22px;color:#000;transform:scaleX(1.0750);">8/19/2025 15:29</div>
<div class="t" style="left:848.32px;top:955.00px;font-size:22px;color:#000;transform:scaleX(1.0750);">3</div>
<div class="t" style="left:949.08px;top:955.00px;font-size:22px;color:#000;transform:scaleX(1.0750);">10</div>
<div class="t" style="left:1063.43px;top:955.00px;font-size:22px;color:#000;transform:scaleX(1.0750);">12</div>
<div class="t" style="left:1177.43px;top:955.00px;font-size:22px;color:#000;transform:scaleX(1.0750);">12</div>
<div class="t" style="left:1304.32px;top:955.00px;font-size:22px;color:#000;transform:scaleX(1.0750);">6</div>
<div class="t" style="left:1418.32px;top:955.00px;font-size:22px;color:#000;transform:scaleX(1.0750);">8</div>
<div class="t" style="left:1532.44px;top:955.00px;font-size:22px;color:#000;transform:scaleX(1.0750);">1</div>
<div class="t" style="left:1646.32px;top:955.00px;font-size:22px;color:#000;transform:scaleX(1.0750);">8</div>
<div class="t" style="left:1709.38px;top:955.00px;font-size:22px;color:#000;transform:scaleX(1.0750);">0.44</div>
<div class="t" style="left:1846.50px;top:955.00px;font-size:22px;color:#000;transform:scaleX(1.0750);">0.35</div>
<div class="t" style="left:1995.88px;top:955.00px;font-size:22px;color:#000;transform:scaleX(1.0750);">0.24</div>
<div class="t" style="left:2158.06px;top:955.00px;font-size:22px;color:#000;transform:scaleX(1.0750);">0.31</div>
<div class="t" style="left:2320.83px;top:955.00px;font-size:22px;color:#000;transform:scaleX(1.0750);">7.11</div>
<div class="t" style="left:2482.06px;top:955.00px;font-size:22px;color:#000;transform:scaleX(1.0750);">0.51</div>
<div class="t" style="left:2644.00px;top:955.00px;font-size:22px;color:#000;transform:scaleX(1.0750);">5.75</div>
<div class="t" style="left:2805.59px;top:955.00px;font-size:22px;color:#000;transform:scaleX(1.0750);">1.23</div>
<div class="t" style="left:2955.56px;top:955.00px;font-size:22px;color:#000;transform:scaleX(1.0750);">81.7</div>
<div class="t" style="left:53.58px;top:987.00px;font-size:22px;color:#000;transform:scaleX(1.0450);">0x0064</div>
<div class="t" style="left:282.20px;top:987.00px;font-size:22px;color:#000;transform:scaleX(1.0750);">0</div>
<div class="t" style="left:356.82px;top:987.00px;font-size:22px;color:#000;transform:scaleX(1.0750);">3983</div>
<div class="t" style="left:475.58px;top:987.00px;font-size:22px;color:#000;transform:scaleX(1.0750);">1</div>
<div class="t" style="left:590.94px;top:987.00px;font-size:22px;color:#000;transform:scaleX(1.0750);">8/19/2025 9:07</div>
<div class="t" style="left:848.32px;top:987.00px;font-size:22px;color:#000;transform:scaleX(1.0750);">3</div>
<div class="t" style="left:962.32px;top:987.00px;font-size:22px;color:#000;transform:scaleX(1.0750);">8</div>
<div class="t" style="left:1063.43px;top:987.00px;font-size:22px;color:#000;transform:scaleX(1.0750);">12</div>
<div class="t" style="left:1177.43px;top:987.00px;font-size:22px;color:#000;transform:scaleX(1.0750);">12</div>
<div class="t" style="left:1304.08px;top:987.00px;font-size:22px;color:#000;transform:scaleX(1.0750);">4</div>
<div class="t" style="left:1405.08px;top:987.00px;font-size:22px;color:#000;transform:scaleX(1.0750);">10</div>
<div class="t" style="left:1532.44px;top:987.00px;font-size:22px;color:#000;transform:scaleX(1.0750);">1</div>
<div class="t" style="left:1633.43px;top:987.00px;font-size:22px;color:#000;transform:scaleX(1.0750);">12</div>
<div class="t" style="left:1709.56px;top:987.00px;font-size:22px;color:#000;transform:scaleX(1.0750);">0.41</div>
<div class="t" style="left:1846.50px;top:987.00px;font-size:22px;color:#000;transform:scaleX(1.0750);">0.25</div>
<div class="t" style="left:1995.94px;top:987.00px;font-size:22px;color:#000;transform:scaleX(1.0750);">0.30</div>
<div class="t" style="left:2158.00px;top:987.00px;font-size:22px;color:#000;transform:scaleX(1.0750);">0.23</div>
<div class="t" style="left:2319.82px;top:987.00px;font-size:22px;color:#000;transform:scaleX(1.0750);">7.10</div>
<div class="t" style="left:2482.12px;top:987.00px;font-size:22px;color:#000;transform:scaleX(1.0750);">0.52</div>
<div class="t" style="left:2643.88px;top:987.00px;font-size:22px;color:#000;transform:scaleX(1.0750);">6.16</div>
<div class="t" style="left:2806.12px;top:987.00px;font-size:22px;color:#000;transform:scaleX(1.0750);">0.82</div>
<div class="t" style="left:2955.44px;top:987.00px;font-size:22px;color:#000;transform:scaleX(1.0750);">81.6</div>
<div class="t" style="left:53.58px;top:1019.00px;font-size:22px;color:#000;transform:scaleX(1.0450);">0x0064</div>
<div class="t" style="left:282.20px;top:1019.00px;font-size:22px;color:#000;transform:scaleX(1.0750);">0</div>
<div class="t" style="left:356.94px;top:1019.00px;font-size:22px;color:#000;transform:scaleX(1.0750);">4791</div>
<div class="t" style="left:475.58px;top:1019.00px;font-size:22px;color:#000;transform:scaleX(1.0750);">1</div>
<div class="t" style="left:577.46px;top:1019.00px;font-size:22px;color:#000;transform:scaleX(1.0750);">8/19/2025 22:13</div>
<div class="t" style="left:848.32px;top:1019.00px;font-size:22px;color:#000;transform:scaleX(1.0750);">3</div>
<div class="t" style="left:949.43px;top:1019.00px;font-size:22px;color:#000;transform:scaleX(1.0750);">12</div>
<div class="t" style="left:1063.43px;top:1019.00px;font-size:22px;color:#000;transform:scaleX(1.0750);">12</div>
<div class="t" style="left:1177.43px;top:1019.00px;font-size:22px;color:#000;transform:scaleX(1.0750);">12</div>
<div class="t" style="left:1304.32px;top:1019.00px;font-size:22px;color:#000;transform:scaleX(1.0750);">8</div>
<div class="t" style="left:1405.43px;top:1019.00px;font-size:22px;color:#000;transform:scaleX(1.0750);">12</div>
<div class="t" style="left:1532.44px;top:1019.00px;font-size:22px;color:#000;transform:scaleX(1.0750);">1</div>
<div class="t" style="left:1633.43px;top:1019.00px;font-size:22px;color:#000;transform:scaleX(1.0750);">12</div>
<div class="t" style="left:1709.50px;top:1019.00px;font-size:22px;color:#000;transform:scaleX(1.0750);">0.48</div>
<div class="t" style="left:1846.50px;top:1019.00px;font-size:22px;color:#000;transform:scaleX(1.0750);">0.43</div>
<div class="t" style="left:1996.00px;top:1019.00px;font-size:22px;color:#000;transform:scaleX(1.0750);">0.05</div>
<div class="t" style="left:2158.12px;top:1019.00px;font-size:22px;color:#000;transform:scaleX(1.0750);">0.17</div>
<div class="t" style="left:2319.88px;top:1019.00px;font-size:22px;color:#000;transform:scaleX(1.0750);">7.08</div>
<div class="t" style="left:2481.88px;top:1019.00px;font-size:22px;color:#000;transform:scaleX(1.0750);">0.54</div>
<div class="t" style="left:2644.36px;top:1019.00px;font-size:22px;color:#000;transform:scaleX(1.0750);">4.17</div>
<div class="t" style="left:2805.94px;top:1019.00px;font-size:22px;color:#000;transform:scaleX(1.0750);">2.81</div>
<div class="t" style="left:2955.44px;top:1019.00px;font-size:22px;color:#000;transform:scaleX(1.0750);">87.5</div>
<div class="t" style="left:53.58px;top:1051.00px;font-size:22px;color:#000;transform:scaleX(1.0450);">0x0064</div>
<div class="t" style="left:282.20px;top:1051.00px;font-size:22px;color:#000;transform:scaleX(1.0750);">0</div>
<div class="t" style="left:357.06px;top:1051.00px;font-size:22px;color:#000;transform:scaleX(1.0750);">3982</div>
<div class="t" style="left:475.58px;top:1051.00px;font-size:22px;color:#000;transform:scaleX(1.0750);">1</div>
<div class="t" style="left:590.70px;top:1051.00px;font-size:22px;color:#000;transform:scaleX(1.0750);">8/19/2025 9:06</div>
<div class="t" style="left:848.32px;top:1051.00px;font-size:22px;color:#000;transform:scaleX(1.0750);">3</div>
<div class="t" style="left:962.32px;top:1051.00px;font-size:22px;color:#000;transform:scaleX(1.0750);">8</div>
<div class="t" style="left:1063.43px;top:1051.00px;font-size:22px;color:#000;transform:scaleX(1.0750);">12</div>
<div class="t" style="left:1177.43px;top:1051.00px;font-size:22px;color:#000;transform:scaleX(1.0750);">12</div>
<div class="t" style="left:1304.08px;top:1051.00px;font-size:22px;color:#000;transform:scaleX(1.0750);">4</div>
<div class="t" style="left:1418.44px;top:1051.00px;font-size:22px;color:#000;transform:scaleX(1.0750);">9</div>
<div class="t" style="left:1532.44px;top:1051.00px;font-size:22px;color:#000;transform:scaleX(1.0750);">1</div>
<div class="t" style="left:1633.08px;top:1051.00px;font-size:22px;color:#000;transform:scaleX(1.0750);">10</div>
<div class="t" style="left:1709.50px;top:1051.00px;font-size:22px;color:#000;transform:scaleX(1.0750);">0.46</div>
<div class="t" style="left:1846.56px;top:1051.00px;font-size:22px;color:#000;transform:scaleX(1.0750);">0.19</div>
<div class="t" style="left:1996.00px;top:1051.00px;font-size:22px;color:#000;transform:scaleX(1.0750);">0.36</div>
<div class="t" style="left:2158.00px;top:1051.00px;font-size:22px;color:#000;transform:scaleX(1.0750);">0.18</div>
<div class="t" style="left:2320.00px;top:1051.00px;font-size:22px;color:#000;transform:scaleX(1.0750);">7.07</div>
<div class="t" style="left:2482.00px;top:1051.00px;font-size:22px;color:#000;transform:scaleX(1.0750);">0.55</div>
<div class="t" style="left:2644.00px;top:1051.00px;font-size:22px;color:#000;transform:scaleX(1.0750);">6.12</div>
<div class="t" style="left:2806.00px;top:1051.00px;font-size:22px;color:#000;transform:scaleX(1.0750);">0.86</div>
<div class="t" style="left:2955.56px;top:1051.00px;font-size:22px;color:#000;transform:scaleX(1.0750);">80.2</div>
<div class="t" style="left:53.58px;top:1083.00px;font-size:22px;color:#000;transform:scaleX(1.0450);">0x0064</div>
<div class="t" style="left:282.20px;top:1083.00px;font-size:22px;color:#000;transform:scaleX(1.0750);">0</div>
<div class="t" style="left:356.94px;top:1083.00px;font-size:22px;color:#000;transform:scaleX(1.0750);">3591</div>
<div class="t" style="left:475.58px;top:1083.00px;font-size:22px;color:#000;transform:scaleX(1.0750);">1</div>
<div class="t" style="left:590.46px;top:1083.00px;font-size:22px;color:#000;transform:scaleX(1.0750);">8/19/2025 3:14</div>
<div class="t" style="left:848.32px;top:1083.00px;font-size:22px;color:#000;transform:scaleX(1.0750);">3</div>
<div class="t" style="left:962.32px;top:1083.00px;font-size:22px;color:#000;transform:scaleX(1.0750);">6</div>
<div class="t" style="left:1063.43px;top:1083.00px;font-size:22px;color:#000;transform:scaleX(1.0750);">12</div>
<div class="t" style="left:1177.43px;top:1083.00px;font-size:22px;color:#000;transform:scaleX(1.0750);">12</div>
<div class="t" style="left:1304.32px;top:1083.00px;font-size:22px;color:#000;transform:scaleX(1.0750);">8</div>
<div class="t" style="left:1405.08px;top:1083.00px;font-size:22px;color:#000;transform:scaleX(1.0750);">10</div>
<div class="t" style="left:1532.44px;top:1083.00px;font-size:22px;color:#000;transform:scaleX(1.0750);">1</div>
<div class="t" style="left:1633.43px;top:1083.00px;font-size:22px;color:#000;transform:scaleX(1.0750);">12</div>
<div class="t" style="left:1709.62px;top:1083.00px;font-size:22px;color:#000;transform:scaleX(1.0750);">0.42</div>
<div class="t" style="left:1846.38px;top:1083.00px;font-size:22px;color:#000;transform:scaleX(1.0750);">0.34</div>
<div class="t" style="left:1996.12px;top:1083.00px;font-size:22px;color:#000;transform:scaleX(1.0750);">0.32</div>
<div class="t" style="left:2158.00px;top:1083.00px;font-size:22px;color:#000;transform:scaleX(1.0750);">0.33</div>
<div class="t" style="left:2319.88px;top:1083.00px;font-size:22px;color:#000;transform:scaleX(1.0750);">7.06</div>
<div class="t" style="left:2482.00px;top:1083.00px;font-size:22px;color:#000;transform:scaleX(1.0750);">0.56</div>
<div class="t" style="left:2643.88px;top:1083.00px;font-size:22px;color:#000;transform:scaleX(1.0750);">6.33</div>
<div class="t" style="left:2806.00px;top:1083.00px;font-size:22px;color:#000;transform:scaleX(1.0750);">0.65</div>
<div class="t" style="left:2955.32px;top:1083.00px;font-size:22px;color:#000;transform:scaleX(1.0750);">83.4</div>
<div class="t" style="left:53.58px;top:1115.00px;font-size:22px;color:#000;transform:scaleX(1.0450);">0x0064</div>
<div class="t" style="left:282.20px;top:1115.00px;font-size:22px;color:#000;transform:scaleX(1.0750);">0</div>
<div class="t" style="left:358.72px;top:1115.00px;font-size:22px;color:#000;transform:scaleX(1.0750);">3511</div>
<div class="t" style="left:475.58px;top:1115.00px;font-size:22px;color:#000;transform:scaleX(1.0750);">1</div>
<div class="t" style="left:590.70px;top:1115.00px;font-size:22px;color:#000;transform:scaleX(1.0750);">8/19/2025 2:03</div>
<div class="t" style="left:848.32px;top:1115.00px;font-size:22px;color:#000;transform:scaleX(1.0750);">3</div>
<div class="t" style="left:962.32px;top:1115.00px;font-size:22px;color:#000;transform:scaleX(1.0750);">6</div>
<div class="t" style="left:1063.08px;top:1115.00px;font-size:22px;color:#000;transform:scaleX(1.0750);">10</div>
<div class="t" style="left:1177.43px;top:1115.00px;font-size:22px;color:#000;transform:scaleX(1.0750);">12</div>
<div class="t" style="left:1304.32px;top:1115.00px;font-size:22px;color:#000;transform:scaleX(1.0750);">8</div>
<div class="t" style="left:1405.08px;top:1115.00px;font-size:22px;color:#000;transform:scaleX(1.0750);">10</div>
<div class="t" style="left:1532.44px;top:1115.00px;font-size:22px;color:#000;transform:scaleX(1.0750);">1</div>
<div class="t" style="left:1633.43px;top:1115.00px;font-size:22px;color:#000;transform:scaleX(1.0750);">12</div>
<div class="t" style="left:1709.50px;top:1115.00px;font-size:22px;color:#000;transform:scaleX(1.0750);">0.43</div>
<div class="t" style="left:1846.50px;top:1115.00px;font-size:22px;color:#000;transform:scaleX(1.0750);">0.35</div>
<div class="t" style="left:1995.94px;top:1115.00px;font-size:22px;color:#000;transform:scaleX(1.0750);">0.30</div>
<div class="t" style="left:2158.06px;top:1115.00px;font-size:22px;color:#000;transform:scaleX(1.0750);">0.31</div>
<div class="t" style="left:2319.76px;top:1115.00px;font-size:22px;color:#000;transform:scaleX(1.0750);">7.04</div>
<div class="t" style="left:2482.00px;top:1115.00px;font-size:22px;color:#000;transform:scaleX(1.0750);">0.58</div>
<div class="t" style="left:2643.88px;top:1115.00px;font-size:22px;color:#000;transform:scaleX(1.0750);">6.43</div>
<div class="t" style="left:2806.00px;top:1115.00px;font-size:22px;color:#000;transform:scaleX(1.0750);">0.55</div>
<div class="t" style="left:2955.44px;top:1115.00px;font-size:22px;color:#000;transform:scaleX(1.0750);">83.3</div>
<div class="t" style="left:53.58px;top:1147.00px;font-size:22px;color:#000;transform:scaleX(1.0450);">0x0064</div>
<div class="t" style="left:282.20px;top:1147.00px;font-size:22px;color:#000;transform:scaleX(1.0750);">0</div>
<div class="t" style="left:356.82px;top:1147.00px;font-size:22px;color:#000;transform:scaleX(1.0750);">4388</div>
<div class="t" style="left:475.58px;top:1147.00px;font-size:22px;color:#000;transform:scaleX(1.0750);">1</div>
<div class="t" style="left:577.69px;top:1147.00px;font-size:22px;color:#000;transform:scaleX(1.0750);">8/19/2025 15:32</div>
<div class="t" style="left:848.32px;top:1147.00px;font-size:22px;color:#000;transform:scaleX(1.0750);">3</div>
<div class="t" style="left:949.08px;top:1147.00px;font-size:22px;color:#000;transform:scaleX(1.0750);">10</div>
<div class="t" style="left:1063.43px;top:1147.00px;font-size:22px;color:#000;transform:scaleX(1.0750);">12</div>
<div class="t" style="left:1177.43px;top:1147.00px;font-size:22px;color:#000;transform:scaleX(1.0750);">12</div>
<div class="t" style="left:1304.32px;top:1147.00px;font-size:22px;color:#000;transform:scaleX(1.0750);">8</div>
<div class="t" style="left:1418.32px;top:1147.00px;font-size:22px;color:#000;transform:scaleX(1.0750);">6</div>
<div class="t" style="left:1532.44px;top:1147.00px;font-size:22px;color:#000;transform:scaleX(1.0750);">1</div>
<div class="t" style="left:1646.32px;top:1147.00px;font-size:22px;color:#000;transform:scaleX(1.0750);">6</div>
<div class="t" style="left:1709.50px;top:1147.00px;font-size:22px;color:#000;transform:scaleX(1.0750);">0.23</div>
<div class="t" style="left:1846.50px;top:1147.00px;font-size:22px;color:#000;transform:scaleX(1.0750);">0.26</div>
<div class="t" style="left:1996.12px;top:1147.00px;font-size:22px;color:#000;transform:scaleX(1.0750);">0.02</div>
<div class="t" style="left:2158.00px;top:1147.00px;font-size:22px;color:#000;transform:scaleX(1.0750);">0.26</div>
<div class="t" style="left:2320.00px;top:1147.00px;font-size:22px;color:#000;transform:scaleX(1.0750);">7.02</div>
<div class="t" style="left:2481.94px;top:1147.00px;font-size:22px;color:#000;transform:scaleX(1.0750);">0.60</div>
<div class="t" style="left:2644.00px;top:1147.00px;font-size:22px;color:#000;transform:scaleX(1.0750);">5.55</div>
<div class="t" style="left:2805.70px;top:1147.00px;font-size:22px;color:#000;transform:scaleX(1.0750);">1.42</div>
<div class="t" style="left:2955.38px;top:1147.00px;font-size:22px;color:#000;transform:scaleX(1.0750);">81.0</div>
<div class="t" style="left:53.58px;top:1179.00px;font-size:22px;color:#000;transform:scaleX(1.0450);">0x0064</div>
<div class="t" style="left:282.20px;top:1179.00px;font-size:22px;color:#000;transform:scaleX(1.0750);">0</div>
<div class="t" style="left:357.06px;top:1179.00px;font-size:22px;color:#000;transform:scaleX(1.0750);">3587</div>
<div class="t" style="left:475.58px;top:1179.00px;font-size:22px;color:#000;transform:scaleX(1.0750);">1</div>
<div class="t" style="left:590.58px;top:1179.00px;font-size:22px;color:#000;transform:scaleX(1.0750);">8/19/2025 3:10</div>
<div class="t" style="left:848.32px;top:1179.00px;font-size:22px;color:#000;transform:scaleX(1.0750);">3</div>
<div class="t" style="left:962.32px;top:1179.00px;font-size:22px;color:#000;transform:scaleX(1.0750);">6</div>
<div class="t" style="left:1063.43px;top:1179.00px;font-size:22px;color:#000;transform:scaleX(1.0750);">12</div>
<div class="t" style="left:1177.43px;top:1179.00px;font-size:22px;color:#000;transform:scaleX(1.0750);">12</div>
<div class="t" style="left:1304.32px;top:1179.00px;font-size:22px;color:#000;transform:scaleX(1.0750);">6</div>
<div class="t" style="left:1405.08px;top:1179.00px;font-size:22px;color:#000;transform:scaleX(1.0750);">10</div>
<div class="t" style="left:1532.44px;top:1179.00px;font-size:22px;color:#000;transform:scaleX(1.0750);">1</div>
<div class="t" style="left:1633.43px;top:1179.00px;font-size:22px;color:#000;transform:scaleX(1.0750);">12</div>
<div class="t" style="left:1709.62px;top:1179.00px;font-size:22px;color:#000;transform:scaleX(1.0750);">0.42</div>
<div class="t" style="left:1846.56px;top:1179.00px;font-size:22px;color:#000;transform:scaleX(1.0750);">0.31</div>
<div class="t" style="left:1996.00px;top:1179.00px;font-size:22px;color:#000;transform:scaleX(1.0750);">0.33</div>
<div class="t" style="left:2158.06px;top:1179.00px;font-size:22px;color:#000;transform:scaleX(1.0750);">0.29</div>
<div class="t" style="left:2320.00px;top:1179.00px;font-size:22px;color:#000;transform:scaleX(1.0750);">7.02</div>
<div class="t" style="left:2481.94px;top:1179.00px;font-size:22px;color:#000;transform:scaleX(1.0750);">0.60</div>
<div class="t" style="left:2643.82px;top:1179.00px;font-size:22px;color:#000;transform:scaleX(1.0750);">6.60</div>
<div class="t" style="left:2806.12px;top:1179.00px;font-size:22px;color:#000;transform:scaleX(1.0750);">0.37</div>
<div class="t" style="left:2955.44px;top:1179.00px;font-size:22px;color:#000;transform:scaleX(1.0750);">82.3</div>
<div class="t" style="left:53.58px;top:1211.00px;font-size:22px;color:#000;transform:scaleX(1.0450);">0x0064</div>
<div class="t" style="left:282.20px;top:1211.00px;font-size:22px;color:#000;transform:scaleX(1.0750);">0</div>
<div class="t" style="left:356.82px;top:1211.00px;font-size:22px;color:#000;transform:scaleX(1.0750);">3583</div>
<div class="t" style="left:475.58px;top:1211.00px;font-size:22px;color:#000;transform:scaleX(1.0750);">1</div>
<div class="t" style="left:590.94px;top:1211.00px;font-size:22px;color:#000;transform:scaleX(1.0750);">8/19/2025 3:07</div>
<div class="t" style="left:848.32px;top:1211.00px;font-size:22px;color:#000;transform:scaleX(1.0750);">3</div>
<div class="t" style="left:962.32px;top:1211.00px;font-size:22px;color:#000;transform:scaleX(1.0750);">6</div>
<div class="t" style="left:1063.43px;top:1211.00px;font-size:22px;color:#000;transform:scaleX(1.0750);">12</div>
<div class="t" style="left:1177.43px;top:1211.00px;font-size:22px;color:#000;transform:scaleX(1.0750);">12</div>
<div class="t" style="left:1304.08px;top:1211.00px;font-size:22px;color:#000;transform:scaleX(1.0750);">4</div>
<div class="t" style="left:1405.08px;top:1211.00px;font-size:22px;color:#000;transform:scaleX(1.0750);">10</div>
<div class="t" style="left:1532.44px;top:1211.00px;font-size:22px;color:#000;transform:scaleX(1.0750);">1</div>
<div class="t" style="left:1633.43px;top:1211.00px;font-size:22px;color:#000;transform:scaleX(1.0750);">12</div>
<div class="t" style="left:1709.62px;top:1211.00px;font-size:22px;color:#000;transform:scaleX(1.0750);">0.37</div>
<div class="t" style="left:1846.50px;top:1211.00px;font-size:22px;color:#000;transform:scaleX(1.0750);">0.26</div>
<div class="t" style="left:1996.00px;top:1211.00px;font-size:22px;color:#000;transform:scaleX(1.0750);">0.26</div>
<div class="t" style="left:2157.94px;top:1211.00px;font-size:22px;color:#000;transform:scaleX(1.0750);">0.20</div>
<div class="t" style="left:2319.76px;top:1211.00px;font-size:22px;color:#000;transform:scaleX(1.0750);">6.94</div>
<div class="t" style="left:2482.00px;top:1211.00px;font-size:22px;color:#000;transform:scaleX(1.0750);">0.68</div>
<div class="t" style="left:2643.88px;top:1211.00px;font-size:22px;color:#000;transform:scaleX(1.0750);">6.23</div>
<div class="t" style="left:2805.88px;top:1211.00px;font-size:22px;color:#000;transform:scaleX(1.0750);">0.74</div>
<div class="t" style="left:2955.56px;top:1211.00px;font-size:22px;color:#000;transform:scaleX(1.0750);">81.2</div>
<div class="t" style="left:53.58px;top:1243.00px;font-size:22px;color:#000;transform:scaleX(1.0450);">0x0064</div>
<div class="t" style="left:282.20px;top:1243.00px;font-size:22px;color:#000;transform:scaleX(1.0750);">0</div>
<div class="t" style="left:356.71px;top:1243.00px;font-size:22px;color:#000;transform:scaleX(1.0750);">3590</div>
<div class="t" style="left:475.58px;top:1243.00px;font-size:22px;color:#000;transform:scaleX(1.0750);">1</div>
<div class="t" style="left:590.70px;top:1243.00px;font-size:22px;color:#000;transform:scaleX(1.0750);">8/19/2025 3:13</div>
<div class="t" style="left:848.32px;top:1243.00px;font-size:22px;color:#000;transform:scaleX(1.0750);">3</div>
<div class="t" style="left:962.32px;top:1243.00px;font-size:22px;color:#000;transform:scaleX(1.0750);">6</div>
<div class="t" style="left:1063.43px;top:1243.00px;font-size:22px;color:#000;transform:scaleX(1.0750);">12</div>
<div class="t" style="left:1177.43px;top:1243.00px;font-size:22px;color:#000;transform:scaleX(1.0750);">12</div>
<div class="t" style="left:1304.32px;top:1243.00px;font-size:22px;color:#000;transform:scaleX(1.0750);">8</div>
<div class="t" style="left:1418.44px;top:1243.00px;font-size:22px;color:#000;transform:scaleX(1.0750);">9</div>
<div class="t" style="left:1532.44px;top:1243.00px;font-size:22px;color:#000;transform:scaleX(1.0750);">1</div>
<div class="t" style="left:1633.08px;top:1243.00px;font-size:22px;color:#000;transform:scaleX(1.0750);">10</div>
<div class="t" style="left:1709.50px;top:1243.00px;font-size:22px;color:#000;transform:scaleX(1.0750);">0.28</div>
<div class="t" style="left:1846.56px;top:1243.00px;font-size:22px;color:#000;transform:scaleX(1.0750);">0.29</div>
<div class="t" style="left:1996.00px;top:1243.00px;font-size:22px;color:#000;transform:scaleX(1.0750);">0.18</div>
<div class="t" style="left:2158.06px;top:1243.00px;font-size:22px;color:#000;transform:scaleX(1.0750);">0.29</div>
<div class="t" style="left:2319.76px;top:1243.00px;font-size:22px;color:#000;transform:scaleX(1.0750);">6.94</div>
<div class="t" style="left:2482.00px;top:1243.00px;font-size:22px;color:#000;transform:scaleX(1.0750);">0.68</div>
<div class="t" style="left:2643.94px;top:1243.00px;font-size:22px;color:#000;transform:scaleX(1.0750);">6.01</div>
<div class="t" style="left:2806.12px;top:1243.00px;font-size:22px;color:#000;transform:scaleX(1.0750);">0.97</div>
<div class="t" style="left:2955.50px;top:1243.00px;font-size:22px;color:#000;transform:scaleX(1.0750);">82.1</div>
<div class="t" style="left:53.58px;top:1275.00px;font-size:22px;color:#000;transform:scaleX(1.0450);">0x0064</div>
<div class="t" style="left:282.20px;top:1275.00px;font-size:22px;color:#000;transform:scaleX(1.0750);">0</div>
<div class="t" style="left:357.06px;top:1275.00px;font-size:22px;color:#000;transform:scaleX(1.0750);">3027</div>
<div class="t" style="left:475.58px;top:1275.00px;font-size:22px;color:#000;transform:scaleX(1.0750);">1</div>
<div class="t" style="left:577.46px;top:1275.00px;font-size:22px;color:#000;transform:scaleX(1.0750);">8/18/2025 18:36</div>
<div class="t" style="left:848.32px;top:1275.00px;font-size:22px;color:#000;transform:scaleX(1.0750);">3</div>
<div class="t" style="left:962.08px;top:1275.00px;font-size:22px;color:#000;transform:scaleX(1.0750);">4</div>
<div class="t" style="left:1076.32px;top:1275.00px;font-size:22px;color:#000;transform:scaleX(1.0750);">8</div>
<div class="t" style="left:1177.43px;top:1275.00px;font-size:22px;color:#000;transform:scaleX(1.0750);">12</div>
<div class="t" style="left:1304.32px;top:1275.00px;font-size:22px;color:#000;transform:scaleX(1.0750);">6</div>
<div class="t" style="left:1405.08px;top:1275.00px;font-size:22px;color:#000;transform:scaleX(1.0750);">10</div>
<div class="t" style="left:1532.44px;top:1275.00px;font-size:22px;color:#000;transform:scaleX(1.0750);">1</div>
<div class="t" style="left:1633.43px;top:1275.00px;font-size:22px;color:#000;transform:scaleX(1.0750);">12</div>
<div class="t" style="left:1709.38px;top:1275.00px;font-size:22px;color:#000;transform:scaleX(1.0750);">0.34</div>
<div class="t" style="left:1846.50px;top:1275.00px;font-size:22px;color:#000;transform:scaleX(1.0750);">0.35</div>
<div class="t" style="left:1996.00px;top:1275.00px;font-size:22px;color:#000;transform:scaleX(1.0750);">0.16</div>
<div class="t" style="left:2158.00px;top:1275.00px;font-size:22px;color:#000;transform:scaleX(1.0750);">0.25</div>
<div class="t" style="left:2320.00px;top:1275.00px;font-size:22px;color:#000;transform:scaleX(1.0750);">6.92</div>
<div class="t" style="left:2481.94px;top:1275.00px;font-size:22px;color:#000;transform:scaleX(1.0750);">0.70</div>
<div class="t" style="left:2643.82px;top:1275.00px;font-size:22px;color:#000;transform:scaleX(1.0750);">6.40</div>
<div class="t" style="left:2806.00px;top:1275.00px;font-size:22px;color:#000;transform:scaleX(1.0750);">0.58</div>
<div class="t" style="left:2955.44px;top:1275.00px;font-size:22px;color:#000;transform:scaleX(1.0750);">81.8</div>
<div class="t" style="left:53.58px;top:1307.00px;font-size:22px;color:#000;transform:scaleX(1.0450);">0x0064</div>
<div class="t" style="left:282.20px;top:1307.00px;font-size:22px;color:#000;transform:scaleX(1.0750);">0</div>
<div class="t" style="left:356.82px;top:1307.00px;font-size:22px;color:#000;transform:scaleX(1.0750);">3913</div>
<div class="t" style="left:475.58px;top:1307.00px;font-size:22px;color:#000;transform:scaleX(1.0750);">1</div>
<div class="t" style="left:590.94px;top:1307.00px;font-size:22px;color:#000;transform:scaleX(1.0750);">8/19/2025 8:07</div>
<div class="t" style="left:848.32px;top:1307.00px;font-size:22px;color:#000;transform:scaleX(1.0750);">3</div>
<div class="t" style="left:962.32px;top:1307.00px;font-size:22px;color:#000;transform:scaleX(1.0750);">8</div>
<div class="t" style="left:1063.08px;top:1307.00px;font-size:22px;color:#000;transform:scaleX(1.0750);">10</div>
<div class="t" style="left:1177.43px;top:1307.00px;font-size:22px;color:#000;transform:scaleX(1.0750);">12</div>
<div class="t" style="left:1291.08px;top:1307.00px;font-size:22px;color:#000;transform:scaleX(1.0750);">10</div>
<div class="t" style="left:1418.32px;top:1307.00px;font-size:22px;color:#000;transform:scaleX(1.0750);">8</div>
<div class="t" style="left:1532.44px;top:1307.00px;font-size:22px;color:#000;transform:scaleX(1.0750);">1</div>
<div class="t" style="left:1646.32px;top:1307.00px;font-size:22px;color:#000;transform:scaleX(1.0750);">8</div>
<div class="t" style="left:1709.50px;top:1307.00px;font-size:22px;color:#000;transform:scaleX(1.0750);">0.48</div>
<div class="t" style="left:1846.50px;top:1307.00px;font-size:22px;color:#000;transform:scaleX(1.0750);">0.36</div>
<div class="t" style="left:1996.06px;top:1307.00px;font-size:22px;color:#000;transform:scaleX(1.0750);">0.21</div>
<div class="t" style="left:2158.00px;top:1307.00px;font-size:22px;color:#000;transform:scaleX(1.0750);">0.25</div>
<div class="t" style="left:2320.00px;top:1307.00px;font-size:22px;color:#000;transform:scaleX(1.0750);">6.92</div>
<div class="t" style="left:2481.94px;top:1307.00px;font-size:22px;color:#000;transform:scaleX(1.0750);">0.70</div>
<div class="t" style="left:2643.88px;top:1307.00px;font-size:22px;color:#000;transform:scaleX(1.0750);">6.28</div>
<div class="t" style="left:2806.06px;top:1307.00px;font-size:22px;color:#000;transform:scaleX(1.0750);">0.69</div>
<div class="t" style="left:2955.56px;top:1307.00px;font-size:22px;color:#000;transform:scaleX(1.0750);">82.2</div>
<div class="t" style="left:53.58px;top:1339.00px;font-size:22px;color:#000;transform:scaleX(1.0450);">0x0064</div>
<div class="t" style="left:282.20px;top:1339.00px;font-size:22px;color:#000;transform:scaleX(1.0750);">0</div>
<div class="t" style="left:356.94px;top:1339.00px;font-size:22px;color:#000;transform:scaleX(1.0750);">4371</div>
<div class="t" style="left:475.58px;top:1339.00px;font-size:22px;color:#000;transform:scaleX(1.0750);">1</div>
<div class="t" style="left:577.57px;top:1339.00px;font-size:22px;color:#000;transform:scaleX(1.0750);">8/19/2025 15:19</div>
<div class="t" style="left:848.32px;top:1339.00px;font-size:22px;color:#000;transform:scaleX(1.0750);">3</div>
<div class="t" style="left:949.08px;top:1339.00px;font-size:22px;color:#000;transform:scaleX(1.0750);">10</div>
<div class="t" style="left:1063.43px;top:1339.00px;font-size:22px;color:#000;transform:scaleX(1.0750);">12</div>
<div class="t" style="left:1177.08px;top:1339.00px;font-size:22px;color:#000;transform:scaleX(1.0750);">10</div>
<div class="t" style="left:1304.32px;top:1339.00px;font-size:22px;color:#000;transform:scaleX(1.0750);">8</div>
<div class="t" style="left:1405.08px;top:1339.00px;font-size:22px;color:#000;transform:scaleX(1.0750);">10</div>
<div class="t" style="left:1532.44px;top:1339.00px;font-size:22px;color:#000;transform:scaleX(1.0750);">1</div>
<div class="t" style="left:1633.43px;top:1339.00px;font-size:22px;color:#000;transform:scaleX(1.0750);">12</div>
<div class="t" style="left:1709.50px;top:1339.00px;font-size:22px;color:#000;transform:scaleX(1.0750);">0.26</div>
<div class="t" style="left:1846.50px;top:1339.00px;font-size:22px;color:#000;transform:scaleX(1.0750);">0.23</div>
<div class="t" style="left:1996.12px;top:1339.00px;font-size:22px;color:#000;transform:scaleX(1.0750);">0.07</div>
<div class="t" style="left:2158.12px;top:1339.00px;font-size:22px;color:#000;transform:scaleX(1.0750);">0.17</div>
<div class="t" style="left:2319.94px;top:1339.00px;font-size:22px;color:#000;transform:scaleX(1.0750);">6.91</div>
<div class="t" style="left:2482.06px;top:1339.00px;font-size:22px;color:#000;transform:scaleX(1.0750);">0.71</div>
<div class="t" style="left:2644.12px;top:1339.00px;font-size:22px;color:#000;transform:scaleX(1.0750);">5.67</div>
<div class="t" style="left:2805.65px;top:1339.00px;font-size:22px;color:#000;transform:scaleX(1.0750);">1.31</div>
<div class="t" style="left:2955.56px;top:1339.00px;font-size:22px;color:#000;transform:scaleX(1.0750);">84.2</div>
<div class="t" style="left:53.58px;top:1371.00px;font-size:22px;color:#000;transform:scaleX(1.0450);">0x0064</div>
<div class="t" style="left:282.20px;top:1371.00px;font-size:22px;color:#000;transform:scaleX(1.0750);">0</div>
<div class="t" style="left:357.06px;top:1371.00px;font-size:22px;color:#000;transform:scaleX(1.0750);">3107</div>
<div class="t" style="left:475.58px;top:1371.00px;font-size:22px;color:#000;transform:scaleX(1.0750);">1</div>
<div class="t" style="left:577.34px;top:1371.00px;font-size:22px;color:#000;transform:scaleX(1.0750);">8/18/2025 19:50</div>
<div class="t" style="left:848.32px;top:1371.00px;font-size:22px;color:#000;transform:scaleX(1.0750);">3</div>
<div class="t" style="left:962.08px;top:1371.00px;font-size:22px;color:#000;transform:scaleX(1.0750);">4</div>
<div class="t" style="left:1063.08px;top:1371.00px;font-size:22px;color:#000;transform:scaleX(1.0750);">10</div>
<div class="t" style="left:1177.43px;top:1371.00px;font-size:22px;color:#000;transform:scaleX(1.0750);">12</div>
<div class="t" style="left:1304.32px;top:1371.00px;font-size:22px;color:#000;transform:scaleX(1.0750);">6</div>
<div class="t" style="left:1405.08px;top:1371.00px;font-size:22px;color:#000;transform:scaleX(1.0750);">10</div>
<div class="t" style="left:1532.44px;top:1371.00px;font-size:22px;color:#000;transform:scaleX(1.0750);">1</div>
<div class="t" style="left:1633.43px;top:1371.00px;font-size:22px;color:#000;transform:scaleX(1.0750);">12</div>
<div class="t" style="left:1709.50px;top:1371.00px;font-size:22px;color:#000;transform:scaleX(1.0750);">0.46</div>
<div class="t" style="left:1846.44px;top:1371.00px;font-size:22px;color:#000;transform:scaleX(1.0750);">0.30</div>
<div class="t" style="left:1996.12px;top:1371.00px;font-size:22px;color:#000;transform:scaleX(1.0750);">0.32</div>
<div class="t" style="left:2158.00px;top:1371.00px;font-size:22px;color:#000;transform:scaleX(1.0750);">0.23</div>
<div class="t" style="left:2319.82px;top:1371.00px;font-size:22px;color:#000;transform:scaleX(1.0750);">6.90</div>
<div class="t" style="left:2482.12px;top:1371.00px;font-size:22px;color:#000;transform:scaleX(1.0750);">0.72</div>
<div class="t" style="left:2643.88px;top:1371.00px;font-size:22px;color:#000;transform:scaleX(1.0750);">6.33</div>
<div class="t" style="left:2805.88px;top:1371.00px;font-size:22px;color:#000;transform:scaleX(1.0750);">0.64</div>
<div class="t" style="left:2955.50px;top:1371.00px;font-size:22px;color:#000;transform:scaleX(1.0750);">81.9</div>
<div class="t" style="left:53.58px;top:1403.00px;font-size:22px;color:#000;transform:scaleX(1.0450);">0x0064</div>
<div class="t" style="left:282.20px;top:1403.00px;font-size:22px;color:#000;transform:scaleX(1.0750);">0</div>
<div class="t" style="left:357.06px;top:1403.00px;font-size:22px;color:#000;transform:scaleX(1.0750);">3037</div>
<div class="t" style="left:475.58px;top:1403.00px;font-size:22px;color:#000;transform:scaleX(1.0750);">1</div>
<div class="t" style="left:577.46px;top:1403.00px;font-size:22px;color:#000;transform:scaleX(1.0750);">8/18/2025 18:45</div>
<div class="t" style="left:848.32px;top:1403.00px;font-size:22px;color:#000;transform:scaleX(1.0750);">3</div>
<div class="t" style="left:962.08px;top:1403.00px;font-size:22px;color:#000;transform:scaleX(1.0750);">4</div>
<div class="t" style="left:1076.32px;top:1403.00px;font-size:22px;color:#000;transform:scaleX(1.0750);">8</div>
<div class="t" style="left:1177.43px;top:1403.00px;font-size:22px;color:#000;transform:scaleX(1.0750);">12</div>
<div class="t" style="left:1291.43px;top:1403.00px;font-size:22px;color:#000;transform:scaleX(1.0750);">12</div>
<div class="t" style="left:1418.32px;top:1403.00px;font-size:22px;color:#000;transform:scaleX(1.0750);">8</div>
<div class="t" style="left:1532.44px;top:1403.00px;font-size:22px;color:#000;transform:scaleX(1.0750);">1</div>
<div class="t" style="left:1646.32px;top:1403.00px;font-size:22px;color:#000;transform:scaleX(1.0750);">8</div>
<div class="t" style="left:1709.56px;top:1403.00px;font-size:22px;color:#000;transform:scaleX(1.0750);">0.41</div>
<div class="t" style="left:1846.56px;top:1403.00px;font-size:22px;color:#000;transform:scaleX(1.0750);">0.41</div>
<div class="t" style="left:1996.95px;top:1403.00px;font-size:22px;color:#000;transform:scaleX(1.0750);">0.11</div>
<div class="t" style="left:2158.00px;top:1403.00px;font-size:22px;color:#000;transform:scaleX(1.0750);">0.25</div>
<div class="t" style="left:2319.94px;top:1403.00px;font-size:22px;color:#000;transform:scaleX(1.0750);">6.89</div>
<div class="t" style="left:2482.00px;top:1403.00px;font-size:22px;color:#000;transform:scaleX(1.0750);">0.73</div>
<div class="t" style="left:2644.00px;top:1403.00px;font-size:22px;color:#000;transform:scaleX(1.0750);">6.37</div>
<div class="t" style="left:2805.94px;top:1403.00px;font-size:22px;color:#000;transform:scaleX(1.0750);">0.60</div>
<div class="t" style="left:2955.50px;top:1403.00px;font-size:22px;color:#000;transform:scaleX(1.0750);">82.1</div>
<div class="t" style="left:53.58px;top:1435.00px;font-size:22px;color:#000;transform:scaleX(1.0450);">0x0064</div>
<div class="t" style="left:282.20px;top:1435.00px;font-size:22px;color:#000;transform:scaleX(1.0750);">0</div>
<div class="t" style="left:357.06px;top:1435.00px;font-size:22px;color:#000;transform:scaleX(1.0750);">2707</div>
<div class="t" style="left:475.58px;top:1435.00px;font-size:22px;color:#000;transform:scaleX(1.0750);">1</div>
<div class="t" style="left:577.34px;top:1435.00px;font-size:22px;color:#000;transform:scaleX(1.0750);">8/18/2025 13:50</div>
<div class="t" style="left:848.32px;top:1435.00px;font-size:22px;color:#000;transform:scaleX(1.0750);">3</div>
<div class="t" style="left:962.56px;top:1435.00px;font-size:22px;color:#000;transform:scaleX(1.0750);">2</div>
<div class="t" style="left:1063.08px;top:1435.00px;font-size:22px;color:#000;transform:scaleX(1.0750);">10</div>
<div class="t" style="left:1177.43px;top:1435.00px;font-size:22px;color:#000;transform:scaleX(1.0750);">12</div>
<div class="t" style="left:1304.32px;top:1435.00px;font-size:22px;color:#000;transform:scaleX(1.0750);">6</div>
<div class="t" style="left:1405.08px;top:1435.00px;font-size:22px;color:#000;transform:scaleX(1.0750);">10</div>
<div class="t" style="left:1532.44px;top:1435.00px;font-size:22px;color:#000;transform:scaleX(1.0750);">1</div>
<div class="t" style="left:1633.43px;top:1435.00px;font-size:22px;color:#000;transform:scaleX(1.0750);">12</div>
<div class="t" style="left:1709.50px;top:1435.00px;font-size:22px;color:#000;transform:scaleX(1.0750);">0.46</div>
<div class="t" style="left:1846.62px;top:1435.00px;font-size:22px;color:#000;transform:scaleX(1.0750);">0.37</div>
<div class="t" style="left:1996.06px;top:1435.00px;font-size:22px;color:#000;transform:scaleX(1.0750);">0.31</div>
<div class="t" style="left:2158.00px;top:1435.00px;font-size:22px;color:#000;transform:scaleX(1.0750);">0.26</div>
<div class="t" style="left:2319.88px;top:1435.00px;font-size:22px;color:#000;transform:scaleX(1.0750);">6.88</div>
<div class="t" style="left:2481.88px;top:1435.00px;font-size:22px;color:#000;transform:scaleX(1.0750);">0.74</div>
<div class="t" style="left:2643.88px;top:1435.00px;font-size:22px;color:#000;transform:scaleX(1.0750);">6.56</div>
<div class="t" style="left:2806.12px;top:1435.00px;font-size:22px;color:#000;transform:scaleX(1.0750);">0.42</div>
<div class="t" style="left:2955.56px;top:1435.00px;font-size:22px;color:#000;transform:scaleX(1.0750);">81.7</div>
<div class="t" style="left:53.58px;top:1467.00px;font-size:22px;color:#000;transform:scaleX(1.0450);">0x0064</div>
<div class="t" style="left:282.20px;top:1467.00px;font-size:22px;color:#000;transform:scaleX(1.0750);">0</div>
<div class="t" style="left:356.94px;top:1467.00px;font-size:22px;color:#000;transform:scaleX(1.0750);">3031</div>
<div class="t" style="left:475.58px;top:1467.00px;font-size:22px;color:#000;transform:scaleX(1.0750);">1</div>
<div class="t" style="left:577.34px;top:1467.00px;font-size:22px;color:#000;transform:scaleX(1.0750);">8/18/2025 18:40</div>
<div class="t" style="left:848.32px;top:1467.00px;font-size:22px;color:#000;transform:scaleX(1.0750);">3</div>
<div class="t" style="left:962.08px;top:1467.00px;font-size:22px;color:#000;transform:scaleX(1.0750);">4</div>
<div class="t" style="left:1076.32px;top:1467.00px;font-size:22px;color:#000;transform:scaleX(1.0750);">8</div>
<div class="t" style="left:1177.43px;top:1467.00px;font-size:22px;color:#000;transform:scaleX(1.0750);">12</div>
<div class="t" style="left:1304.32px;top:1467.00px;font-size:22px;color:#000;transform:scaleX(1.0750);">8</div>
<div class="t" style="left:1405.08px;top:1467.00px;font-size:22px;color:#000;transform:scaleX(1.0750);">10</div>
<div class="t" style="left:1532.44px;top:1467.00px;font-size:22px;color:#000;transform:scaleX(1.0750);">1</div>
<div class="t" style="left:1633.43px;top:1467.00px;font-size:22px;color:#000;transform:scaleX(1.0750);">12</div>
<div class="t" style="left:1709.38px;top:1467.00px;font-size:22px;color:#000;transform:scaleX(1.0750);">0.24</div>
<div class="t" style="left:1846.56px;top:1467.00px;font-size:22px;color:#000;transform:scaleX(1.0750);">0.39</div>
<div class="t" style="left:1996.00px;top:1467.00px;font-size:22px;color:#000;transform:scaleX(1.0750);">0.05</div>
<div class="t" style="left:2157.94px;top:1467.00px;font-size:22px;color:#000;transform:scaleX(1.0750);">0.30</div>
<div class="t" style="left:2320.00px;top:1467.00px;font-size:22px;color:#000;transform:scaleX(1.0750);">6.87</div>
<div class="t" style="left:2482.00px;top:1467.00px;font-size:22px;color:#000;transform:scaleX(1.0750);">0.75</div>
<div class="t" style="left:2643.88px;top:1467.00px;font-size:22px;color:#000;transform:scaleX(1.0750);">6.18</div>
<div class="t" style="left:2805.94px;top:1467.00px;font-size:22px;color:#000;transform:scaleX(1.0750);">0.80</div>
<div class="t" style="left:2955.50px;top:1467.00px;font-size:22px;color:#000;transform:scaleX(1.0750);">82.9</div>
<div class="t" style="left:53.58px;top:1499.00px;font-size:22px;color:#000;transform:scaleX(1.0450);">0x0064</div>
<div class="t" style="left:282.20px;top:1499.00px;font-size:22px;color:#000;transform:scaleX(1.0750);">0</div>
<div class="t" style="left:356.82px;top:1499.00px;font-size:22px;color:#000;transform:scaleX(1.0750);">3586</div>
<div class="t" style="left:475.58px;top:1499.00px;font-size:22px;color:#000;transform:scaleX(1.0750);">1</div>
<div class="t" style="left:590.58px;top:1499.00px;font-size:22px;color:#000;transform:scaleX(1.0750);">8/19/2025 3:10</div>
<div class="t" style="left:848.32px;top:1499.00px;font-size:22px;color:#000;transform:scaleX(1.0750);">3</div>
<div class="t" style="left:962.32px;top:1499.00px;font-size:22px;color:#000;transform:scaleX(1.0750);">6</div>
<div class="t" style="left:1063.43px;top:1499.00px;font-size:22px;color:#000;transform:scaleX(1.0750);">12</div>
<div class="t" style="left:1177.43px;top:1499.00px;font-size:22px;color:#000;transform:scaleX(1.0750);">12</div>
<div class="t" style="left:1304.32px;top:1499.00px;font-size:22px;color:#000;transform:scaleX(1.0750);">6</div>
<div class="t" style="left:1418.44px;top:1499.00px;font-size:22px;color:#000;transform:scaleX(1.0750);">9</div>
<div class="t" style="left:1532.44px;top:1499.00px;font-size:22px;color:#000;transform:scaleX(1.0750);">1</div>
<div class="t" style="left:1633.08px;top:1499.00px;font-size:22px;color:#000;transform:scaleX(1.0750);">10</div>
<div class="t" style="left:1709.62px;top:1499.00px;font-size:22px;color:#000;transform:scaleX(1.0750);">0.42</div>
<div class="t" style="left:1846.62px;top:1499.00px;font-size:22px;color:#000;transform:scaleX(1.0750);">0.27</div>
<div class="t" style="left:1996.12px;top:1499.00px;font-size:22px;color:#000;transform:scaleX(1.0750);">0.32</div>
<div class="t" style="left:2158.00px;top:1499.00px;font-size:22px;color:#000;transform:scaleX(1.0750);">0.25</div>
<div class="t" style="left:2319.88px;top:1499.00px;font-size:22px;color:#000;transform:scaleX(1.0750);">6.85</div>
<div class="t" style="left:2482.12px;top:1499.00px;font-size:22px;color:#000;transform:scaleX(1.0750);">0.77</div>
<div class="t" style="left:2643.88px;top:1499.00px;font-size:22px;color:#000;transform:scaleX(1.0750);">6.06</div>
<div class="t" style="left:2806.06px;top:1499.00px;font-size:22px;color:#000;transform:scaleX(1.0750);">0.91</div>
<div class="t" style="left:2955.38px;top:1499.00px;font-size:22px;color:#000;transform:scaleX(1.0750);">81.0</div>
<div class="t" style="left:53.58px;top:1531.00px;font-size:22px;color:#000;transform:scaleX(1.0450);">0x0064</div>
<div class="t" style="left:282.20px;top:1531.00px;font-size:22px;color:#000;transform:scaleX(1.0750);">0</div>
<div class="t" style="left:356.82px;top:1531.00px;font-size:22px;color:#000;transform:scaleX(1.0750);">4366</div>
<div class="t" style="left:475.58px;top:1531.00px;font-size:22px;color:#000;transform:scaleX(1.0750);">1</div>
<div class="t" style="left:577.46px;top:1531.00px;font-size:22px;color:#000;transform:scaleX(1.0750);">8/19/2025 15:15</div>
<div class="t" style="left:848.32px;top:1531.00px;font-size:22px;color:#000;transform:scaleX(1.0750);">3</div>
<div class="t" style="left:949.08px;top:1531.00px;font-size:22px;color:#000;transform:scaleX(1.0750);">10</div>
<div class="t" style="left:1063.43px;top:1531.00px;font-size:22px;color:#000;transform:scaleX(1.0750);">12</div>
<div class="t" style="left:1177.08px;top:1531.00px;font-size:22px;color:#000;transform:scaleX(1.0750);">10</div>
<div class="t" style="left:1304.32px;top:1531.00px;font-size:22px;color:#000;transform:scaleX(1.0750);">6</div>
<div class="t" style="left:1418.44px;top:1531.00px;font-size:22px;color:#000;transform:scaleX(1.0750);">9</div>
<div class="t" style="left:1532.44px;top:1531.00px;font-size:22px;color:#000;transform:scaleX(1.0750);">1</div>
<div class="t" style="left:1633.08px;top:1531.00px;font-size:22px;color:#000;transform:scaleX(1.0750);">10</div>
<div class="t" style="left:1709.62px;top:1531.00px;font-size:22px;color:#000;transform:scaleX(1.0750);">0.32</div>
<div class="t" style="left:1846.50px;top:1531.00px;font-size:22px;color:#000;transform:scaleX(1.0750);">0.35</div>
<div class="t" style="left:1996.00px;top:1531.00px;font-size:22px;color:#000;transform:scaleX(1.0750);">0.13</div>
<div class="t" style="left:2158.06px;top:1531.00px;font-size:22px;color:#000;transform:scaleX(1.0750);">0.29</div>
<div class="t" style="left:2319.76px;top:1531.00px;font-size:22px;color:#000;transform:scaleX(1.0750);">6.84</div>
<div class="t" style="left:2482.00px;top:1531.00px;font-size:22px;color:#000;transform:scaleX(1.0750);">0.78</div>
<div class="t" style="left:2644.12px;top:1531.00px;font-size:22px;color:#000;transform:scaleX(1.0750);">5.77</div>
<div class="t" style="left:2805.53px;top:1531.00px;font-size:22px;color:#000;transform:scaleX(1.0750);">1.20</div>
<div class="t" style="left:2955.50px;top:1531.00px;font-size:22px;color:#000;transform:scaleX(1.0750);">81.9</div>
<div class="t" style="left:53.58px;top:1563.00px;font-size:22px;color:#000;transform:scaleX(1.0450);">0x0064</div>
<div class="t" style="left:282.20px;top:1563.00px;font-size:22px;color:#000;transform:scaleX(1.0750);">0</div>
<div class="t" style="left:356.82px;top:1563.00px;font-size:22px;color:#000;transform:scaleX(1.0750);">3103</div>
<div class="t" style="left:475.58px;top:1563.00px;font-size:22px;color:#000;transform:scaleX(1.0750);">1</div>
<div class="t" style="left:577.69px;top:1563.00px;font-size:22px;color:#000;transform:scaleX(1.0750);">8/18/2025 19:47</div>
<div class="t" style="left:848.32px;top:1563.00px;font-size:22px;color:#000;transform:scaleX(1.0750);">3</div>
<div class="t" style="left:962.08px;top:1563.00px;font-size:22px;color:#000;transform:scaleX(1.0750);">4</div>
<div class="t" style="left:1063.08px;top:1563.00px;font-size:22px;color:#000;transform:scaleX(1.0750);">10</div>
<div class="t" style="left:1177.43px;top:1563.00px;font-size:22px;color:#000;transform:scaleX(1.0750);">12</div>
<div class="t" style="left:1304.08px;top:1563.00px;font-size:22px;color:#000;transform:scaleX(1.0750);">4</div>
<div class="t" style="left:1405.08px;top:1563.00px;font-size:22px;color:#000;transform:scaleX(1.0750);">10</div>
<div class="t" style="left:1532.44px;top:1563.00px;font-size:22px;color:#000;transform:scaleX(1.0750);">1</div>
<div class="t" style="left:1633.43px;top:1563.00px;font-size:22px;color:#000;transform:scaleX(1.0750);">12</div>
<div class="t" style="left:1709.50px;top:1563.00px;font-size:22px;color:#000;transform:scaleX(1.0750);">0.35</div>
<div class="t" style="left:1846.44px;top:1563.00px;font-size:22px;color:#000;transform:scaleX(1.0750);">0.30</div>
<div class="t" style="left:1996.06px;top:1563.00px;font-size:22px;color:#000;transform:scaleX(1.0750);">0.21</div>
<div class="t" style="left:2158.06px;top:1563.00px;font-size:22px;color:#000;transform:scaleX(1.0750);">0.21</div>
<div class="t" style="left:2320.00px;top:1563.00px;font-size:22px;color:#000;transform:scaleX(1.0750);">6.82</div>
<div class="t" style="left:2482.06px;top:1563.00px;font-size:22px;color:#000;transform:scaleX(1.0750);">0.81</div>
<div class="t" style="left:2643.88px;top:1563.00px;font-size:22px;color:#000;transform:scaleX(1.0750);">6.16</div>
<div class="t" style="left:2806.12px;top:1563.00px;font-size:22px;color:#000;transform:scaleX(1.0750);">0.82</div>
<div class="t" style="left:2955.56px;top:1563.00px;font-size:22px;color:#000;transform:scaleX(1.0750);">80.7</div>
<div class="t" style="left:53.58px;top:1595.00px;font-size:22px;color:#000;transform:scaleX(1.0450);">0x0064</div>
<div class="t" style="left:282.20px;top:1595.00px;font-size:22px;color:#000;transform:scaleX(1.0750);">0</div>
<div class="t" style="left:356.82px;top:1595.00px;font-size:22px;color:#000;transform:scaleX(1.0750);">3506</div>
<div class="t" style="left:475.58px;top:1595.00px;font-size:22px;color:#000;transform:scaleX(1.0750);">1</div>
<div class="t" style="left:590.82px;top:1595.00px;font-size:22px;color:#000;transform:scaleX(1.0750);">8/19/2025 1:59</div>
<div class="t" style="left:848.32px;top:1595.00px;font-size:22px;color:#000;transform:scaleX(1.0750);">3</div>
<div class="t" style="left:962.32px;top:1595.00px;font-size:22px;color:#000;transform:scaleX(1.0750);">6</div>
<div class="t" style="left:1063.08px;top:1595.00px;font-size:22px;color:#000;transform:scaleX(1.0750);">10</div>
<div class="t" style="left:1177.43px;top:1595.00px;font-size:22px;color:#000;transform:scaleX(1.0750);">12</div>
<div class="t" style="left:1304.32px;top:1595.00px;font-size:22px;color:#000;transform:scaleX(1.0750);">6</div>
<div class="t" style="left:1418.44px;top:1595.00px;font-size:22px;color:#000;transform:scaleX(1.0750);">9</div>
<div class="t" style="left:1532.44px;top:1595.00px;font-size:22px;color:#000;transform:scaleX(1.0750);">1</div>
<div class="t" style="left:1633.08px;top:1595.00px;font-size:22px;color:#000;transform:scaleX(1.0750);">10</div>
<div class="t" style="left:1709.50px;top:1595.00px;font-size:22px;color:#000;transform:scaleX(1.0750);">0.33</div>
<div class="t" style="left:1846.50px;top:1595.00px;font-size:22px;color:#000;transform:scaleX(1.0750);">0.28</div>
<div class="t" style="left:1996.00px;top:1595.00px;font-size:22px;color:#000;transform:scaleX(1.0750);">0.18</div>
<div class="t" style="left:2158.00px;top:1595.00px;font-size:22px;color:#000;transform:scaleX(1.0750);">0.23</div>
<div class="t" style="left:2319.94px;top:1595.00px;font-size:22px;color:#000;transform:scaleX(1.0750);">6.81</div>
<div class="t" style="left:2482.06px;top:1595.00px;font-size:22px;color:#000;transform:scaleX(1.0750);">0.81</div>
<div class="t" style="left:2643.88px;top:1595.00px;font-size:22px;color:#000;transform:scaleX(1.0750);">6.18</div>
<div class="t" style="left:2805.94px;top:1595.00px;font-size:22px;color:#000;transform:scaleX(1.0750);">0.80</div>
<div class="t" style="left:2955.50px;top:1595.00px;font-size:22px;color:#000;transform:scaleX(1.0750);">80.9</div>
<div class="t" style="left:53.58px;top:1627.00px;font-size:22px;color:#000;transform:scaleX(1.0450);">0x0064</div>
<div class="t" style="left:282.20px;top:1627.00px;font-size:22px;color:#000;transform:scaleX(1.0750);">0</div>
<div class="t" style="left:356.71px;top:1627.00px;font-size:22px;color:#000;transform:scaleX(1.0750);">4390</div>
<div class="t" style="left:475.58px;top:1627.00px;font-size:22px;color:#000;transform:scaleX(1.0750);">1</div>
<div class="t" style="left:577.46px;top:1627.00px;font-size:22px;color:#000;transform:scaleX(1.0750);">8/19/2025 15:33</div>
<div class="t" style="left:848.32px;top:1627.00px;font-size:22px;color:#000;transform:scaleX(1.0750);">3</div>
<div class="t" style="left:949.08px;top:1627.00px;font-size:22px;color:#000;transform:scaleX(1.0750);">10</div>
<div class="t" style="left:1063.43px;top:1627.00px;font-size:22px;color:#000;transform:scaleX(1.0750);">12</div>
<div class="t" style="left:1177.43px;top:1627.00px;font-size:22px;color:#000;transform:scaleX(1.0750);">12</div>
<div class="t" style="left:1304.32px;top:1627.00px;font-size:22px;color:#000;transform:scaleX(1.0750);">8</div>
<div class="t" style="left:1418.44px;top:1627.00px;font-size:22px;color:#000;transform:scaleX(1.0750);">9</div>
<div class="t" style="left:1532.44px;top:1627.00px;font-size:22px;color:#000;transform:scaleX(1.0750);">1</div>
<div class="t" style="left:1633.08px;top:1627.00px;font-size:22px;color:#000;transform:scaleX(1.0750);">10</div>
<div class="t" style="left:1709.62px;top:1627.00px;font-size:22px;color:#000;transform:scaleX(1.0750);">0.32</div>
<div class="t" style="left:1846.62px;top:1627.00px;font-size:22px;color:#000;transform:scaleX(1.0750);">0.27</div>
<div class="t" style="left:1996.00px;top:1627.00px;font-size:22px;color:#000;transform:scaleX(1.0750);">0.13</div>
<div class="t" style="left:2158.00px;top:1627.00px;font-size:22px;color:#000;transform:scaleX(1.0750);">0.25</div>
<div class="t" style="left:2319.82px;top:1627.00px;font-size:22px;color:#000;transform:scaleX(1.0750);">6.80</div>
<div class="t" style="left:2482.12px;top:1627.00px;font-size:22px;color:#000;transform:scaleX(1.0750);">0.82</div>
<div class="t" style="left:2644.00px;top:1627.00px;font-size:22px;color:#000;transform:scaleX(1.0750);">5.35</div>
<div class="t" style="left:2805.70px;top:1627.00px;font-size:22px;color:#000;transform:scaleX(1.0750);">1.62</div>
<div class="t" style="left:2955.38px;top:1627.00px;font-size:22px;color:#000;transform:scaleX(1.0750);">84.0</div>
<div class="t" style="left:53.58px;top:1659.00px;font-size:22px;color:#000;transform:scaleX(1.0450);">0x0064</div>
<div class="t" style="left:282.20px;top:1659.00px;font-size:22px;color:#000;transform:scaleX(1.0750);">0</div>
<div class="t" style="left:356.82px;top:1659.00px;font-size:22px;color:#000;transform:scaleX(1.0750);">2703</div>
<div class="t" style="left:475.58px;top:1659.00px;font-size:22px;color:#000;transform:scaleX(1.0750);">1</div>
<div class="t" style="left:577.46px;top:1659.00px;font-size:22px;color:#000;transform:scaleX(1.0750);">8/18/2025 13:46</div>
<div class="t" style="left:848.32px;top:1659.00px;font-size:22px;color:#000;transform:scaleX(1.0750);">3</div>
<div class="t" style="left:962.56px;top:1659.00px;font-size:22px;color:#000;transform:scaleX(1.0750);">2</div>
<div class="t" style="left:1063.08px;top:1659.00px;font-size:22px;color:#000;transform:scaleX(1.0750);">10</div>
<div class="t" style="left:1177.43px;top:1659.00px;font-size:22px;color:#000;transform:scaleX(1.0750);">12</div>
<div class="t" style="left:1304.08px;top:1659.00px;font-size:22px;color:#000;transform:scaleX(1.0750);">4</div>
<div class="t" style="left:1405.08px;top:1659.00px;font-size:22px;color:#000;transform:scaleX(1.0750);">10</div>
<div class="t" style="left:1532.44px;top:1659.00px;font-size:22px;color:#000;transform:scaleX(1.0750);">1</div>
<div class="t" style="left:1633.43px;top:1659.00px;font-size:22px;color:#000;transform:scaleX(1.0750);">12</div>
<div class="t" style="left:1709.50px;top:1659.00px;font-size:22px;color:#000;transform:scaleX(1.0750);">0.25</div>
<div class="t" style="left:1846.38px;top:1659.00px;font-size:22px;color:#000;transform:scaleX(1.0750);">0.34</div>
<div class="t" style="left:1996.00px;top:1659.00px;font-size:22px;color:#000;transform:scaleX(1.0750);">0.08</div>
<div class="t" style="left:2158.06px;top:1659.00px;font-size:22px;color:#000;transform:scaleX(1.0750);">0.21</div>
<div class="t" style="left:2319.82px;top:1659.00px;font-size:22px;color:#000;transform:scaleX(1.0750);">6.80</div>
<div class="t" style="left:2482.12px;top:1659.00px;font-size:22px;color:#000;transform:scaleX(1.0750);">0.82</div>
<div class="t" style="left:2643.94px;top:1659.00px;font-size:22px;color:#000;transform:scaleX(1.0750);">6.09</div>
<div class="t" style="left:2806.00px;top:1659.00px;font-size:22px;color:#000;transform:scaleX(1.0750);">0.88</div>
<div class="t" style="left:2955.32px;top:1659.00px;font-size:22px;color:#000;transform:scaleX(1.0750);">80.4</div>
<div class="t" style="left:53.58px;top:1691.00px;font-size:22px;color:#000;transform:scaleX(1.0450);">0x0064</div>
<div class="t" style="left:282.20px;top:1691.00px;font-size:22px;color:#000;transform:scaleX(1.0750);">0</div>
<div class="t" style="left:356.59px;top:1691.00px;font-size:22px;color:#000;transform:scaleX(1.0750);">3994</div>
<div class="t" style="left:475.58px;top:1691.00px;font-size:22px;color:#000;transform:scaleX(1.0750);">1</div>
<div class="t" style="left:590.70px;top:1691.00px;font-size:22px;color:#000;transform:scaleX(1.0750);">8/19/2025 9:16</div>
<div class="t" style="left:848.32px;top:1691.00px;font-size:22px;color:#000;transform:scaleX(1.0750);">3</div>
<div class="t" style="left:962.32px;top:1691.00px;font-size:22px;color:#000;transform:scaleX(1.0750);">8</div>
<div class="t" style="left:1063.43px;top:1691.00px;font-size:22px;color:#000;transform:scaleX(1.0750);">12</div>
<div class="t" style="left:1177.43px;top:1691.00px;font-size:22px;color:#000;transform:scaleX(1.0750);">12</div>
<div class="t" style="left:1291.08px;top:1691.00px;font-size:22px;color:#000;transform:scaleX(1.0750);">10</div>
<div class="t" style="left:1418.44px;top:1691.00px;font-size:22px;color:#000;transform:scaleX(1.0750);">9</div>
<div class="t" style="left:1532.44px;top:1691.00px;font-size:22px;color:#000;transform:scaleX(1.0750);">1</div>
<div class="t" style="left:1633.08px;top:1691.00px;font-size:22px;color:#000;transform:scaleX(1.0750);">10</div>
<div class="t" style="left:1709.56px;top:1691.00px;font-size:22px;color:#000;transform:scaleX(1.0750);">0.31</div>
<div class="t" style="left:1846.50px;top:1691.00px;font-size:22px;color:#000;transform:scaleX(1.0750);">0.33</div>
<div class="t" style="left:1996.12px;top:1691.00px;font-size:22px;color:#000;transform:scaleX(1.0750);">0.17</div>
<div class="t" style="left:2157.94px;top:1691.00px;font-size:22px;color:#000;transform:scaleX(1.0750);">0.30</div>
<div class="t" style="left:2319.88px;top:1691.00px;font-size:22px;color:#000;transform:scaleX(1.0750);">6.78</div>
<div class="t" style="left:2481.88px;top:1691.00px;font-size:22px;color:#000;transform:scaleX(1.0750);">0.84</div>
<div class="t" style="left:2643.88px;top:1691.00px;font-size:22px;color:#000;transform:scaleX(1.0750);">6.23</div>
<div class="t" style="left:2806.00px;top:1691.00px;font-size:22px;color:#000;transform:scaleX(1.0750);">0.75</div>
<div class="t" style="left:2955.50px;top:1691.00px;font-size:22px;color:#000;transform:scaleX(1.0750);">83.9</div>
<div class="r" style="left:47px;top:462px;width:141px;height:3px;background:#107c41;"></div>
<div class="r" style="left:47px;top:495px;width:136px;height:3px;background:#107c41;"></div>
<div class="r" style="left:47px;top:462px;width:3px;height:36px;background:#107c41;"></div>
<div class="r" style="left:185px;top:462px;width:3px;height:29px;background:#107c41;"></div>
<div class="r" style="left:181px;top:491px;width:10px;height:10px;background:#107c41;border:1px solid #fff;box-sizing:border-box;"></div>
<div class="r" style="left:3300px;top:432px;width:38px;height:1292px;background:#e6e9ee;"></div>
<div class="r" style="left:3303px;top:432px;width:33px;height:1291px;background:#f3f3f3;border-radius:17px;"></div>
<svg class="s" style="left:3310px;top:1699px" width="20" height="16" viewBox="0 0 20 16" fill="none"><path d="M10 15 L19 3 Q19 1 17 1 L3 1 Q1 1 1 3 Z" fill="#707070"/></svg>
<svg class="s" style="left:3310px;top:441px" width="20" height="16" viewBox="0 0 20 16" fill="none"><path d="M10 1 L19 13 Q19 15 17 15 L3 15 Q1 15 1 13 Z" fill="#707070"/></svg>
<div class="r" style="left:3312px;top:466px;width:16px;height:108px;background:#707070;border-radius:8px;"></div>
<svg class="s" style="left:34px;top:34px" width="32" height="32" viewBox="0 0 32 32" fill="none">
      <rect x="8" y="0" width="24" height="32" rx="2" fill="#21a366"/>
      <rect x="20" y="0" width="12" height="8" fill="#33c481"/>
      <rect x="20" y="8" width="12" height="8" fill="#21a366"/>
      <rect x="20" y="16" width="12" height="8" fill="#107c41"/>
      <rect x="8" y="24" width="24" height="8" rx="1" fill="#185c37"/>
      <rect x="8" y="16" width="12" height="8" fill="#107c41"/>
      <rect x="0" y="6" width="20" height="20" rx="2" fill="#107c41"/>
      <path d="M5.5 10.5 L8.2 10.5 L10 14.2 L11.8 10.5 L14.5 10.5 L11.4 16 L14.6 21.5 L11.9 21.5 L10 17.7 L8.1 21.5 L5.4 21.5 L8.6 16 Z" fill="#fff"/></svg>
<div class="t" style="left:98.20px;top:41.00px;font-size:21.7px;color:#242424;transform:scaleX(0.9646);">AutoSave</div>
<div class="r" style="left:201px;top:30px;width:93px;height:40px;background:#ffffff;border:2.5px solid #5c5c5c;border-radius:20px;"></div>
<div class="r" style="left:208px;top:36px;width:28px;height:28px;background:#5f5f5f;border-radius:50%;"></div>
<div class="t" style="left:247.98px;top:41.00px;font-size:21.7px;color:#5c5c5c;transform:scaleX(1.0482);">Off</div>
<svg class="s" style="left:320px;top:35px" width="32" height="32" viewBox="0 0 32 32" fill="none"><rect x="1" y="1" width="30" height="30" fill="#dca0e6" stroke="#9b2aad" stroke-width="2"/>
      <rect x="7" y="1" width="18" height="11" fill="#fafafa" stroke="#9b2aad" stroke-width="2"/></svg>
<svg class="s" style="left:378px;top:33px" width="34" height="20" viewBox="0 0 34 20" fill="none"><path d="M2.6 15 L6.4 8.4 A12 12 0 0 1 28.6 17.1" stroke="#303030" stroke-width="2.2" fill="none"/><path d="M2.4 2.2 V15.3 H15.7" stroke="#303030" stroke-width="2.2" fill="none"/></svg>
<svg class="s" style="left:422px;top:45px" width="12" height="7" viewBox="0 0 12 7" fill="none"><path d="M0.8 0.8 L6.0 6.2 L11.2 0.8" stroke="#303030" stroke-width="2" stroke-linecap="round" stroke-linejoin="round"/></svg>
<svg class="s" style="left:456px;top:33px" width="34" height="36" viewBox="0 0 34 36" fill="none"><path d="M28.5 14.5 L26.3 9.9 A12 12 0 1 0 5.8 21.7 L18.7 32.8" stroke="#8f8f8f" stroke-width="2.2" fill="none"/><path d="M29.2 2.2 V15.3 H16.4" stroke="#8f8f8f" stroke-width="2.2" fill="none"/></svg>
<svg class="s" style="left:500px;top:45px" width="12" height="7" viewBox="0 0 12 7" fill="none"><path d="M0.8 0.8 L6.0 6.2 L11.2 0.8" stroke="#b0b0b0" stroke-width="2" stroke-linecap="round" stroke-linejoin="round"/></svg>
<svg class="s" style="left:541px;top:43px" width="16" height="15" viewBox="0 0 16 15" fill="none"><path d="M1 3 L15 3" stroke="#303030" stroke-width="2"/><path d="M2.5 8 L8 13.5 L13.5 8" stroke="#303030" stroke-width="2" fill="none"/></svg>
<div class="r" style="left:181px;top:50px;width:30px;height:36px;background:#505050;"></div>
<div class="t" style="left:189.54px;top:58.00px;font-size:24px;color:#ffffff;transform:scaleX(0.9200);">1</div>
<div class="r" style="left:321px;top:50px;width:30px;height:36px;background:#505050;"></div>
<div class="t" style="left:329.87px;top:58.00px;font-size:24px;color:#ffffff;transform:scaleX(0.9200);">2</div>
<div class="r" style="left:389px;top:50px;width:30px;height:36px;background:#505050;"></div>
<div class="t" style="left:397.87px;top:58.00px;font-size:24px;color:#ffffff;transform:scaleX(0.9200);">3</div>
<div class="r" style="left:467px;top:50px;width:30px;height:36px;background:#a0a0a0;"></div>
<div class="t" style="left:475.98px;top:58.00px;font-size:24px;color:#e8e8e8;transform:scaleX(0.9200);">4</div>
<div class="r" style="left:565px;top:32px;width:30px;height:36px;background:#505050;"></div>
<div class="t" style="left:572.33px;top:40.00px;font-size:24px;color:#ffffff;transform:scaleX(0.9200);">B</div>
<div class="t" style="left:607.74px;top:40.00px;font-size:24px;color:#242424;transform:scaleX(0.9818);">Summary Gain Distortion GC2244A0 ID0x0064 GainTrim_Opt_Loop_10MHz_50MHz report Analysis 2025-08-17 to 08-22...</div>
<svg class="s" style="left:1908px;top:45px" width="22" height="12" viewBox="0 0 22 12" fill="none"><path d="M0.8 0.8 L11.0 11.2 L21.2 0.8" stroke="#303030" stroke-width="2.2" stroke-linecap="round" stroke-linejoin="round"/></svg>
<div class="r" style="left:1997px;top:19px;width:733px;height:62px;background:#fafafa;border:1.5px solid #d2d2d2;border-radius:10px;box-shadow:0 1px 2px rgba(0,0,0,.10);"></div>
<svg class="s" style="left:2023px;top:35px" width="30" height="30" viewBox="0 0 30 30" fill="none"><circle cx="19" cy="11" r="8.5" stroke="#555" stroke-width="2"/><path d="M13 17 L2 28" stroke="#555" stroke-width="2.2" stroke-linecap="round"/></svg>
<div class="t" style="left:2078.37px;top:40.00px;font-size:24px;color:#616161;transform:scaleX(1.0434);">Search</div>
<div class="r" style="left:2363px;top:50px;width:31px;height:36px;background:#505050;"></div>
<div class="t" style="left:2369.94px;top:58.00px;font-size:24px;color:#ffffff;transform:scaleX(0.9200);">Q</div>
<div class="r" style="left:2979px;top:26px;width:48px;height:48px;background:#a4262c;border-radius:50%;"></div>
<div class="t" style="left:2986.21px;top:42.00px;font-size:19px;color:#ffffff;transform:scaleX(1.1793);">PS</div>
<div class="r" style="left:3001px;top:50px;width:39px;height:36px;background:#505050;"></div>
<div class="t" style="left:3006.64px;top:58.00px;font-size:24px;color:#ffffff;transform:scaleX(0.9200);">ZP</div>
<div class="r" style="left:3089px;top:48px;width:20px;height:2px;background:#303030;"></div>
<div class="r" style="left:3185px;top:40px;width:20px;height:20px;background:transparent;border:2px solid #303030;border-radius:3px;"></div>
<svg class="s" style="left:3281px;top:40px" width="21" height="21" viewBox="0 0 21 21" fill="none"><path d="M1 1 L20 20 M20 1 L1 20" stroke="#303030" stroke-width="2"/></svg>
<div class="t" style="left:43.94px;top:117.00px;font-size:26.8px;color:#242424;transform:scaleX(0.9598);">File</div>
<div class="t" style="left:249.94px;top:117.00px;font-size:26.8px;color:#242424;transform:scaleX(0.9790);">Insert</div>
<div class="t" style="left:356.00px;top:117.00px;font-size:26.8px;color:#242424;transform:scaleX(0.9796);">Draw</div>
<div class="t" style="left:458.93px;top:117.00px;font-size:26.8px;color:#242424;transform:scaleX(0.9662);">Page Layout</div>
<div class="t" style="left:645.79px;top:117.00px;font-size:26.8px;color:#242424;transform:scaleX(0.9828);">Formulas</div>
<div class="t" style="left:795.32px;top:117.00px;font-size:26.8px;color:#242424;transform:scaleX(0.9724);">Data</div>
<div class="t" style="left:890.98px;top:117.00px;font-size:26.8px;color:#242424;transform:scaleX(0.9445);">Review</div>
<div class="t" style="left:1014.57px;top:117.00px;font-size:26.8px;color:#242424;transform:scaleX(0.9794);">View</div>
<div class="t" style="left:1112.70px;top:117.00px;font-size:26.8px;color:#242424;transform:scaleX(1.0176);">Automate</div>
<div class="t" style="left:1268.76px;top:117.00px;font-size:26.8px;color:#242424;transform:scaleX(1.0471);">Help</div>
<div class="t" style="left:1367.60px;top:117.00px;font-size:26.8px;color:#242424;transform:scaleX(0.9957);">Acrobat</div>
<div class="t" style="left:135.75px;top:117.00px;font-size:26.8px;color:#242424;font-weight:bold;transform:scaleX(1.0043);">Home</div>
<div class="r" style="left:135px;top:148px;width:77px;height:4px;background:#107c41;border-radius:2px;"></div>
<div class="r" style="left:2974px;top:105px;width:182px;height:47px;background:#ffffff;border:2px solid #8a8a8a;border-radius:10px;"></div>
<svg class="s" style="left:2985px;top:117px" width="22" height="23" viewBox="0 0 22 23" fill="none"><path d="M1.5 1.5 H20 V15 H8 L3 21 V15 H1.5 Z" stroke="#303030" stroke-width="2" stroke-linejoin="round"/></svg>
<div class="t" style="left:3014.67px;top:116.00px;font-size:26px;color:#242424;transform:scaleX(1.0202);">Comments</div>
<div class="r" style="left:3173px;top:104px;width:142px;height:48px;background:#107c41;border-radius:10px;"></div>
<svg class="s" style="left:3182px;top:116px" width="26" height="25" viewBox="0 0 26 25" fill="none"><path d="M10 4 H2 V23 H22 V16" stroke="#fff" stroke-width="2" fill="none"/><path d="M7 17 C8 10 13 8 19 8 M15 3 L21 8 L15 13" stroke="#fff" stroke-width="2" fill="none" stroke-linejoin="round"/></svg>
<div class="t" style="left:3213.85px;top:116.00px;font-size:26px;color:#ffffff;transform:scaleX(0.9858);">Share</div>
<svg class="s" style="left:3294px;top:124px" width="12" height="7" viewBox="0 0 12 7" fill="none"><path d="M0.8 0.8 L6.0 6.2 L11.2 0.8" stroke="#ffffff" stroke-width="2.2" stroke-linecap="round" stroke-linejoin="round"/></svg>
<div class="r" style="left:18px;top:158px;width:3305px;height:200px;background:#ffffff;border-radius:20px;box-shadow:0 3px 9px rgba(30,40,55,0.28);"></div>
<svg class="s" style="left:60px;top:174px" width="60" height="64" viewBox="0 0 60 64" fill="none">
      <rect x="3" y="11" width="40" height="46" fill="#fbe3a6" stroke="#d9731b" stroke-width="2"/>
      <rect x="8" y="15" width="30" height="40" fill="#fafafa"/>
      <path d="M11 17.5 V9.5 H16.5 A6.8 6.8 0 0 1 30 9.5 H35.5 V17.5 Z" fill="#fafafa" stroke="#7a7a7a" stroke-width="2" stroke-linejoin="round"/>
      <rect x="29" y="27" width="26" height="34" fill="#fafafa" stroke="#303030" stroke-width="2.2"/></svg>
<div class="t" style="left:55.26px;top:247.00px;font-size:24px;color:#242424;transform:scaleX(0.9088);">Paste</div>
<svg class="s" style="left:78px;top:287px" width="11" height="7" viewBox="0 0 11 7" fill="none"><path d="M0.8 0.8 L5.5 6.2 L10.2 0.8" stroke="#303030" stroke-width="1.8" stroke-linecap="round" stroke-linejoin="round"/></svg>
<svg class="s" style="left:142px;top:172px" width="24" height="36" viewBox="0 0 24 36" fill="none"><path d="M6.2 2.6 L17.4 26 M17.4 3.6 L6.2 26" stroke="#303030" stroke-width="1.5"/>
      <circle cx="6.2" cy="30.2" r="3.4" fill="#fff" stroke="#1e88d6" stroke-width="2"/><circle cx="17.9" cy="30.2" r="3.4" fill="#fff" stroke="#1e88d6" stroke-width="2"/></svg>
<svg class="s" style="left:136px;top:224px" width="36" height="36" viewBox="0 0 36 36" fill="none"><path d="M15 29.7 H2.2 V2.4 H14.5 L17.8 5.8" stroke="#303030" stroke-width="2" fill="#fafafa"/>
      <path d="M14.3 8.4 H25 L34 16.5 V33.4 H14.3 Z" fill="#fafafa" stroke="#303030" stroke-width="2" stroke-linejoin="round"/>
      <path d="M25 8.4 V16.5 H34" stroke="#303030" stroke-width="2" fill="none"/><path d="M20 23.3 H28 M20 27 H28" stroke="#5a5a5a" stroke-width="1.6"/></svg>
<svg class="s" style="left:197px;top:239px" width="11" height="7" viewBox="0 0 11 7" fill="none"><path d="M0.8 0.8 L5.5 6.2 L10.2 0.8" stroke="#303030" stroke-width="1.8" stroke-linecap="round" stroke-linejoin="round"/></svg>
<svg class="s" style="left:136px;top:276px" width="34" height="34" viewBox="0 0 34 34" fill="none"><path d="M15.5 13 L25.5 23 L16.5 31.3 L2.7 15.6 Q9 12.6 15.5 13 Z" fill="#fafafa" stroke="#d9731b" stroke-width="2" stroke-linejoin="round"/>
      <path d="M9 24 L16.5 31.3 L21.5 26.7 L12.5 21.5 Z" fill="#fbe3a6"/>
      <path d="M9 24 L21.5 26.7" stroke="#d9731b" stroke-width="1.8"/>
      <path d="M14.5 12.5 L19 8 L29 18 L24.5 22.5 Z" fill="#fafafa" stroke="#303030" stroke-width="2" stroke-linejoin="round"/>
      <path d="M22 13 L31.5 3.5" stroke="#303030" stroke-width="5.5" stroke-linecap="round"/>
      <path d="M22.5 12.5 L31.5 3.5" stroke="#fafafa" stroke-width="1.8" stroke-linecap="round"/></svg>
<div class="t" style="left:72.75px;top:327.00px;font-size:21.2px;color:#242424;transform:scaleX(0.9876);">Clipboard</div>
<svg class="s" style="left:218px;top:331px" width="17" height="16" viewBox="0 0 17 16" fill="none"><path d="M1 9.5 V1 H13.5" stroke="#303030" stroke-width="1.8" fill="none"/><path d="M4.5 4.5 L14.5 14.5 M8 14.5 H15 V8" stroke="#303030" stroke-width="1.8" fill="none"/></svg>
<div class="r" style="left:240px;top:168px;width:2px;height:178px;background:#c6c6c6;"></div>
<div class="r" style="left:259px;top:183px;width:240px;height:46px;background:#ffffff;border:1.6px solid #8a8a8a;border-radius:9px;"></div>
<div class="t" style="left:263.60px;top:196.00px;font-size:22.5px;color:#242424;transform:scaleX(0.9710);">Aptos Narrow</div>
<svg class="s" style="left:482px;top:204px" width="11" height="7" viewBox="0 0 11 7" fill="none"><path d="M0.8 0.8 L5.5 6.2 L10.2 0.8" stroke="#303030" stroke-width="1.8" stroke-linecap="round" stroke-linejoin="round"/></svg>
<div class="r" style="left:505px;top:183px;width:88px;height:46px;background:#ffffff;border:1.6px solid #8a8a8a;border-radius:9px;"></div>
<div class="t" style="left:509.05px;top:196.00px;font-size:22.5px;color:#242424;transform:scaleX(0.9763);">11</div>
<svg class="s" style="left:575px;top:204px" width="11" height="7" viewBox="0 0 11 7" fill="none"><path d="M0.8 0.8 L5.5 6.2 L10.2 0.8" stroke="#303030" stroke-width="1.8" stroke-linecap="round" stroke-linejoin="round"/></svg>
<div class="t" style="left:608.00px;top:186.00px;font-size:35px;color:#303030;transform:scaleX(0.9237);">A</div>
<svg class="s" style="left:628px;top:191px" width="11" height="7" viewBox="0 0 11 7" fill="none"><path d="M1 6 L5.5 1 L10 6" stroke="#1e88d6" stroke-width="2"/></svg>
<div class="t" style="left:663.00px;top:194.00px;font-size:26px;color:#303030;transform:scaleX(0.9832);">A</div>
<svg class="s" style="left:680px;top:191px" width="11" height="7" viewBox="0 0 11 7" fill="none"><path d="M1 1 L5.5 6 L10 1" stroke="#1e88d6" stroke-width="2"/></svg>
<div class="t" style="left:274.07px;top:255.00px;font-size:28px;color:#303030;font-weight:bold;transform:scaleX(0.8431);">B</div>
<div class="t" style="left:327.77px;top:255.00px;font-size:28px;color:#303030;font-style:italic;font-family:'Liberation Serif',serif;transform:scaleX(1.1810);">I</div>
<div class="t" style="left:373.63px;top:256.00px;font-size:27px;color:#303030;transform:scaleX(1.1696);">U</div>
<div class="r" style="left:376px;top:280px;width:18px;height:2px;background:#303030;"></div>
<svg class="s" style="left:418px;top:267px" width="11" height="7" viewBox="0 0 11 7" fill="none"><path d="M0.8 0.8 L5.5 6.2 L10.2 0.8" stroke="#303030" stroke-width="1.8" stroke-linecap="round" stroke-linejoin="round"/></svg>
<div class="r" style="left:444px;top:246px;width:2px;height:47px;background:#c6c6c6;"></div>
<svg class="s" style="left:457px;top:253px" width="32" height="32" viewBox="0 0 32 32" fill="none"><path d="M2 2 H31 M2 14.8 H31 M2 26.5 H31" stroke="#202020" stroke-width="1.7" stroke-dasharray="1.7 2.1"/>
      <path d="M2 2 V27 M16.5 2 V27 M31 2 V27" stroke="#202020" stroke-width="1.7" stroke-dasharray="1.7 2.1"/>
      <path d="M1 29.9 H31.8" stroke="#111" stroke-width="2.2"/></svg>
<svg class="s" style="left:506px;top:267px" width="12" height="7" viewBox="0 0 12 7" fill="none"><path d="M0.8 0.8 L6.0 6.2 L11.2 0.8" stroke="#303030" stroke-width="1.8" stroke-linecap="round" stroke-linejoin="round"/></svg>
<div class="r" style="left:532px;top:246px;width:2px;height:47px;background:#c6c6c6;"></div>
<svg class="s" style="left:546px;top:252px" width="32" height="34" viewBox="0 0 32 34" fill="none"><path d="M25.3 12.9 L16.1 4.2 L5 15.8 L14.2 24.5 Z" fill="#fafafa" stroke="none"/>
      <path d="M16.1 4.6 L5 15.8 L14.2 24.5 L25.3 12.9" fill="none" stroke="#303030" stroke-width="2.2" stroke-linejoin="round"/>
      <path d="M14.6 6.5 V4 A2.4 2.4 0 0 1 19.4 4 V13.4" fill="none" stroke="#303030" stroke-width="2"/>
      <path d="M22.4 10 Q28.9 9.5 28.6 16 L27.7 22.5 Q26.2 16.5 22.2 12.3 Z" fill="#0f6cbd"/>
      <rect x="0" y="26" width="32" height="8" fill="#d9f2d0"/></svg>
<svg class="s" style="left:594px;top:267px" width="12" height="7" viewBox="0 0 12 7" fill="none"><path d="M0.8 0.8 L6.0 6.2 L11.2 0.8" stroke="#303030" stroke-width="1.8" stroke-linecap="round" stroke-linejoin="round"/></svg>
<div class="t" style="left:635.40px;top:250.00px;font-size:31.5px;color:#303030;transform:scaleX(0.8545);">A</div>
<div class="r" style="left:628px;top:278px;width:32px;height:8px;background:#ff0000;"></div>
<svg class="s" style="left:676px;top:267px" width="12" height="7" viewBox="0 0 12 7" fill="none"><path d="M0.8 0.8 L6.0 6.2 L11.2 0.8" stroke="#303030" stroke-width="1.8" stroke-linecap="round" stroke-linejoin="round"/></svg>
<div class="t" style="left:440.87px;top:327.00px;font-size:21.2px;color:#242424;transform:scaleX(0.9582);">Font</div>
<svg class="s" style="left:690.6px;top:331px" width="17" height="16" viewBox="0 0 17 16" fill="none"><path d="M1 9.5 V1 H13.5" stroke="#303030" stroke-width="1.8" fill="none"/><path d="M4.5 4.5 L14.5 14.5 M8 14.5 H15 V8" stroke="#303030" stroke-width="1.8" fill="none"/></svg>
<div class="r" style="left:712px;top:168px;width:2px;height:178px;background:#c6c6c6;"></div>
<svg class="s" style="left:740px;top:186px" width="28" height="24" viewBox="0 0 28 24" fill="none"><path d="M0.0 5 H28.0" stroke="#303030" stroke-width="2"/><path d="M4.0 13 H24.0" stroke="#303030" stroke-width="2"/><path d="M0.0 21 H28.0" stroke="#303030" stroke-width="2"/></svg>
<svg class="s" style="left:792px;top:192px" width="28" height="24" viewBox="0 0 28 24" fill="none"><path d="M0.0 5 H28.0" stroke="#303030" stroke-width="2"/><path d="M4.0 13 H24.0" stroke="#303030" stroke-width="2"/><path d="M0.0 21 H28.0" stroke="#303030" stroke-width="2"/></svg>
<div class="r" style="left:835px;top:183px;width:47px;height:47px;background:#ebebeb;border:2px solid #5e5e5e;border-radius:10px;"></div>
<svg class="s" style="left:844px;top:200px" width="28" height="24" viewBox="0 0 28 24" fill="none"><path d="M0.0 5 H28.0" stroke="#303030" stroke-width="2"/><path d="M4.0 13 H24.0" stroke="#303030" stroke-width="2"/><path d="M0.0 21 H28.0" stroke="#303030" stroke-width="2"/></svg>
<svg class="s" style="left:896px;top:186px" width="40" height="36" viewBox="0 0 40 36" fill="none"><text x="0" y="0" font-family="Liberation Sans" font-size="22" fill="#303030" transform="translate(9.5 26.5) rotate(-45)">ab</text><path d="M14 33 L35 12 M27 11.5 H35.5 V20" stroke="#1e88d6" stroke-width="2"/></svg>
<svg class="s" style="left:944px;top:203px" width="12" height="7" viewBox="0 0 12 7" fill="none"><path d="M0.8 0.8 L6.0 6.2 L11.2 0.8" stroke="#303030" stroke-width="1.8" stroke-linecap="round" stroke-linejoin="round"/></svg>
<div class="r" style="left:886px;top:182px;width:2px;height:47px;background:#c6c6c6;"></div>
<svg class="s" style="left:740px;top:254px" width="28" height="30" viewBox="0 0 28 30" fill="none"><path d="M0 3 H28" stroke="#303030" stroke-width="2"/><path d="M0 11 H20" stroke="#303030" stroke-width="2"/><path d="M0 19 H28" stroke="#303030" stroke-width="2"/><path d="M0 27 H20" stroke="#303030" stroke-width="2"/></svg>
<svg class="s" style="left:792px;top:254px" width="28" height="30" viewBox="0 0 28 30" fill="none"><path d="M0.0 3 H28.0" stroke="#303030" stroke-width="2"/><path d="M4.0 11 H24.0" stroke="#303030" stroke-width="2"/><path d="M0.0 19 H28.0" stroke="#303030" stroke-width="2"/><path d="M4.0 27 H24.0" stroke="#303030" stroke-width="2"/></svg>
<svg class="s" style="left:844px;top:254px" width="28" height="30" viewBox="0 0 28 30" fill="none"><path d="M0 3 H28" stroke="#303030" stroke-width="2"/><path d="M8 11 H28" stroke="#303030" stroke-width="2"/><path d="M0 19 H28" stroke="#303030" stroke-width="2"/><path d="M8 27 H28" stroke="#303030" stroke-width="2"/></svg>
<div class="r" style="left:886px;top:246px;width:2px;height:47px;background:#c6c6c6;"></div>
<svg class="s" style="left:902px;top:254px" width="28" height="30" viewBox="0 0 28 30" fill="none"><path d="M0 3 H28" stroke="#303030" stroke-width="2"/><path d="M16 11 H28" stroke="#303030" stroke-width="2"/><path d="M16 19 H28" stroke="#303030" stroke-width="2"/><path d="M0 27 H28" stroke="#303030" stroke-width="2"/><path d="M12 15 H1.5 M6 10.5 L1.5 15 L6 19.5" stroke="#1e88d6" stroke-width="2"/></svg>
<svg class="s" style="left:953px;top:254px" width="28" height="30" viewBox="0 0 28 30" fill="none"><path d="M0 3 H28" stroke="#303030" stroke-width="2"/><path d="M16 11 H28" stroke="#303030" stroke-width="2"/><path d="M16 19 H28" stroke="#303030" stroke-width="2"/><path d="M0 27 H28" stroke="#303030" stroke-width="2"/><path d="M0 15 H10.5 M6 10.5 L10.5 15 L6 19.5" stroke="#1e88d6" stroke-width="2"/></svg>
<div class="r" style="left:1004px;top:181px;width:2px;height:123px;background:#c6c6c6;"></div>
<div class="t" style="left:1030.24px;top:187.00px;font-size:19px;color:#303030;">ab</div>
<div class="t" style="left:1030.24px;top:204.00px;font-size:19px;color:#303030;">c</div>
<svg class="s" style="left:1042px;top:200px" width="18" height="22" viewBox="0 0 18 22" fill="none"><path d="M14 2 Q17 8 13 12 H3 M7 8 L3 12 L7 16" stroke="#1e88d6" stroke-width="2" fill="none"/></svg>
<div class="t" style="left:1066.48px;top:196.00px;font-size:24.5px;color:#242424;transform:scaleX(0.9668);">Wrap Text</div>
<svg class="s" style="left:1026px;top:254px" width="31" height="30" viewBox="0 0 31 30" fill="none"><rect x="1" y="1" width="29" height="28" stroke="#303030" stroke-width="2"/><path d="M15.5 1 V29" stroke="#303030" stroke-width="2"/>
      <rect x="1" y="7" width="29" height="16" fill="#fff" stroke="#1e88d6" stroke-width="2"/><path d="M5 15 H26 M9 11 L5 15 L9 19 M22 11 L26 15 L22 19" stroke="#1e88d6" stroke-width="2"/></svg>
<div class="t" style="left:1065.01px;top:260.00px;font-size:24.5px;color:#242424;transform:scaleX(1.0145);">Merge &amp; Center</div>
<svg class="s" style="left:1277px;top:267px" width="12" height="7" viewBox="0 0 12 7" fill="none"><path d="M0.8 0.8 L6.0 6.2 L11.2 0.8" stroke="#303030" stroke-width="1.8" stroke-linecap="round" stroke-linejoin="round"/></svg>
<div class="t" style="left:955.00px;top:327.00px;font-size:21.2px;color:#242424;transform:scaleX(1.0061);">Alignment</div>
<svg class="s" style="left:1299px;top:331px" width="17" height="16" viewBox="0 0 17 16" fill="none"><path d="M1 9.5 V1 H13.5" stroke="#303030" stroke-width="1.8" fill="none"/><path d="M4.5 4.5 L14.5 14.5 M8 14.5 H15 V8" stroke="#303030" stroke-width="1.8" fill="none"/></svg>
<div class="r" style="left:1321px;top:168px;width:2px;height:178px;background:#c6c6c6;"></div>
<div class="r" style="left:1340px;top:183px;width:290px;height:46px;background:#ffffff;border:1.6px solid #8a8a8a;border-radius:9px;"></div>
<div class="t" style="left:1342.92px;top:196.00px;font-size:22.5px;color:#242424;transform:scaleX(0.9638);">General</div>
<svg class="s" style="left:1612px;top:204px" width="12" height="7" viewBox="0 0 12 7" fill="none"><path d="M0.8 0.8 L6.0 6.2 L11.2 0.8" stroke="#303030" stroke-width="1.8" stroke-linecap="round" stroke-linejoin="round"/></svg>
<div class="t" style="left:1353.71px;top:251.00px;font-size:38.4px;color:#303030;transform:scaleX(0.7616);">$</div>
<svg class="s" style="left:1395px;top:267px" width="11" height="7" viewBox="0 0 11 7" fill="none"><path d="M0.8 0.8 L5.5 6.2 L10.2 0.8" stroke="#303030" stroke-width="1.8" stroke-linecap="round" stroke-linejoin="round"/></svg>
<div class="t" style="left:1428.42px;top:250.00px;font-size:39px;color:#303030;transform:scaleX(0.9412);">%</div>
<svg class="s" style="left:1490px;top:259px" width="16" height="24" viewBox="0 0 16 24" fill="none"><path d="M8.5 1 C12.5 1 15 3.5 15 7.5 C15 14 10 20 2 23 L1 21.5 C6 19 8.5 16 9 13 C4.5 13 2 10.5 2 7 C2 3.5 4.8 1 8.5 1 Z" fill="#303030"/></svg>
<div class="r" style="left:1525px;top:246px;width:2px;height:47px;background:#c6c6c6;"></div>
<svg class="s" style="left:1538px;top:255px" width="22" height="14" viewBox="0 0 22 14" fill="none"><path d="M19 7 H2 M6 3 L2 7 L6 11" stroke="#1e88d6" stroke-width="2"/></svg>
<div class="t" style="left:1559.98px;top:252.00px;font-size:18.5px;color:#303030;transform:scaleX(0.9797);">0</div>
<div class="t" style="left:1542.19px;top:269.00px;font-size:18.5px;color:#303030;transform:scaleX(1.0854);">.00</div>
<div class="t" style="left:1593.78px;top:252.00px;font-size:18.5px;color:#303030;transform:scaleX(1.0939);">.00</div>
<div class="t" style="left:1604.07px;top:269.00px;font-size:18.5px;color:#303030;transform:scaleX(1.1572);">.0</div>
<svg class="s" style="left:1590px;top:270px" width="20" height="14" viewBox="0 0 20 14" fill="none"><path d="M1 7 H16 M12 3 L16 7 L12 11" stroke="#1e88d6" stroke-width="2"/></svg>
<div class="t" style="left:1429.27px;top:327.00px;font-size:21.2px;color:#242424;transform:scaleX(1.0225);">Number</div>
<svg class="s" style="left:1622.8px;top:331px" width="17" height="16" viewBox="0 0 17 16" fill="none"><path d="M1 9.5 V1 H13.5" stroke="#303030" stroke-width="1.8" fill="none"/><path d="M4.5 4.5 L14.5 14.5 M8 14.5 H15 V8" stroke="#303030" stroke-width="1.8" fill="none"/></svg>
<div class="r" style="left:1645px;top:168px;width:2px;height:178px;background:#c6c6c6;"></div>
<svg class="s" style="left:1709px;top:181px" width="58" height="46" viewBox="0 0 58 46" fill="none"><rect x="2" y="2" width="54.8" height="42.5" fill="#fafafa" stroke="#303030" stroke-width="2"/>
      <path d="M2 16 H56.8 M2 30 H56.8 M46 2 V44.5 M11.5 2 V44.5" stroke="#6a6a6a" stroke-width="1.6"/>
      <rect x="12.5" y="2" width="24" height="14" fill="#f99ca3" stroke="#d0251c" stroke-width="2"/>
      <rect x="12.5" y="16" width="15.5" height="14" fill="#88bdea" stroke="#0f62b8" stroke-width="2"/>
      <rect x="12.5" y="30" width="27.5" height="14.5" fill="#f99ca3" stroke="#d0251c" stroke-width="2"/></svg>
<div class="t" style="left:1676.46px;top:246.00px;font-size:24px;color:#242424;transform:scaleX(1.0329);">Conditional</div>
<div class="t" style="left:1667.00px;top:278.00px;font-size:24px;color:#242424;transform:scaleX(1.0428);">Formatting</div>
<svg class="s" style="left:1795px;top:286px" width="12" height="7" viewBox="0 0 12 7" fill="none"><path d="M0.8 0.8 L6.0 6.2 L11.2 0.8" stroke="#303030" stroke-width="1.8" stroke-linecap="round" stroke-linejoin="round"/></svg>
<svg class="s" style="left:1846px;top:181px" width="64" height="58" viewBox="0 0 64 58" fill="none"><rect x="2" y="2" width="54.5" height="42.5" fill="#fafafa" stroke="#303030" stroke-width="2"/>
      <path d="M2 16 H56.5 M2 30 H56.5 M20 2 V44.5 M38 2 V44.5" stroke="#6a6a6a" stroke-width="1.6"/>
      <rect x="20" y="16" width="36.5" height="28.5" fill="#88bdea" stroke="#0f62b8" stroke-width="2"/>
      <path d="M38 16 V44.5 M20 30 H56.5" stroke="#0f62b8" stroke-width="2"/><path d="M59 14 Q63 17 58 23 L37 46 L31 41 L53 18 Q56 13 59 14 Z" fill="#fff" stroke="#fff" stroke-width="5" stroke-linejoin="round"/>
      <path d="M31 41 Q20 40 19 49 Q18 53 14 54 Q27 60 34 52 Q37 48 37 46 Z" fill="#fff" stroke="#fff" stroke-width="5" stroke-linejoin="round"/>
      <path d="M59 14 Q63 17 58 23 L37 46 L31 41 L53 18 Q56 13 59 14 Z" fill="#fafafa" stroke="#303030" stroke-width="2" stroke-linejoin="round"/>
      <path d="M31 41 Q20 40 19 49 Q18 53 14 54 Q27 60 34 52 Q37 48 37 46 Z" fill="#88bdea" stroke="#0f62b8" stroke-width="2" stroke-linejoin="round"/></svg>
<div class="t" style="left:1822.13px;top:246.00px;font-size:24px;color:#242424;transform:scaleX(0.9740);">Format as</div>
<div class="t" style="left:1836.54px;top:278.00px;font-size:24px;color:#242424;transform:scaleX(0.9498);">Table</div>
<svg class="s" style="left:1899px;top:286px" width="12" height="7" viewBox="0 0 12 7" fill="none"><path d="M0.8 0.8 L6.0 6.2 L11.2 0.8" stroke="#303030" stroke-width="1.8" stroke-linecap="round" stroke-linejoin="round"/></svg>
<svg class="s" style="left:1955px;top:181px" width="64" height="58" viewBox="0 0 64 58" fill="none"><rect x="2" y="2" width="54.5" height="42.5" fill="#fafafa" stroke="#303030" stroke-width="2"/>
      <path d="M2 12 H56.5 M2 33.8 H56.5 M12 2 V44.5 M46.7 2 V44.5" stroke="#6a6a6a" stroke-width="1.6"/>
      <rect x="12" y="11.5" width="34.5" height="22.3" fill="#88bdea" stroke="#0f62b8" stroke-width="2"/><path d="M59 14 Q63 17 58 23 L37 46 L31 41 L53 18 Q56 13 59 14 Z" fill="#fff" stroke="#fff" stroke-width="5" stroke-linejoin="round"/>
      <path d="M31 41 Q20 40 19 49 Q18 53 14 54 Q27 60 34 52 Q37 48 37 46 Z" fill="#fff" stroke="#fff" stroke-width="5" stroke-linejoin="round"/>
      <path d="M59 14 Q63 17 58 23 L37 46 L31 41 L53 18 Q56 13 59 14 Z" fill="#fafafa" stroke="#303030" stroke-width="2" stroke-linejoin="round"/>
      <path d="M31 41 Q20 40 19 49 Q18 53 14 54 Q27 60 34 52 Q37 48 37 46 Z" fill="#88bdea" stroke="#0f62b8" stroke-width="2" stroke-linejoin="round"/></svg>
<div class="t" style="left:1963.41px;top:246.00px;font-size:24px;color:#242424;transform:scaleX(0.9917);">Cell</div>
<div class="t" style="left:1941.66px;top:278.00px;font-size:24px;color:#242424;transform:scaleX(0.9657);">Styles</div>
<svg class="s" style="left:2012px;top:286px" width="12" height="7" viewBox="0 0 12 7" fill="none"><path d="M0.8 0.8 L6.0 6.2 L11.2 0.8" stroke="#303030" stroke-width="1.8" stroke-linecap="round" stroke-linejoin="round"/></svg>
<div class="t" style="left:1820.84px;top:327.00px;font-size:21.2px;color:#242424;transform:scaleX(0.9006);">Styles</div>
<div class="r" style="left:2046px;top:168px;width:2px;height:178px;background:#c6c6c6;"></div>
<svg class="s" style="left:2072px;top:170px" width="70" height="60" viewBox="0 0 70 60" fill="none"><rect x="7" y="13" width="54" height="42" fill="#fafafa" stroke="#303030" stroke-width="2"/>
      <path d="M24.8 13 V55 M43 13 V55 M7 26.3 H61 M7 41.4 H61" stroke="#6a6a6a" stroke-width="1.6"/>
      <rect x="14" y="27.3" width="50.7" height="13.1" fill="#88bdea" stroke="#0f62b8" stroke-width="2"/>
      <path d="M28.9 27.3 V40.4 M47 27.3 V40.4" stroke="#0f62b8" stroke-width="2"/>
      <path d="M16.3 20.2 L2.6 32.8 L15.8 45.5 M2.6 32.8 H28" stroke="#fafafa" stroke-width="6" fill="none"/>
      <path d="M16.3 20.2 L2.6 32.8 L15.8 45.5 M2.6 32.8 H28" stroke="#1e88d6" stroke-width="2.2" fill="none"/></svg>
<div class="t" style="left:2074.84px;top:248.00px;font-size:24px;color:#242424;">Insert</div>
<svg class="s" style="left:2100px;top:287px" width="11" height="7" viewBox="0 0 11 7" fill="none"><path d="M0.8 0.8 L5.5 6.2 L10.2 0.8" stroke="#303030" stroke-width="1.8" stroke-linecap="round" stroke-linejoin="round"/></svg>
<svg class="s" style="left:2160px;top:170px" width="68" height="60" viewBox="0 0 68 60" fill="none"><rect x="7.5" y="13" width="53" height="42" fill="#fafafa" stroke="#303030" stroke-width="2"/>
      <path d="M24.6 13 V55 M42.8 13 V55 M7.5 26.3 H60.5 M7.5 41.4 H60.5" stroke="#6a6a6a" stroke-width="1.6"/>
      <rect x="5" y="27.3" width="8" height="13.1" fill="#ffffff"/>
      <path d="M6.5 26.3 H14 M6.5 41.4 H14" stroke="#303030" stroke-width="2"/>
      <path d="M14 27.3 H39.8 L46.9 34.9 L39.8 40.4 H14 Z" fill="#88bdea" stroke="#0f62b8" stroke-width="2" stroke-linejoin="round"/>
      <path d="M32.7 27.3 V40.4" stroke="#0f62b8" stroke-width="2"/>
      <path d="M41.8 23.8 L64.5 46.5 M64.5 23.8 L41.8 46.5" stroke="#fafafa" stroke-width="6"/>
      <path d="M41.8 23.8 L64.5 46.5 M64.5 23.8 L41.8 46.5" stroke="#e53935" stroke-width="2.4"/></svg>
<div class="t" style="left:2158.03px;top:248.00px;font-size:24px;color:#242424;transform:scaleX(1.0247);">Delete</div>
<svg class="s" style="left:2187px;top:287px" width="12" height="7" viewBox="0 0 12 7" fill="none"><path d="M0.8 0.8 L6.0 6.2 L11.2 0.8" stroke="#303030" stroke-width="1.8" stroke-linecap="round" stroke-linejoin="round"/></svg>
<svg class="s" style="left:2254px;top:170px" width="58" height="58" viewBox="0 0 58 58" fill="none"><rect x="2.3" y="13" width="53.5" height="42" fill="#fafafa" stroke="#303030" stroke-width="2"/>
      <path d="M16 13 V55 M42.2 13 V55 M2.3 26.8 H55.8 M2.3 40.9 H55.8" stroke="#6a6a6a" stroke-width="1.6"/>
      <rect x="16" y="27" width="26.3" height="14" fill="#88bdea" stroke="#0f62b8" stroke-width="2"/>
      <path d="M14.4 4.8 H44.7 M14.4 2 V7.6 M44.7 2 V7.6" stroke="#1e88d6" stroke-width="2"/></svg>
<div class="t" style="left:2243.88px;top:246.00px;font-size:24px;color:#242424;">Format</div>
<svg class="s" style="left:2276px;top:285px" width="12" height="7" viewBox="0 0 12 7" fill="none"><path d="M0.8 0.8 L6.0 6.2 L11.2 0.8" stroke="#303030" stroke-width="1.8" stroke-linecap="round" stroke-linejoin="round"/></svg>
<div class="t" style="left:2172.62px;top:327.00px;font-size:21.2px;color:#242424;transform:scaleX(0.9214);">Cells</div>
<div class="r" style="left:2340px;top:168px;width:2px;height:178px;background:#c6c6c6;"></div>
<svg class="s" style="left:2369px;top:176px" width="26" height="29" viewBox="0 0 26 29" fill="none"><path d="M25 5 V1 H2 L14 14.5 L2 28 H25 V24" stroke="#303030" stroke-width="2.2" fill="none"/></svg>
<div class="t" style="left:2406.50px;top:180.00px;font-size:24px;color:#242424;">AutoSum</div>
<svg class="s" style="left:2542px;top:187px" width="12" height="7" viewBox="0 0 12 7" fill="none"><path d="M0.8 0.8 L6.0 6.2 L11.2 0.8" stroke="#303030" stroke-width="1.8" stroke-linecap="round" stroke-linejoin="round"/></svg>
<svg class="s" style="left:2366px;top:228px" width="32" height="28" viewBox="0 0 32 28" fill="none"><rect x="1" y="1" width="30" height="26" fill="#fafafa" stroke="#303030" stroke-width="2"/><path d="M1 6 H31" stroke="#303030" stroke-width="2"/><path d="M15 10 V22 M10 17 L15 22 L20 17" stroke="#1e88d6" stroke-width="2"/></svg>
<div class="t" style="left:2405.09px;top:231.00px;font-size:24px;color:#242424;transform:scaleX(0.9956);">Fill</div>
<svg class="s" style="left:2444px;top:240px" width="12" height="7" viewBox="0 0 12 7" fill="none"><path d="M0.8 0.8 L6.0 6.2 L11.2 0.8" stroke="#303030" stroke-width="1.8" stroke-linecap="round" stroke-linejoin="round"/></svg>
<svg class="s" style="left:2366px;top:278px" width="32" height="32" viewBox="0 0 32 32" fill="none"><path d="M1.5 20 L12 30.5 L30.5 12 L20 1.5 Z" fill="#fafafa" stroke="#9b2aad" stroke-width="2.2" stroke-linejoin="round"/><path d="M1.5 20 L12 30.5 L18 24.5 L7.5 14 Z" fill="#dca0e6" stroke="#9b2aad" stroke-width="2.2"/></svg>
<div class="t" style="left:2405.34px;top:283.00px;font-size:24px;color:#242424;transform:scaleX(0.9662);">Clear</div>
<svg class="s" style="left:2468px;top:291px" width="12" height="7" viewBox="0 0 12 7" fill="none"><path d="M0.8 0.8 L6.0 6.2 L11.2 0.8" stroke="#303030" stroke-width="1.8" stroke-linecap="round" stroke-linejoin="round"/></svg>
<div class="t" style="left:2591.00px;top:174.00px;font-size:32.5px;color:#1e88d6;transform:scaleX(0.9115);">A</div>
<div class="t" style="left:2590.55px;top:202.00px;font-size:32.5px;color:#303030;transform:scaleX(0.9790);">Z</div>
<svg class="s" style="left:2615px;top:189px" width="33" height="34" viewBox="0 0 33 34" fill="none"><path d="M1.5 1.5 H31.5 V6 L21 17 V32 H14 V17 L1.5 6 Z" fill="#fafafa" stroke="#303030" stroke-width="2.2" stroke-linejoin="round"/></svg>
<div class="t" style="left:2584.37px;top:246.00px;font-size:24px;color:#242424;transform:scaleX(1.0421);">Sort &amp;</div>
<div class="t" style="left:2580.66px;top:278.00px;font-size:24px;color:#242424;transform:scaleX(1.0078);">Filter</div>
<svg class="s" style="left:2643px;top:286px" width="12" height="7" viewBox="0 0 12 7" fill="none"><path d="M0.8 0.8 L6.0 6.2 L11.2 0.8" stroke="#303030" stroke-width="1.8" stroke-linecap="round" stroke-linejoin="round"/></svg>
<svg class="s" style="left:2685px;top:175px" width="62" height="60" viewBox="0 0 62 60" fill="none"><circle cx="38" cy="22" r="20.5" fill="#fafafa" stroke="#303030" stroke-width="2.2"/><path d="M23 37 L2 58" stroke="#303030" stroke-width="2.2"/></svg>
<div class="t" style="left:2679.00px;top:246.00px;font-size:24px;color:#242424;transform:scaleX(1.0435);">Find &amp;</div>
<div class="t" style="left:2671.57px;top:278.00px;font-size:24px;color:#242424;transform:scaleX(0.9541);">Select</div>
<svg class="s" style="left:2745px;top:286px" width="12" height="7" viewBox="0 0 12 7" fill="none"><path d="M0.8 0.8 L6.0 6.2 L11.2 0.8" stroke="#303030" stroke-width="1.8" stroke-linecap="round" stroke-linejoin="round"/></svg>
<div class="t" style="left:2528.29px;top:327.00px;font-size:21.2px;color:#242424;transform:scaleX(1.0099);">Editing</div>
<div class="r" style="left:2779px;top:168px;width:2px;height:178px;background:#c6c6c6;"></div>
<svg class="s" style="left:2816px;top:176px" width="56" height="56" viewBox="0 0 56 56" fill="none"><rect x="1.2" y="1.2" width="53.6" height="53.6" stroke="#d83b01" stroke-width="2.2"/><rect x="7.3" y="7.3" width="17.5" height="17.5" stroke="#d83b01" stroke-width="2.2"/><rect x="31.2" y="7.3" width="17.5" height="17.5" stroke="#d83b01" stroke-width="2.2"/><rect x="7.3" y="31.2" width="17.5" height="17.5" stroke="#d83b01" stroke-width="2.2"/><rect x="31.2" y="31.2" width="17.5" height="17.5" stroke="#d83b01" stroke-width="2.2"/></svg>
<div class="t" style="left:2802.70px;top:246.00px;font-size:24px;color:#242424;transform:scaleX(1.0196);">Add-ins</div>
<div class="t" style="left:2808.00px;top:327.00px;font-size:21.2px;color:#242424;transform:scaleX(0.9898);">Add-ins</div>
<div class="r" style="left:2905px;top:168px;width:2px;height:178px;background:#c6c6c6;"></div>
<svg class="s" style="left:2940px;top:175px" width="60" height="60" viewBox="0 0 60 60" fill="none"><rect x="3" y="2" width="53.5" height="54" fill="#fafafa" stroke="#303030" stroke-width="2"/><rect x="4" y="3" width="51.5" height="6.5" fill="#bdbdbd"/>
      <path d="M4 25.5 H55.5 M4 40.5 H55.5 M19.4 9.5 V55 M37.4 9.5 V55" stroke="#8a8a8a" stroke-width="1.5"/>
      <circle cx="27.7" cy="23.5" r="19.5" fill="#fff"/>
      <path d="M38 38 L56 55.5" stroke="#fff" stroke-width="6"/>
      <circle cx="27.7" cy="23.5" r="16.8" fill="#fafafa" stroke="#303030" stroke-width="2.2"/>
      <path d="M39.8 35.5 L55.5 51" stroke="#303030" stroke-width="2.4"/>
      <rect x="17.5" y="22" width="5" height="9.5" fill="#c8c8c8" stroke="#8a8a8a" stroke-width="1.2"/>
      <rect x="23.3" y="14" width="5.5" height="17.5" fill="#fff" stroke="#303030" stroke-width="1.6"/>
      <rect x="30.5" y="17.5" width="4.8" height="14" fill="#88bdea" stroke="#0f62b8" stroke-width="1.6"/></svg>
<div class="t" style="left:2928.80px;top:246.00px;font-size:24px;color:#242424;transform:scaleX(0.9675);">Analyze</div>
<div class="t" style="left:2944.13px;top:278.00px;font-size:24px;color:#242424;transform:scaleX(0.9750);">Data</div>
<div class="r" style="left:3031px;top:168px;width:2px;height:178px;background:#c6c6c6;"></div>
<svg class="s" style="left:3088px;top:178px" width="60" height="60" viewBox="0 0 60 60" fill="none"><path d="M30 48 H9 Q3 48 3 42 V9 Q3 3 9 3 H30 L40 13 V25" stroke="#2b6fe0" stroke-width="2.4" fill="none" stroke-linejoin="round"/>
      <path d="M30 3 V9 Q30 13 34 13 H40" stroke="#2b6fe0" stroke-width="2" fill="none"/>
      <path d="M12 31 Q17 27 20 21 Q23 14 22 11 Q20 9 19 12 Q18 16 22 23 Q26 29 32 29 Q35 29 34 27 Q30 25 23 27 Q15 30 12 33 Q11 35 12 31 Z" stroke="#2b6fe0" stroke-width="1.5" fill="none" stroke-linejoin="round"/>
      <g transform="rotate(-45 40 41)" stroke="#fff" stroke-width="6" fill="none"><rect x="26" y="36" width="16" height="10" rx="5"/><rect x="38" y="36" width="16" height="10" rx="5"/></g>
      <g transform="rotate(-45 40 41)" stroke="#2b6fe0" stroke-width="2.6" fill="none"><rect x="26" y="36" width="16" height="10" rx="5"/><rect x="38" y="36" width="16" height="10" rx="5"/></g></svg>
<div class="t" style="left:3074.24px;top:246.00px;font-size:24px;color:#242424;transform:scaleX(0.9653);">Create</div>
<div class="t" style="left:3078.12px;top:278.00px;font-size:24px;color:#242424;transform:scaleX(0.9135);">a PDF</div>
<div class="t" style="left:3039.30px;top:327.00px;font-size:21.2px;color:#242424;">Adobe Acrobat</div>
<div class="r" style="left:3185px;top:168px;width:2px;height:178px;background:#c6c6c6;"></div>
<svg class="s" style="left:3285px;top:326px" width="19" height="10" viewBox="0 0 19 10" fill="none"><path d="M0.8 0.8 L9.5 9.2 L18.2 0.8" stroke="#303030" stroke-width="2" stroke-linecap="round" stroke-linejoin="round"/></svg>
<div class="r" style="left:3295px;top:330px;width:41px;height:36px;background:#505050;"></div>
<div class="t" style="left:3300.98px;top:338.00px;font-size:24px;color:#ffffff;transform:scaleX(0.9200);">ZR</div>
<div class="r" style="left:45px;top:151px;width:30px;height:36px;background:#505050;"></div>
<div class="t" style="left:52.82px;top:159.00px;font-size:24px;color:#ffffff;transform:scaleX(0.9200);">F</div>
<div class="r" style="left:159px;top:151px;width:30px;height:36px;background:#505050;"></div>
<div class="t" style="left:166.05px;top:159.00px;font-size:24px;color:#ffffff;transform:scaleX(0.9200);">H</div>
<div class="r" style="left:269px;top:151px;width:30px;height:36px;background:#505050;"></div>
<div class="t" style="left:276.05px;top:159.00px;font-size:24px;color:#ffffff;transform:scaleX(0.9200);">N</div>
<div class="r" style="left:374px;top:151px;width:30px;height:36px;background:#505050;"></div>
<div class="t" style="left:381.27px;top:159.00px;font-size:24px;color:#ffffff;transform:scaleX(0.9200);">JI</div>
<div class="r" style="left:518px;top:151px;width:30px;height:36px;background:#505050;"></div>
<div class="t" style="left:525.33px;top:159.00px;font-size:24px;color:#ffffff;transform:scaleX(0.9200);">P</div>
<div class="r" style="left:685px;top:151px;width:34px;height:36px;background:#505050;"></div>
<div class="t" style="left:692.84px;top:159.00px;font-size:24px;color:#ffffff;transform:scaleX(0.9200);">M</div>
<div class="r" style="left:810px;top:151px;width:30px;height:36px;background:#505050;"></div>
<div class="t" style="left:817.66px;top:159.00px;font-size:24px;color:#ffffff;transform:scaleX(0.9200);">A</div>
<div class="r" style="left:919px;top:151px;width:30px;height:36px;background:#505050;"></div>
<div class="t" style="left:925.66px;top:159.00px;font-size:24px;color:#ffffff;transform:scaleX(0.9200);">R</div>
<div class="r" style="left:1027px;top:151px;width:34px;height:36px;background:#505050;"></div>
<div class="t" style="left:1033.57px;top:159.00px;font-size:24px;color:#ffffff;transform:scaleX(0.9200);">W</div>
<div class="r" style="left:1157px;top:151px;width:30px;height:36px;background:#505050;"></div>
<div class="t" style="left:1164.05px;top:159.00px;font-size:24px;color:#ffffff;transform:scaleX(0.9200);">U</div>
<div class="r" style="left:1280px;top:151px;width:38px;height:36px;background:#505050;"></div>
<div class="t" style="left:1285.75px;top:159.00px;font-size:24px;color:#ffffff;transform:scaleX(0.9200);">Y1</div>
<div class="r" style="left:1395px;top:151px;width:38px;height:36px;background:#505050;"></div>
<div class="t" style="left:1400.81px;top:159.00px;font-size:24px;color:#ffffff;transform:scaleX(0.9200);">Y2</div>
<div class="r" style="left:18px;top:374px;width:201px;height:44px;background:#ffffff;border:1px solid #d6d6d6;border-radius:10px;"></div>
<div class="t" style="left:25.20px;top:384.00px;font-size:27px;color:#242424;transform:scaleX(0.8889);">A1</div>
<svg class="s" style="left:185px;top:393px" width="19" height="10" viewBox="0 0 19 10" fill="none"><path d="M0.8 0.8 L9.5 9.2 L18.2 0.8" stroke="#303030" stroke-width="2.2" stroke-linecap="round" stroke-linejoin="round"/></svg>
<div class="r" style="left:238px;top:386px;width:4px;height:4px;background:#303030;"></div>
<div class="r" style="left:238px;top:394px;width:4px;height:4px;background:#303030;"></div>
<div class="r" style="left:238px;top:402px;width:4px;height:4px;background:#303030;"></div>
<div class="r" style="left:261px;top:374px;width:168px;height:44px;background:#ffffff;border:1px solid #d6d6d6;border-radius:10px;"></div>
<svg class="s" style="left:272px;top:384px" width="25" height="25" viewBox="0 0 25 25" fill="none"><path d="M1 1 L24 24 M24 1 L1 24" stroke="#ababab" stroke-width="2"/></svg>
<svg class="s" style="left:317px;top:384px" width="32" height="23" viewBox="0 0 32 23" fill="none"><path d="M1 12 L11 22 L31 1" stroke="#ababab" stroke-width="2"/></svg>
<div class="t" style="left:365.59px;top:379.00px;font-size:30px;color:#303030;font-style:italic;font-family:'Liberation Serif',serif;transform:scaleX(1.3712);">fx</div>
<svg class="s" style="left:406px;top:395px" width="19" height="10" viewBox="0 0 19 10" fill="none"><path d="M0.8 0.8 L9.5 9.2 L18.2 0.8" stroke="#8a8a8a" stroke-width="2" stroke-linecap="round" stroke-linejoin="round"/></svg>
<div class="r" style="left:439px;top:374px;width:2883px;height:44px;background:#ffffff;border:1px solid #d6d6d6;border-radius:10px;"></div>
<svg class="s" style="left:3295px;top:390px" width="19" height="10" viewBox="0 0 19 10" fill="none"><path d="M0.8 0.8 L9.5 9.2 L18.2 0.8" stroke="#303030" stroke-width="2.2" stroke-linecap="round" stroke-linejoin="round"/></svg>
<div class="r" style="left:3065px;top:128px;width:41px;height:36px;background:#505050;"></div>
<div class="t" style="left:3070.87px;top:136.00px;font-size:24px;color:#ffffff;transform:scaleX(0.9200);">ZC</div>
<div class="r" style="left:3244px;top:128px;width:39px;height:36px;background:#505050;"></div>
<div class="t" style="left:3249.59px;top:136.00px;font-size:24px;color:#ffffff;transform:scaleX(0.9200);">ZS</div>
<div class="r" style="left:2px;top:1721px;width:3337px;height:65px;background:linear-gradient(90deg,#ece9e4 0%,#ebe9e6 40%,#e6e9ee 70%,#e6e9ee 100%);"></div>
<div class="r" style="left:200px;top:1721px;width:500px;height:12px;background:#ffffff;"></div>
<div class="r" style="left:2px;top:1721px;width:216px;height:65px;background:linear-gradient(90deg,#ece9e4 0%,#ece9e4 100%);border-top-right-radius:10px;"></div>
<div class="r" style="left:685px;top:1721px;width:715px;height:65px;background:linear-gradient(90deg,#ece9e4 0%,#ebe9e5 100%);border-top-left-radius:10px;"></div>
<svg class="s" style="left:43px;top:1743px" width="13" height="21" viewBox="0 0 13 21" fill="none"><path d="M11 1 L2 10.5 L11 20" stroke="#8a8a8a" stroke-width="2"/></svg>
<svg class="s" style="left:108px;top:1743px" width="13" height="21" viewBox="0 0 13 21" fill="none"><path d="M2 1 L11 10.5 L2 20" stroke="#8a8a8a" stroke-width="2"/></svg>
<div class="r" style="left:217px;top:1721px;width:469px;height:59px;background:#ffffff;border-radius:0 0 10px 10px;box-shadow:0 1px 2px rgba(0,0,0,.15);"></div>
<div class="t" style="left:233.70px;top:1735.00px;font-size:27.5px;color:#242424;font-weight:bold;transform:scaleX(0.9661);">Summary GD Socket Brd ID-001 r2</div>
<div class="r" style="left:234px;top:1768px;width:435px;height:4px;background:#107c41;"></div>
<div class="r" style="left:693px;top:1736px;width:2px;height:35px;background:#c8c8c8;"></div>
<div class="t" style="left:720.18px;top:1742.00px;font-size:27.5px;color:#242424;transform:scaleX(0.9875);">Summary GD Socket Brd ID-001 r1</div>
<div class="r" style="left:1174px;top:1736px;width:2px;height:35px;background:#c8c8c8;"></div>
<svg class="s" style="left:1260px;top:1743px" width="22" height="22" viewBox="0 0 22 22" fill="none"><path d="M11 0 V22 M0 11 H22" stroke="#242424" stroke-width="2"/></svg>
<div class="r" style="left:2009px;top:1744px;width:8px;height:4px;background:#404040;"></div>
<div class="r" style="left:2009px;top:1752px;width:8px;height:4px;background:#404040;"></div>
<div class="r" style="left:2009px;top:1760px;width:8px;height:4px;background:#404040;"></div>
<div class="r" style="left:2045px;top:1736px;width:1256px;height:34px;background:#f5f5f5;border-radius:17px;"></div>
<svg class="s" style="left:2056px;top:1745px" width="13" height="17" viewBox="0 0 13 17" fill="none"><path d="M12 1 L1 8.5 L12 16 Z" fill="#707070" stroke="#707070" stroke-linejoin="round"/></svg>
<div class="r" style="left:2079px;top:1745px;width:1144px;height:16px;background:#707070;border-radius:8px;"></div>
<svg class="s" style="left:3278px;top:1745px" width="13" height="17" viewBox="0 0 13 17" fill="none"><path d="M1 1 L12 8.5 L1 16 Z" fill="#707070" stroke="#707070" stroke-linejoin="round"/></svg>
<div class="r" style="left:2px;top:1786px;width:3337px;height:44px;background:#f3f3f3;border-radius:0 0 14px 14px;"></div>
<div class="t" style="left:23.23px;top:1800.00px;font-size:21.5px;color:#303030;transform:scaleX(0.9137);">Ready</div>
<svg class="s" style="left:119px;top:1798px" width="32" height="28" viewBox="0 0 32 28" fill="none"><circle cx="12" cy="4" r="3" stroke="#303030" stroke-width="1.8"/><path d="M2 9 Q6 12 12 11 Q18 12 22 9 M12 11 V18 Q10 24 8 26 Q6 27 6 25" stroke="#303030" stroke-width="1.8" fill="none"/><path d="M15 21 L20 26 L30 15" stroke="#303030" stroke-width="2" fill="none"/></svg>
<div class="t" style="left:156.00px;top:1800.00px;font-size:21.5px;color:#303030;transform:scaleX(0.9635);">Accessibility: Good to go</div>
<svg class="s" style="left:2500px;top:1797px" width="30" height="28" viewBox="0 0 30 28" fill="none"><rect x="1" y="1" width="26" height="19" stroke="#303030" stroke-width="1.8"/><path d="M8 25 H16" stroke="#303030" stroke-width="1.8"/><circle cx="21" cy="20" r="5" fill="#f3f3f3" stroke="#303030" stroke-width="1.8"/></svg>
<div class="t" style="left:2534.95px;top:1800.00px;font-size:21.5px;color:#303030;transform:scaleX(0.9586);">Display Settings</div>
<div class="r" style="left:2721px;top:1788px;width:80px;height:42px;background:#e0e0e0;"></div>
<svg class="s" style="left:2747px;top:1797px" width="26" height="24" viewBox="0 0 26 24" fill="none"><rect x="1" y="1" width="24" height="22" stroke="#303030" stroke-width="1.8"/><path d="M9 1 V23 M17 1 V23 M1 8.3 H25 M1 15.6 H25" stroke="#303030" stroke-width="1.8"/></svg>
<svg class="s" style="left:2827px;top:1797px" width="28" height="24" viewBox="0 0 28 24" fill="none"><rect x="1" y="1" width="26" height="22" stroke="#303030" stroke-width="1.8"/><rect x="6" y="5" width="16" height="14" stroke="#303030" stroke-width="1.6"/><path d="M9 9 H19 M9 12 H19 M9 15 H19" stroke="#303030" stroke-width="1.4"/></svg>
<svg class="s" style="left:2907px;top:1797px" width="28" height="24" viewBox="0 0 28 24" fill="none"><path d="M1 1 H27 V23 H1 Z M14 1 V12 H27" stroke="#303030" stroke-width="1.8" fill="none"/></svg>
<div class="r" style="left:2973px;top:1808px;width:15px;height:2px;background:#606060;"></div>
<div class="r" style="left:2999px;top:1808px;width:199px;height:2px;background:#8a8a8a;"></div>
<div class="r" style="left:3079px;top:1798px;width:10px;height:22px;background:#606060;border-radius:2px;"></div>
<div class="r" style="left:3098px;top:1804px;width:2px;height:10px;background:#606060;"></div>
<div class="r" style="left:3209px;top:1808px;width:16px;height:2px;background:#606060;"></div>
<div class="r" style="left:3216px;top:1801px;width:2px;height:16px;background:#606060;"></div>
<div class="t" style="left:3249.10px;top:1800.00px;font-size:21.5px;color:#303030;transform:scaleX(0.9327);">85%</div>
</body></html>
